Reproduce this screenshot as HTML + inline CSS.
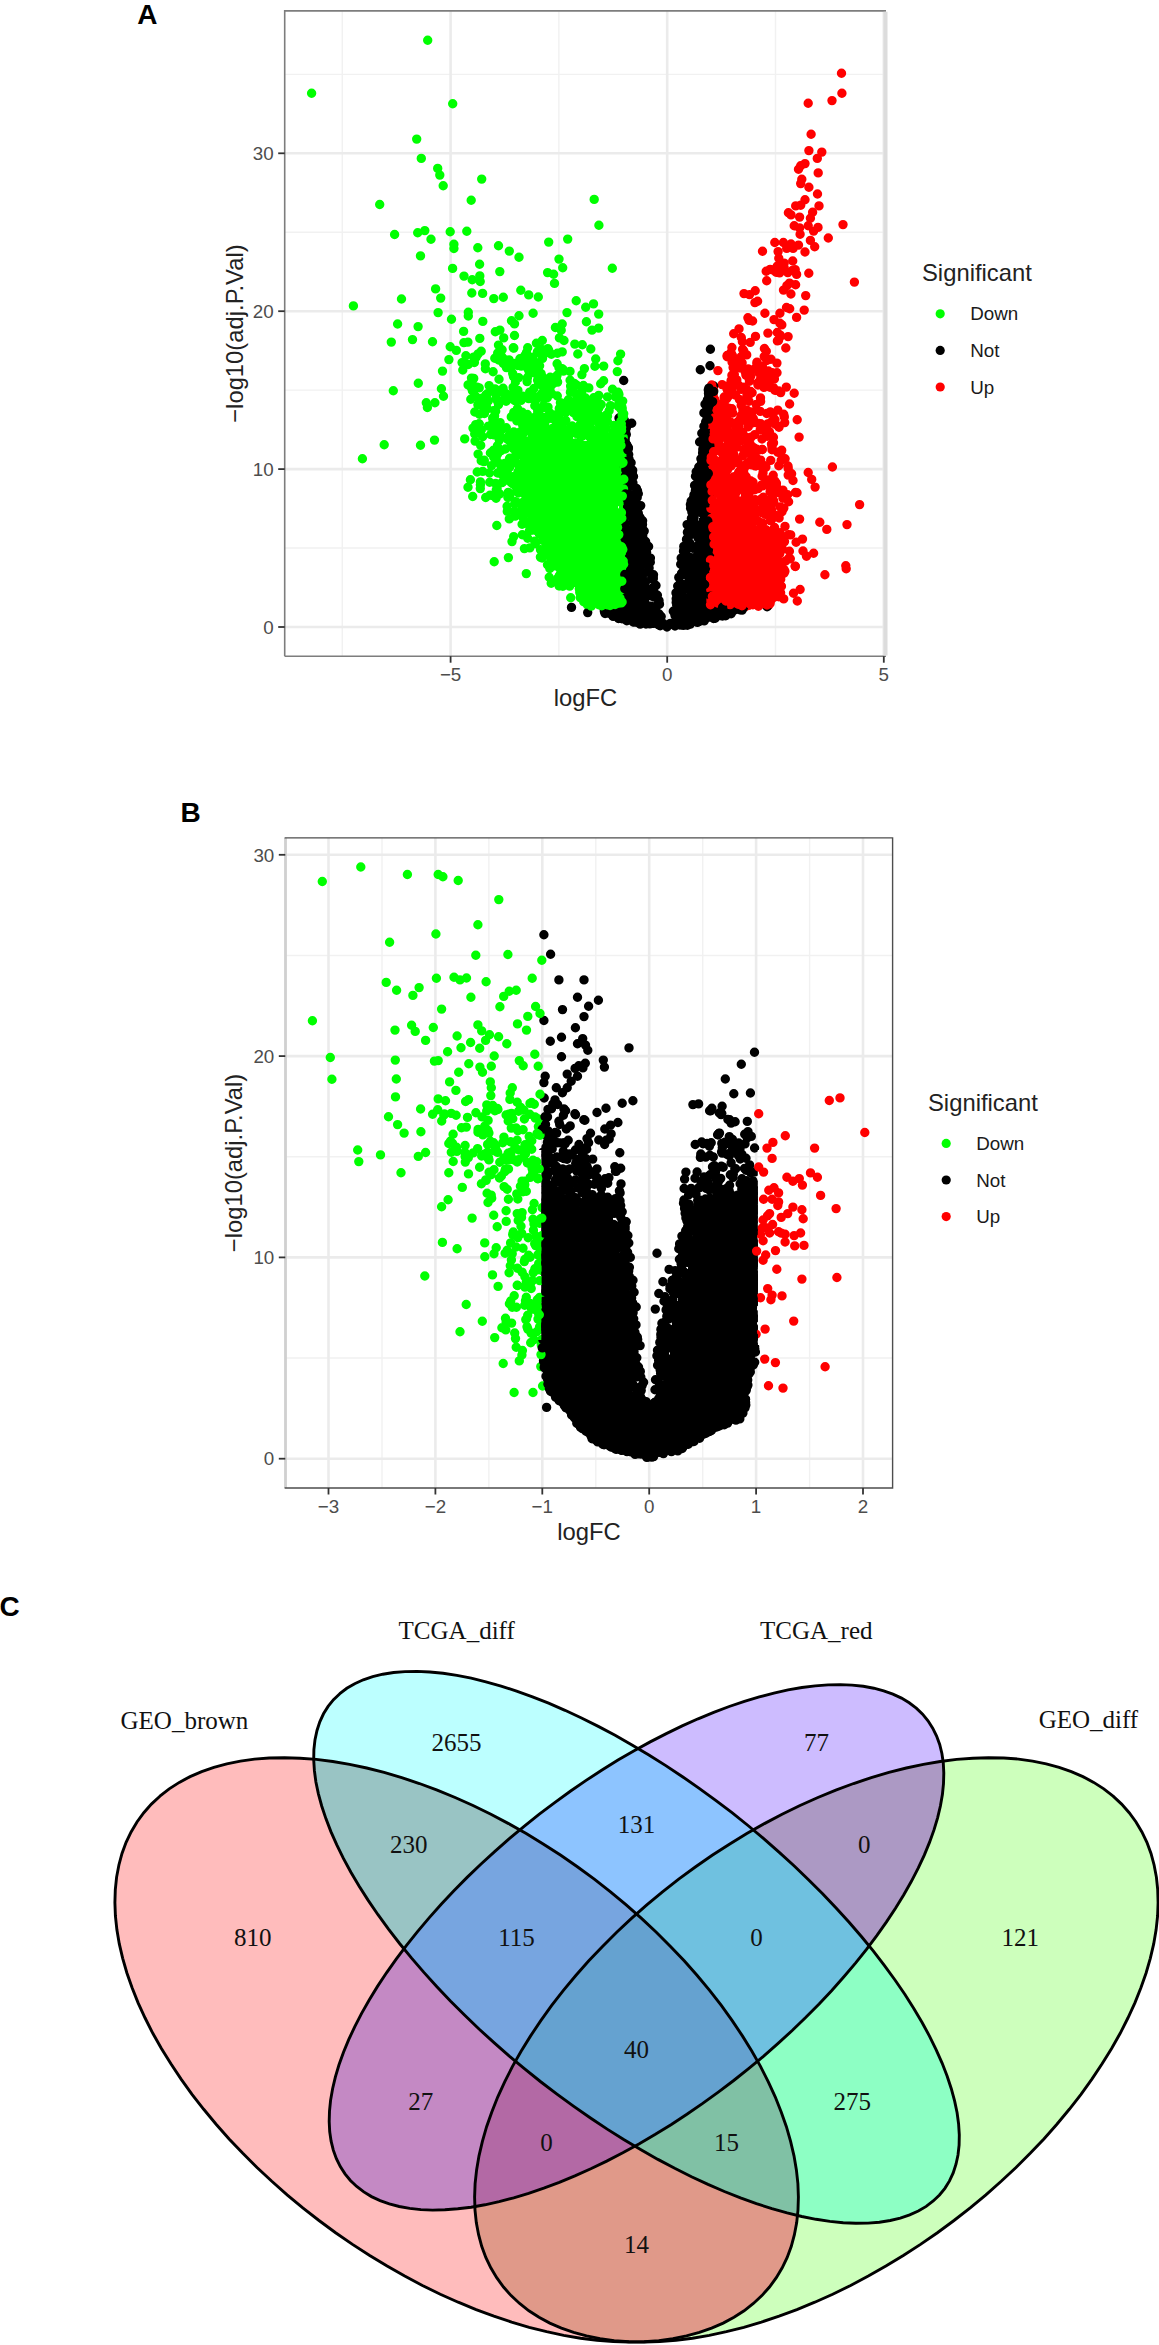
<!DOCTYPE html>
<html><head><meta charset="utf-8"><title>Figure</title>
<style>
html,body{margin:0;padding:0;background:#fff;}
body{width:1159px;height:2345px;overflow:hidden;font-family:"Liberation Sans",sans-serif;}
svg{display:block;}
text{font-family:"Liberation Sans",sans-serif;}
.tk{font-size:18.8px;fill:#4d4d4d;}
.ti{font-size:23.8px;fill:#222;}
.lg{font-size:18.8px;fill:#1a1a1a;}
.pl{font-size:28px;font-weight:bold;fill:#000;}
.vn{font-family:"Liberation Serif",serif;font-size:25px;fill:#111;}
</style></head><body>
<svg width="1159" height="2345" viewBox="0 0 1159 2345">
<rect width="1159" height="2345" fill="#fff"/>
<!-- Panel A -->
<text x="137.3" y="23.6" class="pl">A</text>
<rect x="284.7" y="10.9" width="601.3" height="645.3" fill="#fff"/>
<line x1="342.3" x2="342.3" y1="10.9" y2="656.2" stroke="#f1f1f1" stroke-width="1.4"/>
<line x1="558.9" x2="558.9" y1="10.9" y2="656.2" stroke="#f1f1f1" stroke-width="1.4"/>
<line x1="775.5" x2="775.5" y1="10.9" y2="656.2" stroke="#f1f1f1" stroke-width="1.4"/>
<line y1="548.0" y2="548.0" x1="284.7" x2="886.0" stroke="#f1f1f1" stroke-width="1.4"/>
<line y1="390.1" y2="390.1" x1="284.7" x2="886.0" stroke="#f1f1f1" stroke-width="1.4"/>
<line y1="232.2" y2="232.2" x1="284.7" x2="886.0" stroke="#f1f1f1" stroke-width="1.4"/>
<line y1="74.4" y2="74.4" x1="284.7" x2="886.0" stroke="#f1f1f1" stroke-width="1.4"/>
<line x1="450.6" x2="450.6" y1="10.9" y2="656.2" stroke="#ebebeb" stroke-width="2.6"/>
<line x1="667.2" x2="667.2" y1="10.9" y2="656.2" stroke="#ebebeb" stroke-width="2.6"/>
<line x1="883.8" x2="883.8" y1="10.9" y2="656.2" stroke="#ebebeb" stroke-width="2.6"/>
<line y1="627.0" y2="627.0" x1="284.7" x2="886.0" stroke="#ebebeb" stroke-width="2.6"/>
<line y1="469.1" y2="469.1" x1="284.7" x2="886.0" stroke="#ebebeb" stroke-width="2.6"/>
<line y1="311.2" y2="311.2" x1="284.7" x2="886.0" stroke="#ebebeb" stroke-width="2.6"/>
<line y1="153.3" y2="153.3" x1="284.7" x2="886.0" stroke="#ebebeb" stroke-width="2.6"/>
<g id="scatterA">
<path d="M703 496h2v2h-2zM703 498h2v2h-2zM703 500h2v2h-2zM702 502h3v2h-3zM702 504h3v2h-3zM702 506h3v2h-3zM701 508h4v2h-4zM701 510h4v2h-4zM630 512h2v2h-2zM700 512h5v2h-5zM630 514h2v2h-2zM700 514h5v2h-5zM630 516h2v2h-2zM700 516h5v2h-5zM630 518h3v2h-3zM699 518h6v2h-6zM630 520h3v2h-3zM699 520h6v2h-6zM630 522h4v2h-4zM699 522h6v2h-6zM630 524h4v2h-4zM698 524h7v2h-7zM630 526h4v2h-4zM698 526h7v2h-7zM630 528h5v2h-5zM698 528h7v2h-7zM630 530h5v2h-5zM697 530h8v2h-8zM630 532h5v2h-5zM697 532h8v2h-8zM630 534h6v2h-6zM697 534h8v2h-8zM630 536h6v2h-6zM696 536h9v2h-9zM630 538h7v2h-7zM696 538h9v2h-9zM630 540h7v2h-7zM696 540h9v2h-9zM630 542h7v2h-7zM695 542h10v2h-10zM630 544h8v2h-8zM695 544h10v2h-10zM630 546h8v2h-8zM695 546h10v2h-10zM630 548h9v2h-9zM694 548h11v2h-11zM630 550h9v2h-9zM694 550h11v2h-11zM630 552h9v2h-9zM694 552h11v2h-11zM630 554h10v2h-10zM693 554h12v2h-12zM630 556h10v2h-10zM693 556h12v2h-12zM630 558h10v2h-10zM693 558h12v2h-12zM630 560h11v2h-11zM692 560h13v2h-13zM630 562h11v2h-11zM692 562h13v2h-13zM630 564h12v2h-12zM692 564h13v2h-13zM630 566h12v2h-12zM691 566h14v2h-14zM630 568h12v2h-12zM691 568h14v2h-14zM630 570h13v2h-13zM691 570h14v2h-14zM630 572h13v2h-13zM690 572h15v2h-15zM630 574h14v2h-14zM690 574h15v2h-15zM630 576h14v2h-14zM690 576h15v2h-15zM630 578h14v2h-14zM689 578h16v2h-16zM630 580h15v2h-15zM689 580h16v2h-16zM630 582h15v2h-15zM689 582h16v2h-16zM630 584h15v2h-15zM688 584h17v2h-17zM630 586h16v2h-16zM688 586h17v2h-17zM630 588h16v2h-16zM687 588h18v2h-18zM630 590h17v2h-17zM687 590h18v2h-18zM630 592h17v2h-17zM687 592h18v2h-18zM630 594h17v2h-17zM686 594h19v2h-19zM630 596h18v2h-18zM686 596h19v2h-19zM630 598h18v2h-18zM686 598h19v2h-19zM630 600h19v2h-19zM685 600h20v2h-20zM630 602h19v2h-19zM685 602h20v2h-20zM630 604h19v2h-19zM685 604h20v2h-20zM630 606h20v2h-20zM684 606h21v2h-21zM630 608h20v2h-20zM684 608h21v2h-21zM630 610h21v2h-21zM684 610h21v2h-21zM630 612h21v2h-21zM684 612h21v2h-21zM630 614h21v2h-21zM684 614h21v2h-21zM630 616h22v2h-22zM683 616h22v2h-22zM637 618h15v2h-15zM683 618h15v2h-15zM650 620h2v2h-2zM683 620h3v2h-3z" fill="#000"/><path d="M522 441h88v2h-88zM521 443h94v2h-94zM521 445h97v2h-97zM521 447h97v2h-97zM521 449h97v2h-97zM521 451h97v2h-97zM520 453h98v2h-98zM520 455h98v2h-98zM520 457h98v2h-98zM520 459h98v2h-98zM520 461h98v2h-98zM520 463h98v2h-98zM519 465h99v2h-99zM519 467h99v2h-99zM519 469h99v2h-99zM519 471h99v2h-99zM519 473h99v2h-99zM519 475h99v2h-99zM518 477h100v2h-100zM518 479h100v2h-100zM518 481h100v2h-100zM519 483h99v2h-99zM519 485h99v2h-99zM520 487h98v2h-98zM520 489h98v2h-98zM520 491h98v2h-98zM521 493h97v2h-97zM521 495h97v2h-97zM522 497h96v2h-96zM522 499h96v2h-96zM523 501h95v2h-95zM523 503h95v2h-95zM524 505h94v2h-94zM525 507h93v2h-93zM526 509h92v2h-92zM527 511h91v2h-91zM528 513h90v2h-90zM528 515h90v2h-90zM529 517h89v2h-89zM531 519h87v2h-87zM532 521h86v2h-86zM533 523h85v2h-85zM534 525h84v2h-84zM536 527h82v2h-82zM537 529h81v2h-81zM538 531h80v2h-80zM540 533h78v2h-78zM541 535h77v2h-77zM542 537h76v2h-76zM543 539h75v2h-75zM545 541h73v2h-73zM546 543h72v2h-72zM547 545h71v2h-71zM548 547h70v2h-70zM549 549h69v2h-69zM550 551h68v2h-68zM552 553h66v2h-66zM553 555h65v2h-65zM554 557h64v2h-64zM555 559h63v2h-63zM556 561h62v2h-62zM557 563h61v2h-61zM558 565h60v2h-60zM560 567h58v2h-58zM561 569h57v2h-57zM562 571h56v2h-56zM563 573h55v2h-55zM564 575h54v2h-54zM566 577h52v2h-52zM568 579h50v2h-50zM570 581h48v2h-48zM572 583h46v2h-46zM574 585h44v2h-44zM576 587h42v2h-42zM578 589h40v2h-40zM580 591h38v2h-38zM582 593h36v2h-36zM585 595h33v2h-33zM588 597h30v2h-30zM590 599h28v2h-28z" fill="#00ff00"/><path d="M717 460h2v2h-2zM717 462h4v2h-4zM717 464h8v2h-8zM717 466h12v2h-12zM717 468h13v2h-13zM717 470h13v2h-13zM717 472h13v2h-13zM717 474h14v2h-14zM717 476h14v2h-14zM717 478h15v2h-15zM717 480h15v2h-15zM717 482h16v2h-16zM717 484h16v2h-16zM717 486h17v2h-17zM717 488h17v2h-17zM717 490h18v2h-18zM717 492h18v2h-18zM717 494h19v2h-19zM717 496h19v2h-19zM717 498h20v2h-20zM717 500h21v2h-21zM717 502h21v2h-21zM717 504h22v2h-22zM717 506h22v2h-22zM717 508h22v2h-22zM717 510h23v2h-23zM717 512h23v2h-23zM717 514h24v2h-24zM717 516h24v2h-24zM717 518h25v2h-25zM717 520h26v2h-26zM717 522h27v2h-27zM717 524h27v2h-27zM717 526h28v2h-28zM717 528h29v2h-29zM717 530h31v2h-31zM717 532h33v2h-33zM717 534h35v2h-35zM717 536h40v2h-40zM717 538h44v2h-44zM717 540h51v2h-51zM717 542h59v2h-59zM717 544h59v2h-59zM717 546h59v2h-59zM717 548h59v2h-59zM717 550h59v2h-59zM717 552h59v2h-59zM717 554h59v2h-59zM717 556h59v2h-59zM717 558h59v2h-59zM717 560h59v2h-59zM717 562h59v2h-59zM717 564h59v2h-59zM717 566h59v2h-59zM717 568h59v2h-59zM717 570h59v2h-59zM717 572h59v2h-59zM717 574h59v2h-59zM717 576h59v2h-59zM717 578h59v2h-59zM717 580h59v2h-59zM717 582h59v2h-59zM717 584h59v2h-59zM717 586h59v2h-59zM717 588h59v2h-59zM717 590h57v2h-57zM717 592h55v2h-55zM717 594h54v2h-54zM717 596h52v2h-52zM717 598h50v2h-50zM717 600h49v2h-49z" fill="#ff0000"/>
<path d="M716.7 610.8h0M710.2 426.7h0M709.6 516.2h0M657.4 595.3h0M685.0 605.4h0M705.2 438.3h0M706.3 559.4h0M626.4 468.6h0M615.4 608.2h0M690.3 624.1h0M659.0 600.6h0M625.3 491.2h0M707.2 599.6h0M630.7 515.0h0M687.1 524.6h0M706.4 502.3h0M629.5 467.0h0M682.8 574.0h0M682.7 623.6h0M640.7 505.6h0M702.5 513.1h0M703.7 580.2h0M627.7 567.3h0M627.4 473.5h0M625.5 442.8h0M702.2 505.7h0M627.7 487.3h0M604.0 607.8h0M642.6 520.8h0M707.6 480.5h0M709.1 603.1h0M710.1 533.7h0M642.1 576.9h0M709.2 521.4h0M604.3 609.8h0M705.4 575.5h0M708.0 497.7h0M624.1 515.7h0M626.7 490.9h0M702.9 479.3h0M692.9 548.3h0M698.1 613.2h0M694.9 524.3h0M733.6 607.9h0M705.7 594.9h0M702.7 583.3h0M709.8 468.6h0M659.5 604.3h0M637.3 584.8h0M644.2 531.1h0M707.5 399.7h0M694.0 518.4h0M697.9 621.5h0M707.0 430.6h0M670.4 623.4h0M621.2 616.5h0M708.7 405.5h0M625.6 453.9h0M708.5 562.8h0M706.7 425.4h0M693.4 498.2h0M624.7 618.9h0M625.9 481.3h0M641.3 586.5h0M692.8 530.2h0M642.7 536.0h0M631.8 495.1h0M680.7 564.2h0M695.5 476.3h0M691.6 545.7h0M731.1 608.2h0M625.9 534.7h0M731.7 612.0h0M619.0 418.0h0M626.2 480.1h0M641.1 521.5h0M635.2 610.2h0M709.8 535.6h0M716.1 615.4h0M685.7 623.5h0M690.1 528.1h0M686.5 539.4h0M631.0 546.3h0M626.7 445.3h0M691.9 512.2h0M627.4 561.0h0" stroke="#000000" stroke-width="9.4" stroke-linecap="round" fill="none"/>
<path d="M559.4 578.4h0M595.4 457.9h0M542.1 489.3h0M605.1 485.6h0M597.7 598.6h0M593.8 438.0h0M620.8 586.5h0M576.8 488.9h0M526.5 419.9h0M591.5 407.3h0M493.5 450.2h0M614.8 448.5h0M551.3 378.2h0M570.6 402.2h0M452.7 103.7h0M550.5 523.5h0M581.9 374.6h0M562.9 569.6h0M616.8 482.2h0M570.1 573.9h0M595.1 458.7h0M575.6 535.3h0M618.4 495.5h0M623.0 563.3h0M515.1 434.7h0M602.5 475.1h0M620.1 590.9h0M615.2 528.6h0M525.8 504.5h0M599.7 434.6h0M619.8 600.4h0M586.0 479.1h0M574.4 463.7h0M518.4 493.0h0M508.5 361.5h0M573.5 412.8h0M418.3 383.3h0M546.0 420.1h0M536.7 523.2h0M593.9 589.8h0M524.9 478.2h0M527.5 377.5h0M518.5 474.1h0M551.6 484.7h0M619.7 515.7h0M590.8 349.0h0M588.0 605.5h0M583.2 456.8h0M561.4 535.9h0M517.9 452.6h0M551.2 583.3h0M526.5 352.6h0M509.6 367.9h0M484.9 402.5h0M479.2 387.9h0M600.8 570.3h0M541.1 373.6h0M437.7 168.4h0M588.4 400.6h0M588.1 556.7h0M579.4 544.8h0M588.7 557.4h0M594.3 402.9h0M499.3 440.1h0M557.6 543.9h0M618.9 394.4h0M598.0 467.4h0M537.2 485.5h0M494.0 434.9h0M551.5 429.7h0M601.8 469.2h0M566.4 578.0h0M514.7 503.7h0M495.7 411.2h0M494.4 410.5h0M520.0 442.2h0M606.0 545.9h0M514.9 363.4h0M601.2 404.5h0M614.7 496.0h0M474.7 434.0h0M474.7 427.8h0M540.6 422.3h0M537.7 411.0h0M547.5 461.3h0M603.3 535.9h0M497.4 445.8h0M593.3 411.6h0M548.9 534.5h0M537.2 415.0h0M480.2 281.5h0M607.5 421.7h0M571.8 527.0h0M538.3 369.2h0M541.7 527.7h0M619.0 555.5h0M528.7 294.9h0M564.4 528.9h0M574.8 443.1h0M506.3 360.4h0M621.4 475.6h0M584.5 445.4h0M608.4 444.7h0M517.7 365.5h0M561.2 330.2h0M603.1 524.0h0M610.3 501.1h0M563.6 574.6h0M528.3 507.2h0M525.4 429.1h0M597.0 446.5h0M596.8 508.5h0M611.4 485.7h0M568.0 446.5h0M564.7 441.5h0M520.2 480.0h0M482.7 471.4h0M592.2 498.0h0M511.5 320.8h0M536.9 495.7h0M578.6 581.4h0M471.5 378.1h0M612.5 606.0h0M562.8 497.3h0M592.0 330.1h0M617.5 443.5h0M474.4 362.5h0M509.5 459.1h0M620.2 539.1h0M501.0 450.8h0M578.9 573.8h0M563.1 454.5h0M587.2 575.3h0M498.5 345.1h0M427.4 407.5h0M607.5 416.3h0M565.8 420.5h0M573.2 571.1h0M548.6 394.3h0M560.4 578.1h0M536.0 483.3h0M551.7 536.1h0M482.8 321.4h0M516.8 414.1h0M621.5 443.9h0M575.4 542.7h0M496.0 398.6h0M620.2 494.2h0M553.0 383.8h0M603.1 562.6h0M593.9 411.7h0M542.3 376.5h0M570.0 371.4h0M393.3 390.7h0M548.6 449.8h0M496.8 525.5h0M530.3 476.1h0M498.5 404.8h0M492.9 495.6h0M621.3 466.6h0M555.0 565.9h0M559.4 337.9h0M600.8 435.1h0M616.7 591.4h0" stroke="#00ff00" stroke-width="9.4" stroke-linecap="round" fill="none"/>
<path d="M768.7 501.1h0M770.5 583.5h0M713.6 413.3h0M768.7 550.9h0M723.7 545.8h0M762.7 485.9h0M789.5 283.1h0M773.5 500.5h0M760.1 598.6h0M770.3 520.6h0M753.0 482.3h0M714.7 568.3h0M743.8 473.2h0M762.0 439.0h0M743.3 502.5h0M800.1 234.3h0M767.3 546.7h0M711.4 404.2h0M738.7 472.3h0M768.9 382.4h0M821.8 152.1h0M795.2 566.1h0M750.0 485.8h0M777.9 549.5h0M752.8 517.6h0M781.8 324.9h0M723.2 480.6h0M712.8 547.7h0M712.6 586.9h0M729.2 575.6h0M711.0 576.8h0M722.7 463.9h0M751.5 599.6h0M750.7 376.2h0M735.6 596.4h0M826.8 529.4h0M753.3 509.3h0M755.3 580.7h0M782.4 548.7h0M841.9 93.3h0M713.7 445.5h0M779.8 563.5h0M760.5 397.9h0M737.1 508.1h0M808.2 225.7h0M748.9 550.6h0M714.4 537.7h0M726.9 386.3h0M758.4 450.2h0M796.6 274.4h0M744.6 510.7h0M758.4 606.2h0M749.0 516.8h0M751.7 548.3h0M761.8 380.4h0M710.6 453.9h0M805.0 199.8h0M755.3 455.4h0M723.5 486.9h0M742.9 401.2h0M742.4 341.8h0M714.4 408.4h0M777.8 410.1h0M715.4 512.7h0M736.9 501.4h0M715.0 446.3h0M750.4 541.2h0M712.1 584.2h0M740.1 548.6h0M736.1 360.3h0M736.5 492.1h0M749.5 381.2h0M717.5 417.2h0M726.8 416.8h0M710.7 394.0h0M785.7 560.9h0M715.1 516.9h0M764.9 313.3h0M776.4 483.3h0M766.3 351.3h0M747.4 413.9h0M712.9 487.3h0M772.2 553.1h0M764.5 572.9h0M711.9 471.9h0M777.3 266.1h0M735.7 602.9h0M781.2 267.5h0M795.6 284.8h0M726.7 398.8h0M723.7 411.5h0M724.2 417.7h0M788.6 558.5h0M777.7 590.8h0M722.1 384.6h0M785.0 526.4h0M777.8 540.9h0M712.6 486.4h0M775.0 419.7h0M727.4 425.8h0M808.2 472.5h0M728.1 455.6h0M732.3 483.8h0M774.0 490.5h0M756.6 449.2h0M728.9 462.7h0M711.1 524.8h0M784.2 267.9h0M771.1 566.6h0M731.2 478.7h0" stroke="#ff0000" stroke-width="9.4" stroke-linecap="round" fill="none"/>
<path d="M608.0 612.1h0M707.1 593.6h0M704.2 620.9h0M698.8 467.0h0M626.3 434.6h0M698.2 538.3h0M708.6 587.4h0M704.5 471.0h0M709.4 410.8h0M696.1 491.4h0M705.9 495.6h0M701.1 472.4h0M722.5 616.0h0M627.1 490.9h0M642.5 610.1h0M629.9 536.7h0M708.8 590.5h0M631.7 423.2h0M689.6 619.0h0M653.1 587.6h0M651.7 577.7h0M699.1 499.2h0M625.9 595.9h0M627.9 530.4h0M650.2 595.8h0M587.7 612.6h0M639.0 583.3h0M709.7 414.9h0M624.7 603.3h0M700.4 551.4h0M720.0 614.7h0M626.6 587.3h0M693.9 620.7h0M683.7 589.0h0M725.5 607.8h0M643.4 559.6h0M698.3 617.7h0M624.3 467.4h0M711.0 607.7h0M709.3 442.8h0M689.2 614.0h0M709.7 594.1h0M649.8 623.9h0M673.0 624.5h0M713.6 618.5h0M633.0 502.4h0M701.6 493.4h0M635.4 592.2h0M642.2 577.3h0M658.8 602.8h0M707.9 538.4h0M702.6 452.9h0M613.3 609.3h0M660.2 625.8h0M647.3 605.7h0M708.5 585.2h0M699.9 552.0h0M701.3 560.1h0M709.8 617.0h0M639.5 619.9h0M710.1 442.0h0M677.7 586.1h0M626.9 555.7h0M604.4 611.6h0M707.4 571.4h0M624.6 555.8h0M639.3 555.3h0M653.6 623.4h0M708.7 494.1h0M707.6 552.5h0M687.9 556.9h0M631.5 552.6h0M627.2 462.2h0M648.7 571.2h0M708.3 390.0h0M631.8 606.2h0" stroke="#000000" stroke-width="9.4" stroke-linecap="round" fill="none"/>
<path d="M594.4 591.4h0M588.0 490.3h0M526.0 496.1h0M560.7 457.4h0M549.1 503.1h0M557.2 461.3h0M613.5 580.7h0M586.4 321.8h0M516.8 416.1h0M588.1 416.9h0M622.1 499.0h0M523.1 502.3h0M614.1 597.5h0M579.1 434.0h0M618.8 441.4h0M555.1 543.5h0M594.8 466.0h0M609.0 557.4h0M543.9 454.3h0M548.7 350.3h0M557.0 449.5h0M622.0 575.9h0M614.6 432.7h0M612.0 435.9h0M531.8 475.5h0M467.9 342.1h0M540.7 440.2h0M353.4 305.9h0M573.0 576.2h0M426.3 402.8h0M537.4 351.8h0M590.2 437.5h0M623.5 484.5h0M592.1 473.8h0M549.7 467.2h0M534.4 508.5h0M583.2 576.7h0M465.9 355.7h0M503.7 337.9h0M511.1 477.8h0M607.7 552.3h0M597.2 435.2h0M443.5 396.3h0M509.3 251.1h0M581.4 547.6h0M559.6 487.4h0M397.6 324.0h0M554.5 283.4h0M556.4 560.9h0M477.2 472.0h0M595.1 409.5h0M576.2 400.2h0M531.0 371.7h0M568.3 437.4h0M617.2 550.4h0M606.3 448.5h0M523.6 509.4h0M622.2 482.3h0M513.3 441.5h0M513.8 412.4h0M532.8 526.3h0M539.2 489.6h0M573.3 491.3h0M552.2 470.2h0M600.3 497.0h0M525.1 523.1h0M561.9 452.8h0M573.6 507.9h0M557.3 444.5h0M566.6 467.2h0M569.9 521.8h0M572.7 411.2h0M583.6 429.0h0M527.7 347.8h0M620.4 483.4h0M540.5 353.6h0M535.5 362.5h0M590.4 413.8h0M582.7 508.3h0M484.2 460.2h0M524.5 364.4h0M546.9 383.0h0M601.0 448.2h0M614.3 591.4h0M463.9 342.6h0M622.6 434.2h0M478.9 423.9h0M605.6 516.3h0M511.9 444.2h0M583.2 512.3h0M612.0 440.8h0M597.7 568.5h0M544.2 492.0h0M584.9 406.3h0M609.6 562.9h0M570.9 463.7h0M623.4 453.6h0M559.3 585.6h0M531.4 438.9h0M594.4 560.8h0M623.8 449.4h0M570.1 511.4h0M606.2 514.8h0M594.2 454.4h0M555.4 327.5h0M553.3 540.9h0M604.1 456.4h0M603.8 458.2h0M559.3 575.7h0M477.8 247.7h0M534.4 461.4h0M577.4 442.6h0M518.7 419.4h0M606.9 438.1h0M545.3 391.6h0M557.8 494.4h0M570.2 427.6h0M619.5 431.8h0M616.1 561.5h0M593.2 456.4h0M570.3 466.2h0M473.7 378.4h0M596.5 600.1h0M599.4 448.5h0M572.8 568.5h0M420.5 445.3h0M595.3 570.4h0M586.7 450.5h0M544.1 398.6h0M473.0 428.1h0M570.2 490.0h0M591.2 435.0h0M543.4 521.9h0M603.6 380.7h0M511.2 367.4h0M592.7 535.8h0M541.7 385.4h0M598.3 562.0h0M535.7 439.6h0M453.9 244.2h0M456.3 350.4h0M618.0 602.4h0M592.0 603.5h0M616.1 589.4h0M533.5 445.4h0M597.7 596.7h0M567.9 535.6h0M579.0 481.5h0M559.7 530.7h0M543.0 392.3h0M547.8 486.2h0M566.1 554.5h0M557.5 450.6h0M608.7 582.8h0M553.7 450.8h0M506.9 466.7h0M529.7 392.1h0M519.0 503.1h0M506.3 464.6h0M562.7 484.9h0M547.4 491.4h0M597.7 547.7h0M598.8 574.8h0M575.2 529.4h0M489.7 482.3h0M535.7 491.1h0M530.4 431.0h0M564.0 340.5h0M579.8 425.1h0M519.2 364.7h0M540.7 485.0h0M585.5 467.1h0M584.3 419.1h0" stroke="#00ff00" stroke-width="9.4" stroke-linecap="round" fill="none"/>
<path d="M752.6 453.8h0M732.3 460.3h0M766.7 280.7h0M738.7 385.4h0M747.1 422.2h0M733.1 367.6h0M783.9 569.2h0M721.8 510.7h0M778.9 582.0h0M740.2 545.1h0M765.9 481.0h0M730.8 493.9h0M770.1 269.4h0M717.3 427.8h0M759.0 372.9h0M718.1 479.7h0M783.5 290.1h0M770.1 491.7h0M722.2 488.2h0M722.0 570.4h0M733.3 573.5h0M727.0 514.6h0M723.6 480.0h0M780.2 578.4h0M736.0 503.0h0M725.2 595.9h0M713.5 597.6h0M768.9 500.1h0M758.1 488.6h0M765.3 357.4h0M720.1 557.4h0M750.2 499.7h0M761.4 502.0h0M779.7 580.0h0M783.4 242.5h0M754.3 603.8h0M800.1 589.5h0M757.8 548.4h0M756.6 458.3h0M747.5 437.8h0M717.8 585.8h0M712.0 529.5h0M739.4 367.8h0M711.5 563.7h0M722.2 533.3h0M731.1 409.8h0M780.8 550.6h0M741.7 516.9h0M753.0 538.9h0M720.1 438.5h0M775.9 538.9h0M811.7 479.4h0M744.3 602.3h0M740.7 524.5h0M725.8 537.6h0M815.1 487.1h0M725.1 566.7h0M730.6 571.2h0M761.0 366.5h0M738.8 545.3h0M766.9 556.3h0M727.2 356.7h0M745.6 533.5h0M717.2 551.9h0M764.0 387.4h0M760.6 464.2h0M753.0 557.6h0M711.9 420.5h0M783.7 598.9h0M745.6 526.5h0M730.9 457.7h0M722.4 488.2h0M788.6 534.6h0M770.7 593.0h0M728.6 597.2h0M796.1 542.3h0M763.5 579.8h0M735.8 359.3h0M799.1 437.1h0M714.1 438.9h0M717.8 472.2h0M735.3 523.0h0M774.8 242.5h0M746.9 395.3h0M746.6 531.9h0M716.9 433.8h0M770.3 480.8h0M711.4 502.8h0M737.3 577.5h0M712.0 441.5h0M810.4 240.4h0M722.9 449.0h0M760.6 596.7h0M715.3 434.7h0M728.9 550.8h0M719.7 553.8h0M721.3 404.2h0M731.2 484.8h0M753.9 563.4h0M760.2 411.4h0M718.3 425.0h0M732.7 513.2h0M770.3 373.8h0M772.9 414.7h0M715.3 410.9h0M766.2 501.7h0M727.5 541.2h0M765.5 514.4h0M732.5 456.5h0M736.1 423.1h0M774.7 552.1h0" stroke="#ff0000" stroke-width="9.4" stroke-linecap="round" fill="none"/>
<path d="M625.4 589.5h0M710.2 435.1h0M695.2 508.7h0M686.1 565.7h0M692.1 534.2h0M638.6 536.7h0M704.3 600.5h0M639.5 617.1h0M709.3 510.0h0M655.9 615.6h0M725.7 615.8h0M702.8 563.5h0M702.6 441.9h0M656.0 585.5h0M709.0 430.0h0M623.1 431.9h0M607.4 612.7h0M628.9 458.6h0M710.3 455.1h0M703.6 565.2h0M624.6 449.7h0M632.7 470.2h0M625.5 524.3h0M702.9 498.2h0M624.0 422.2h0M650.6 611.2h0M633.3 621.6h0M713.4 612.5h0M708.5 446.6h0M625.2 439.1h0M627.8 512.6h0M640.6 571.0h0M708.6 518.5h0M687.9 582.7h0M623.8 612.1h0M613.2 616.4h0M629.3 614.7h0M706.8 581.3h0M710.4 510.3h0M693.2 586.7h0M691.9 583.5h0M707.2 545.4h0M629.3 592.5h0M625.1 465.4h0M633.9 612.5h0M705.0 609.7h0M713.3 397.7h0M695.9 500.5h0M631.7 536.5h0M709.9 575.3h0M700.2 598.3h0M654.8 615.3h0M707.5 568.8h0M628.7 454.5h0M705.4 613.5h0M626.6 475.3h0M702.1 594.6h0M632.9 482.7h0M696.8 510.4h0M686.5 569.5h0M638.0 508.4h0M622.0 608.8h0M704.9 465.0h0M625.6 541.8h0M697.4 622.4h0M729.0 609.6h0M702.7 505.1h0M704.3 615.0h0M706.8 529.8h0M638.2 576.4h0M698.8 591.3h0M731.1 613.8h0M698.2 587.0h0M687.4 625.3h0M661.2 616.6h0M627.3 566.9h0M709.9 462.3h0M736.0 608.1h0M683.5 551.2h0" stroke="#000000" stroke-width="9.4" stroke-linecap="round" fill="none"/>
<path d="M590.5 561.6h0M502.1 349.7h0M475.7 424.6h0M595.4 568.9h0M604.3 476.4h0M540.4 373.5h0M615.1 493.9h0M622.5 561.1h0M556.4 379.2h0M620.0 498.0h0M379.7 204.5h0M584.2 432.9h0M588.0 408.6h0M579.8 592.6h0M610.5 405.6h0M551.8 545.1h0M571.0 581.7h0M622.9 492.6h0M521.3 467.4h0M606.4 561.7h0M601.0 600.8h0M513.8 348.1h0M589.9 436.6h0M559.3 461.0h0M560.2 548.0h0M471.4 387.7h0M568.3 492.9h0M544.1 446.2h0M587.3 530.7h0M560.6 499.0h0M623.0 555.9h0M608.6 604.2h0M498.5 245.7h0M543.6 462.1h0M613.4 470.7h0M513.1 387.4h0M570.8 458.4h0M573.4 469.2h0M468.3 316.0h0M620.4 579.0h0M514.4 511.2h0M579.9 450.1h0M622.4 534.6h0M606.0 539.6h0M549.3 441.8h0M618.3 482.3h0M540.6 427.1h0M545.2 395.4h0M511.7 460.4h0M557.4 486.1h0M597.6 418.3h0M542.4 451.0h0M530.5 488.5h0M551.5 521.5h0M516.4 485.6h0M610.1 522.6h0M485.8 395.1h0M570.4 497.4h0M608.6 508.7h0M606.7 440.2h0M512.8 445.7h0M569.5 494.4h0M614.5 433.6h0M586.6 559.8h0M497.6 473.0h0M580.0 443.2h0M497.5 454.2h0M588.6 588.7h0M550.3 557.4h0M484.4 413.5h0M593.5 303.9h0M506.4 367.6h0M568.0 471.5h0M602.1 567.6h0M519.5 448.4h0M513.7 536.6h0M592.6 531.2h0M598.7 451.2h0M504.7 463.5h0M540.4 557.1h0M560.0 546.3h0M503.9 393.3h0M586.4 403.5h0M605.2 591.2h0M462.1 362.6h0M592.3 477.3h0M543.5 509.1h0M499.0 379.2h0M620.9 421.0h0M604.3 488.4h0M587.2 596.3h0M599.3 499.2h0M502.0 482.6h0M501.9 356.8h0M536.4 343.2h0M621.9 595.6h0M593.7 397.8h0M495.6 483.5h0M536.4 470.4h0M549.7 412.9h0M552.1 449.7h0M597.1 398.5h0M505.4 449.0h0M598.8 432.9h0M547.1 532.5h0M595.8 401.7h0M534.1 434.0h0M623.1 604.2h0M480.0 398.5h0M600.2 528.0h0M583.7 601.8h0M621.7 538.4h0M590.1 601.6h0M586.3 530.3h0M536.4 435.5h0M607.9 595.9h0M606.0 428.2h0M557.4 546.2h0M528.7 442.3h0M519.0 257.2h0M611.3 448.9h0M598.8 604.7h0M468.3 312.2h0M588.1 521.0h0M598.3 515.0h0M553.1 506.8h0M537.2 509.7h0M600.8 602.1h0M544.1 441.4h0M594.0 458.0h0M617.5 476.5h0M613.5 459.9h0M561.6 452.9h0M612.0 597.4h0M570.1 380.2h0M481.2 460.8h0M533.2 457.5h0M537.2 443.1h0M550.2 500.6h0M603.6 453.6h0M562.0 530.4h0M472.0 381.9h0M542.8 523.4h0M451.5 319.3h0M535.5 501.4h0M517.5 455.8h0M540.8 496.5h0M576.8 472.4h0M592.3 453.2h0M493.3 419.3h0M509.2 494.0h0M542.5 358.4h0M562.2 351.9h0M565.8 431.5h0M515.2 516.1h0M529.6 480.7h0M566.2 576.3h0M615.7 601.8h0M580.8 560.2h0M623.2 447.1h0M549.7 555.0h0M618.1 392.3h0M566.8 566.1h0M529.9 457.4h0M598.7 408.3h0M590.8 550.1h0M618.4 406.4h0M622.5 597.4h0M535.9 523.3h0M560.0 525.3h0M568.4 399.7h0M564.6 458.2h0M588.8 387.9h0M526.4 476.9h0M558.1 496.0h0M514.5 323.9h0M574.7 451.0h0M531.4 433.0h0M558.0 456.0h0M543.9 417.4h0" stroke="#00ff00" stroke-width="9.4" stroke-linecap="round" fill="none"/>
<path d="M713.5 559.8h0M744.5 528.7h0M804.2 310.1h0M714.5 404.2h0M710.6 527.4h0M780.6 534.8h0M761.5 485.1h0M748.7 605.4h0M719.3 529.2h0M761.4 589.4h0M738.0 592.0h0M756.2 465.7h0M753.3 589.7h0M721.8 513.9h0M713.9 479.4h0M729.8 584.9h0M720.7 596.5h0M776.1 272.2h0M742.7 605.7h0M734.2 495.0h0M782.9 498.2h0M814.7 246.8h0M800.7 183.6h0M732.4 586.3h0M713.7 492.1h0M711.9 498.2h0M739.2 512.9h0M713.1 424.1h0M757.3 599.5h0M775.3 424.1h0M726.4 602.4h0M783.8 508.1h0M776.0 568.5h0M736.4 502.5h0M818.2 172.9h0M773.8 541.6h0M791.6 473.8h0M781.0 452.0h0M715.0 399.9h0M771.2 599.8h0M779.6 272.9h0M745.5 526.9h0M740.4 418.9h0M736.8 503.9h0M763.4 497.2h0M803.0 551.0h0M728.8 518.6h0M759.0 593.4h0M739.6 595.7h0M787.6 494.7h0M773.4 437.3h0M754.4 596.1h0M722.0 544.5h0M752.7 522.4h0M711.0 397.4h0M763.4 499.6h0M733.5 503.3h0M740.7 506.9h0M774.6 527.5h0M769.6 589.7h0M751.4 549.8h0M746.9 593.3h0M720.4 524.8h0M796.6 317.4h0M859.6 504.6h0M712.8 401.7h0M731.9 408.7h0M727.8 447.9h0M753.1 422.7h0M747.1 410.3h0M770.1 555.2h0M741.4 368.0h0M738.2 586.3h0M713.1 491.2h0M780.7 579.2h0M832.0 100.6h0M717.8 567.7h0M745.1 371.5h0M786.9 285.6h0M775.7 515.5h0M726.9 543.8h0M788.1 336.6h0M746.5 510.1h0M745.4 493.1h0M724.3 542.3h0M819.8 522.2h0M771.6 519.6h0M774.9 481.1h0M727.3 590.9h0M732.8 359.8h0M824.9 574.8h0M843.0 224.6h0M736.0 366.1h0M739.4 558.7h0M753.0 451.6h0M765.2 374.0h0M750.6 584.5h0M746.1 520.4h0M771.0 359.3h0M757.7 558.9h0M711.7 576.3h0" stroke="#ff0000" stroke-width="9.4" stroke-linecap="round" fill="none"/>
<path d="M676.2 602.4h0M676.0 592.9h0M742.1 610.1h0M684.0 570.0h0M635.4 609.3h0M626.3 570.5h0M705.0 404.2h0M694.4 589.6h0M678.1 600.3h0M624.7 526.8h0M641.5 578.2h0M708.5 393.3h0M697.7 565.9h0M640.4 583.8h0M627.7 600.7h0M699.7 594.5h0M708.1 549.1h0M640.4 606.2h0M709.3 599.0h0M708.8 506.0h0M694.1 574.2h0M639.2 553.3h0M649.1 568.0h0M708.7 596.1h0M695.4 490.5h0M686.6 558.2h0M641.9 547.9h0M703.8 500.8h0M705.7 421.7h0M628.3 483.8h0M702.8 525.2h0M663.6 623.8h0M706.3 548.0h0M627.7 482.8h0M696.9 567.6h0M636.8 622.2h0M681.6 593.7h0M709.3 464.1h0M626.4 562.2h0M707.4 413.3h0M682.1 574.7h0M708.1 562.4h0M626.8 444.8h0M675.8 624.5h0M709.0 565.8h0M634.1 502.0h0M639.9 548.6h0M682.5 614.3h0M682.6 565.1h0M653.5 589.8h0M681.2 622.9h0M629.3 618.9h0M636.0 503.7h0M676.7 605.2h0M681.4 574.5h0M681.2 599.4h0M638.3 493.8h0M637.2 497.5h0M697.3 621.4h0M613.9 615.5h0M701.9 548.3h0M690.9 530.0h0M634.2 525.4h0M701.4 482.7h0M707.1 417.9h0M708.5 511.6h0M684.2 597.9h0M708.9 440.8h0M718.0 607.5h0M625.1 552.8h0M629.8 496.7h0M710.1 566.5h0M626.5 495.4h0M703.3 494.6h0M624.4 570.8h0M627.9 558.0h0M636.4 488.4h0M699.8 552.8h0M641.1 540.1h0M624.3 520.1h0M638.1 526.1h0M692.7 564.5h0M648.3 591.3h0M619.6 609.7h0" stroke="#000000" stroke-width="9.4" stroke-linecap="round" fill="none"/>
<path d="M600.7 424.3h0M561.5 484.8h0M594.6 597.1h0M557.1 520.2h0M526.2 498.5h0M476.5 427.2h0M621.8 499.9h0M617.1 458.7h0M574.2 489.2h0M573.2 526.5h0M618.5 513.3h0M608.7 475.4h0M574.4 383.5h0M583.4 527.7h0M592.5 548.7h0M606.8 450.7h0M580.3 597.6h0M542.8 422.3h0M517.9 390.4h0M617.9 438.2h0M574.5 534.1h0M513.3 347.8h0M507.3 511.4h0M588.7 492.2h0M563.7 429.2h0M496.2 459.9h0M511.7 482.1h0M540.3 418.8h0M552.4 453.7h0M498.7 360.0h0M604.0 463.8h0M581.4 541.3h0M581.1 499.1h0M557.1 562.4h0M450.2 346.7h0M583.3 555.0h0M608.1 555.8h0M464.0 276.1h0M571.6 429.9h0M552.7 484.3h0M573.1 548.7h0M609.0 554.6h0M497.7 353.1h0M582.8 538.0h0M541.7 349.4h0M590.7 457.6h0M554.7 419.1h0M540.0 409.5h0M542.3 506.0h0M622.6 435.5h0M607.7 452.4h0M595.1 593.4h0M586.0 566.3h0M576.8 555.3h0M496.2 425.1h0M530.6 426.7h0M524.5 446.8h0M537.9 513.1h0M623.2 509.4h0M584.8 414.2h0M580.9 408.5h0M587.7 517.9h0M507.4 439.2h0M547.5 564.7h0M610.1 526.9h0M557.8 428.8h0M578.8 553.3h0M617.9 450.6h0M570.6 502.0h0M593.8 567.6h0M542.7 505.6h0M539.3 431.1h0M497.7 401.5h0M614.9 538.2h0M562.9 586.3h0M555.3 430.6h0M617.8 519.8h0M601.8 539.9h0M506.1 401.3h0M536.9 436.6h0M620.6 441.2h0M560.8 434.5h0M594.1 499.1h0M542.0 531.0h0M394.6 234.5h0M569.4 506.9h0M528.0 444.7h0M617.9 360.7h0M589.3 602.3h0M610.0 581.3h0M562.2 529.9h0M544.9 459.3h0M525.3 359.8h0M602.8 541.8h0M568.4 509.6h0M485.4 368.7h0M518.0 471.8h0M555.2 450.5h0M550.0 388.4h0M579.4 510.1h0M559.4 459.4h0M566.3 562.8h0M526.9 473.6h0M584.0 469.0h0M557.6 451.5h0M580.7 393.6h0M550.9 470.8h0M582.7 564.8h0M600.6 485.8h0M600.7 383.8h0M546.8 528.0h0M525.1 507.2h0M559.0 259.1h0M556.3 452.8h0M484.3 397.5h0M589.2 533.3h0M509.3 518.9h0M519.7 448.1h0M565.7 412.4h0M609.3 556.8h0M589.7 542.6h0M431.0 239.3h0M545.4 389.1h0M522.3 534.7h0M532.6 530.0h0M588.0 409.9h0M596.7 431.8h0M571.5 565.9h0M524.7 428.7h0M538.5 421.2h0M535.0 465.8h0M617.2 484.4h0M621.3 442.6h0M548.4 458.0h0M615.8 500.8h0M535.5 530.3h0M618.5 603.1h0M623.1 567.9h0M599.4 424.3h0M563.1 369.6h0M547.5 352.6h0M583.6 479.4h0M573.0 569.9h0M587.2 459.4h0M563.0 497.0h0M609.5 605.2h0M622.6 444.4h0M513.5 448.7h0M606.3 508.5h0M613.1 482.8h0M549.0 387.0h0M557.7 416.2h0M487.6 408.8h0M593.4 544.5h0M618.3 533.8h0M622.2 471.1h0M612.4 596.0h0M607.5 396.9h0M591.6 528.8h0M494.8 358.2h0M611.3 474.8h0M589.7 448.3h0M591.2 534.7h0M530.1 395.8h0M620.7 522.5h0M580.9 588.9h0M614.5 529.5h0M550.2 512.3h0M541.4 394.1h0M553.6 274.2h0M548.4 484.9h0" stroke="#00ff00" stroke-width="9.4" stroke-linecap="round" fill="none"/>
<path d="M716.4 600.7h0M732.7 490.8h0M758.1 532.9h0M746.1 563.4h0M745.2 497.2h0M720.1 485.4h0M754.4 489.9h0M774.0 319.6h0M780.9 586.2h0M770.9 586.6h0M715.8 587.5h0M727.6 578.6h0M743.7 537.6h0M723.6 490.8h0M741.2 405.2h0M767.6 430.2h0M711.0 473.6h0M729.4 536.3h0M718.1 573.9h0M762.6 523.0h0M762.4 366.4h0M778.1 251.6h0M810.4 218.2h0M765.1 548.7h0M743.6 587.7h0M743.7 558.3h0M762.2 449.5h0M808.8 273.3h0M788.2 475.1h0M710.9 555.4h0M725.1 568.8h0M813.6 553.2h0M713.5 542.1h0M712.6 599.2h0M741.2 528.9h0M737.9 539.8h0M710.7 456.9h0M736.8 379.9h0M762.7 589.4h0M724.2 397.0h0M766.9 591.0h0M767.6 545.5h0M760.7 551.0h0M799.6 519.1h0M780.1 336.8h0M724.4 597.8h0M732.7 413.0h0M724.1 523.8h0M714.3 606.3h0M733.6 482.5h0M727.5 444.7h0M754.9 568.3h0M749.5 534.2h0M760.5 589.0h0M773.5 442.9h0M733.4 442.4h0M751.2 561.9h0M715.9 475.5h0M712.3 594.2h0M713.1 394.7h0M746.2 476.8h0M734.2 438.9h0M742.1 573.1h0M788.2 468.6h0M728.6 493.0h0M711.5 406.8h0M750.4 480.8h0M767.8 545.2h0M786.3 387.1h0M772.4 565.2h0M718.8 558.1h0M737.9 528.2h0M760.1 379.7h0M712.2 583.2h0M732.7 549.1h0M737.0 538.9h0M738.9 425.2h0M748.6 493.2h0M726.6 605.2h0M782.9 490.1h0M739.0 426.3h0M757.8 382.9h0M728.2 453.3h0M739.2 593.1h0M715.9 466.3h0M763.0 500.9h0M756.2 404.5h0M713.4 537.5h0M730.8 441.2h0M819.0 205.9h0M732.1 558.3h0M774.6 597.0h0M718.4 411.2h0M765.3 586.5h0M713.3 458.3h0M762.5 251.2h0M750.4 490.7h0M753.4 546.1h0M841.5 73.2h0M713.2 501.8h0M755.5 336.4h0M717.3 485.8h0M772.2 372.8h0M747.4 462.7h0M779.1 518.0h0" stroke="#ff0000" stroke-width="9.4" stroke-linecap="round" fill="none"/>
<path d="M709.0 598.0h0M690.6 508.2h0M710.1 606.8h0M624.3 420.0h0M708.1 501.0h0M659.1 614.0h0M625.6 431.2h0M713.7 386.0h0M701.8 574.5h0M710.3 416.1h0M624.5 503.4h0M709.5 557.9h0M629.1 483.3h0M740.8 609.4h0M696.7 556.4h0M707.2 401.0h0M696.2 471.8h0M631.1 462.8h0M645.9 552.0h0M641.6 575.0h0M699.8 563.4h0M705.0 570.2h0M649.2 609.4h0M704.9 528.3h0M710.4 424.2h0M632.3 597.3h0M680.0 625.0h0M695.4 528.1h0M694.6 485.4h0M624.2 561.9h0M642.2 528.3h0M687.1 584.8h0M628.2 447.6h0M703.2 510.5h0M630.1 538.1h0M709.6 414.9h0M694.2 596.2h0M625.0 480.4h0M699.8 620.9h0M689.4 600.8h0M694.2 529.0h0M700.9 458.7h0M625.9 456.8h0M643.1 621.0h0M632.4 472.9h0M653.3 578.1h0M706.6 410.3h0M622.0 618.8h0M624.5 604.7h0M631.6 470.2h0M708.0 532.4h0M626.7 424.1h0M686.4 604.9h0M626.3 503.7h0M633.6 535.3h0M679.8 589.0h0M705.8 479.6h0M637.0 537.8h0M653.8 591.5h0M630.4 575.5h0M628.3 617.1h0M676.2 598.8h0M628.8 478.8h0M627.9 510.2h0M638.6 620.2h0M707.6 552.9h0M709.9 447.0h0M633.1 568.6h0M683.7 616.4h0M624.1 435.8h0M727.3 609.8h0M683.8 546.4h0M699.3 581.7h0M700.3 369.7h0M624.6 610.4h0M687.9 569.8h0M693.8 563.5h0M625.7 586.6h0M633.4 521.0h0M689.7 524.1h0M682.6 624.2h0" stroke="#000000" stroke-width="9.4" stroke-linecap="round" fill="none"/>
<path d="M567.7 495.1h0M587.2 568.1h0M556.1 557.3h0M604.3 463.5h0M493.8 298.6h0M574.7 552.5h0M581.1 556.9h0M564.0 557.4h0M573.4 569.5h0M569.7 477.0h0M567.4 439.4h0M505.4 361.0h0M602.7 587.8h0M568.0 408.6h0M581.7 510.3h0M620.9 531.5h0M546.0 552.3h0M598.9 508.2h0M589.0 570.1h0M589.9 453.9h0M543.5 507.4h0M532.9 357.2h0M596.3 404.7h0M607.4 436.7h0M557.3 578.7h0M620.1 501.9h0M512.0 541.6h0M556.9 552.0h0M417.7 232.8h0M529.5 458.4h0M590.2 451.5h0M488.4 426.1h0M576.0 433.4h0M535.2 401.1h0M441.4 388.7h0M623.4 416.6h0M514.1 436.6h0M597.3 501.3h0M506.7 476.9h0M595.8 567.6h0M622.2 409.1h0M604.2 543.0h0M569.7 586.1h0M438.1 312.6h0M553.6 483.1h0M539.8 452.6h0M602.8 502.8h0M534.9 465.8h0M567.8 493.9h0M584.5 404.2h0M602.2 490.8h0M472.4 390.7h0M539.1 506.7h0M587.1 604.1h0M595.4 567.4h0M439.8 175.1h0M590.7 534.1h0M563.5 403.5h0M597.2 434.4h0M537.6 380.3h0M500.1 422.6h0M524.5 508.0h0M494.6 415.9h0M535.5 416.8h0M554.6 522.0h0M503.3 481.4h0M621.1 553.1h0M482.6 436.7h0M566.6 458.7h0M530.1 463.5h0M427.7 40.2h0M547.2 511.6h0M607.1 532.4h0M420.5 255.9h0M575.1 466.5h0M610.6 565.4h0M605.1 605.3h0M523.0 490.9h0M581.5 472.1h0M583.4 466.0h0M543.9 550.0h0M602.0 471.4h0M554.6 545.4h0M516.5 487.8h0M555.1 458.0h0M507.0 472.0h0M549.2 490.8h0M587.6 538.9h0M621.6 459.1h0M600.1 442.4h0M622.8 459.9h0M559.6 444.8h0M549.3 417.5h0M500.0 436.7h0M558.9 417.6h0M582.0 400.5h0M495.3 331.8h0M525.1 491.7h0M542.3 340.5h0M622.7 401.1h0M620.6 531.0h0M434.5 440.1h0M481.7 179.1h0M597.5 420.3h0M586.5 491.0h0M583.4 385.5h0M612.3 472.9h0M559.0 510.2h0M559.1 462.8h0M544.4 524.7h0M554.4 462.8h0M472.7 496.5h0M551.1 418.1h0M619.6 518.5h0M612.5 547.6h0M608.4 466.9h0M550.0 472.6h0M492.4 423.9h0M565.5 583.5h0M362.4 458.7h0M553.9 495.2h0M589.7 476.4h0M598.2 574.1h0M554.3 469.8h0M567.0 312.6h0M567.0 486.4h0M464.7 438.9h0M468.0 487.3h0M533.9 428.5h0M576.0 466.5h0M563.1 542.8h0M567.1 454.8h0M609.1 410.7h0M554.4 507.8h0M611.5 522.6h0M596.2 472.2h0M463.2 362.6h0M522.9 474.9h0M534.8 405.7h0M595.3 481.6h0M587.5 561.6h0M559.4 558.2h0M590.3 520.4h0M524.6 418.7h0M525.2 522.3h0M529.8 525.9h0M475.6 396.5h0M476.1 357.2h0M623.4 505.2h0M477.1 387.3h0M610.2 484.2h0M544.2 486.1h0M603.5 589.9h0M585.7 307.2h0M563.6 544.1h0M552.3 497.5h0M599.3 438.9h0M561.6 408.6h0M536.3 440.3h0M500.4 351.5h0M622.4 438.1h0M559.4 525.9h0M572.4 480.6h0M522.0 412.1h0M583.0 435.6h0M583.8 585.3h0M534.1 484.1h0M529.4 459.4h0" stroke="#00ff00" stroke-width="9.4" stroke-linecap="round" fill="none"/>
<path d="M736.8 590.4h0M712.4 527.8h0M768.4 371.0h0M719.2 599.8h0M767.5 557.6h0M755.8 558.1h0M745.8 486.2h0M728.7 408.2h0M712.2 511.0h0M730.5 422.0h0M770.8 536.3h0M799.6 217.1h0M733.2 606.3h0M727.3 551.9h0M734.3 434.2h0M755.0 449.3h0M767.9 556.3h0M727.0 548.5h0M808.2 103.2h0M805.0 252.0h0M722.3 412.5h0M712.0 540.7h0M772.6 269.9h0M735.3 438.0h0M757.6 301.2h0M710.7 531.1h0M763.0 542.1h0M739.0 540.0h0M738.6 463.3h0M731.5 538.5h0M779.0 541.6h0M710.8 586.7h0M727.2 498.2h0M737.6 528.1h0M752.2 565.0h0M742.1 362.9h0M758.5 575.5h0M744.4 541.5h0M769.5 542.0h0M744.1 387.3h0M771.3 422.1h0M765.4 559.0h0M755.1 465.9h0M748.6 570.2h0M727.4 455.2h0M711.5 498.9h0M718.0 585.2h0M714.3 418.0h0M771.8 512.6h0M714.1 577.3h0M774.8 533.4h0M790.9 294.0h0M737.7 461.3h0M751.6 456.4h0M766.3 378.5h0M784.2 263.1h0M711.4 525.3h0M729.9 571.0h0M721.6 584.6h0M712.7 520.9h0M714.2 514.3h0M728.7 537.4h0M751.1 437.2h0M710.6 551.2h0M733.9 521.5h0M710.6 520.8h0M782.0 511.8h0M854.4 282.1h0M714.6 442.6h0M772.4 501.7h0M766.8 360.5h0M764.7 557.0h0M770.5 488.3h0M764.4 348.5h0M713.0 530.2h0M753.9 369.4h0M772.0 447.0h0M742.1 367.7h0M745.3 410.1h0M779.1 540.5h0M711.8 468.7h0M735.1 432.7h0M727.0 389.1h0M757.0 362.1h0M723.2 500.3h0M739.1 549.7h0M734.5 496.9h0M720.4 493.7h0M749.6 566.9h0M731.1 466.0h0M747.9 317.7h0M743.6 594.7h0M811.1 134.2h0M774.4 378.9h0M760.8 423.7h0M715.0 439.3h0M721.6 405.5h0M797.0 492.7h0M742.7 455.8h0M747.4 416.4h0M731.0 352.6h0M761.0 603.8h0M722.8 532.9h0M716.9 503.5h0M713.0 507.5h0M764.7 465.8h0M756.7 539.4h0M748.3 426.7h0M737.6 589.3h0M762.4 498.2h0M732.2 506.0h0" stroke="#ff0000" stroke-width="9.4" stroke-linecap="round" fill="none"/>
<path d="M638.7 576.7h0M625.3 551.5h0M645.6 541.5h0M701.5 531.4h0M705.7 504.0h0M624.6 471.7h0M605.1 613.5h0M627.7 464.6h0M627.0 486.6h0M699.6 442.0h0M627.4 591.5h0M707.7 559.8h0M691.2 501.1h0M632.2 545.7h0M703.3 523.6h0M633.6 505.6h0M675.4 612.2h0M736.5 608.8h0M624.4 542.3h0M633.8 520.7h0M710.1 540.9h0M637.6 565.0h0M704.2 605.6h0M710.3 496.7h0M700.0 509.0h0M710.1 546.3h0M697.8 482.6h0M694.8 612.1h0M704.6 603.8h0M693.8 618.5h0M708.0 606.0h0M708.6 463.4h0M678.6 624.3h0M694.3 512.1h0M700.0 621.0h0M694.2 506.8h0M640.4 552.6h0M700.1 482.1h0M624.2 617.7h0M721.7 609.6h0M641.3 530.9h0M705.7 554.8h0M687.1 549.5h0M704.3 450.1h0M691.4 518.4h0M655.9 606.2h0M705.1 565.3h0M707.8 405.2h0M709.3 503.1h0M625.5 468.8h0M650.4 558.1h0M649.0 595.3h0M645.4 582.3h0M703.9 412.9h0M605.4 609.3h0M652.9 593.1h0M683.4 590.6h0M630.1 582.6h0M638.4 570.2h0M696.7 511.0h0M710.0 365.8h0M685.3 553.8h0M632.8 538.5h0M693.0 615.3h0M625.4 451.6h0M691.2 523.1h0M637.8 549.5h0M627.5 564.8h0M608.4 609.0h0M735.2 609.8h0" stroke="#000000" stroke-width="9.4" stroke-linecap="round" fill="none"/>
<path d="M595.2 453.0h0M526.3 573.6h0M531.5 521.6h0M613.1 547.2h0M543.4 405.6h0M539.3 447.7h0M542.4 455.8h0M539.6 476.4h0M621.9 456.5h0M531.4 429.3h0M620.6 590.8h0M471.2 200.3h0M593.5 490.6h0M551.7 393.8h0M619.4 574.4h0M558.6 438.4h0M587.9 518.8h0M507.1 394.1h0M559.2 585.9h0M521.2 366.1h0M543.4 534.1h0M530.8 367.4h0M491.5 465.6h0M585.7 424.1h0M559.3 408.6h0M621.5 456.3h0M614.0 573.3h0M617.3 371.6h0M622.8 462.0h0M536.4 435.3h0M515.5 443.2h0M555.8 551.3h0M594.2 199.4h0M621.1 589.4h0M490.6 434.5h0M470.8 399.2h0M561.4 493.4h0M581.3 558.0h0M566.3 408.1h0M581.8 567.1h0M571.9 502.4h0M542.1 558.0h0M615.8 518.6h0M604.5 448.4h0M468.1 384.9h0M623.2 437.3h0M609.1 519.2h0M509.1 359.9h0M515.9 454.8h0M530.9 514.2h0M499.9 330.1h0M590.1 521.3h0M539.5 534.3h0M567.3 483.8h0M598.6 328.1h0M513.8 432.0h0M551.9 517.4h0M599.7 528.5h0M614.1 425.4h0M575.3 503.8h0M605.9 441.6h0M511.1 482.4h0M610.3 559.1h0M527.8 488.7h0M567.4 510.5h0M574.8 344.1h0M622.4 499.6h0M529.8 547.9h0M567.3 584.7h0M463.6 331.4h0M607.7 482.6h0M616.9 491.4h0M551.4 445.8h0M554.3 560.6h0M577.9 444.0h0M567.5 459.9h0M479.4 414.3h0M614.8 520.4h0M526.9 486.2h0M512.6 476.9h0M520.8 290.2h0M539.0 494.6h0M567.2 536.0h0M573.4 532.4h0M552.8 428.2h0M568.3 505.5h0M544.1 460.8h0M479.8 338.4h0M605.0 463.3h0M613.7 521.0h0M530.3 360.8h0M516.3 450.8h0M604.2 579.5h0M595.2 474.0h0M605.0 540.0h0M549.8 489.0h0M607.4 559.4h0M546.3 445.0h0M577.3 477.1h0M529.0 522.2h0M547.1 512.5h0M546.8 542.3h0M576.9 562.4h0M600.6 590.9h0M539.2 470.7h0M536.0 495.2h0M557.1 428.5h0M523.1 466.2h0M539.6 365.8h0M619.9 492.2h0M569.5 551.9h0M622.2 415.1h0M560.0 473.1h0M533.1 313.2h0M558.6 561.7h0M557.3 496.2h0M527.7 538.3h0M554.3 455.7h0M621.2 552.5h0M605.7 415.5h0M609.6 572.1h0M568.8 566.8h0M587.9 476.2h0M478.1 454.1h0M580.9 470.6h0M512.3 398.9h0M598.7 395.4h0M591.6 467.7h0M516.9 420.9h0M601.9 555.9h0M507.0 471.2h0M607.9 509.6h0M556.0 502.0h0M576.2 300.7h0M557.1 363.7h0M583.4 584.8h0M612.3 268.3h0M538.5 479.8h0M548.5 553.2h0M621.4 550.7h0M616.2 569.7h0M418.1 326.6h0M562.7 267.7h0M612.4 544.4h0M528.6 398.6h0M612.9 431.9h0M556.8 444.6h0M615.1 604.5h0M548.7 498.2h0M542.3 463.2h0M584.4 368.6h0M614.0 570.7h0M509.7 467.1h0M489.5 473.0h0M622.0 453.7h0M612.2 544.4h0M552.7 529.7h0M568.2 549.2h0M529.2 372.0h0M580.2 587.0h0M488.3 400.9h0M541.6 477.4h0M545.0 498.0h0M619.3 403.8h0M507.1 506.3h0M496.1 394.5h0M622.2 487.7h0M586.3 558.6h0M589.4 485.8h0" stroke="#00ff00" stroke-width="9.4" stroke-linecap="round" fill="none"/>
<path d="M711.2 481.6h0M749.9 393.9h0M749.2 379.1h0M726.1 602.8h0M789.7 308.7h0M763.0 472.9h0M715.4 472.8h0M846.2 568.8h0M770.3 386.3h0M716.7 604.1h0M757.4 604.8h0M773.8 502.4h0M734.3 383.4h0M754.8 514.0h0M781.7 450.3h0M768.5 605.4h0M742.4 479.9h0M736.7 447.2h0M717.9 370.6h0M762.2 512.9h0M768.5 532.7h0M712.7 495.8h0M785.8 348.0h0M762.8 529.7h0M745.6 561.8h0M769.0 574.2h0M752.1 392.8h0M725.1 454.9h0M723.3 423.1h0M777.9 541.3h0M721.9 465.1h0M777.3 332.5h0M805.7 295.6h0M760.7 460.1h0M770.8 586.7h0M750.7 391.5h0M713.2 426.4h0M787.8 272.6h0M746.6 440.1h0M733.4 589.6h0M768.3 482.3h0M737.3 485.2h0M760.3 499.8h0M714.3 447.7h0M714.3 603.3h0M746.5 491.4h0M739.4 399.5h0M773.4 387.6h0M769.1 576.9h0M741.1 415.5h0M737.5 427.2h0M778.6 426.4h0M775.3 586.4h0M727.7 501.4h0M753.5 517.6h0M738.0 437.3h0M766.9 551.4h0M778.8 596.7h0M714.3 534.3h0M716.1 444.1h0M739.2 525.7h0M721.2 593.5h0M725.5 485.2h0M712.6 516.9h0M743.2 488.1h0M731.6 437.0h0M762.0 510.8h0M744.6 509.3h0M845.8 565.7h0M791.0 244.0h0M711.7 385.0h0M729.5 582.2h0M720.2 451.5h0M735.6 426.5h0M779.9 313.2h0M772.3 497.7h0M751.3 579.1h0M748.4 414.8h0M722.9 514.1h0M798.5 245.1h0M737.3 566.3h0M797.3 601.0h0M748.1 450.6h0M800.7 165.7h0M750.9 508.5h0M748.3 369.0h0M728.1 463.4h0M714.8 536.1h0M752.3 532.6h0M731.7 521.0h0M729.8 551.7h0M736.9 571.4h0M733.3 488.4h0M716.3 569.3h0M763.6 550.1h0M733.7 333.7h0M730.7 562.9h0M764.0 556.6h0M723.9 584.3h0M720.3 582.1h0M710.8 589.9h0M785.1 458.8h0M773.3 558.5h0M720.1 546.6h0M777.0 584.9h0M731.1 380.6h0M743.9 538.1h0M746.6 531.9h0M721.3 431.9h0M744.4 564.9h0M743.6 470.5h0M738.5 421.3h0M847.0 524.6h0M766.9 549.9h0M767.9 333.1h0M752.9 604.8h0M789.4 551.2h0M731.4 495.7h0M812.6 212.3h0M755.4 602.5h0M792.5 270.4h0" stroke="#ff0000" stroke-width="9.4" stroke-linecap="round" fill="none"/>
<path d="M681.1 586.1h0M707.3 515.0h0M646.9 572.0h0M704.2 497.9h0M720.3 615.6h0M624.7 560.5h0M703.1 434.0h0M624.3 539.8h0M709.9 459.3h0M638.3 513.3h0M646.6 552.5h0M627.9 449.9h0M676.7 594.1h0M607.7 611.1h0M709.6 483.8h0M632.1 505.2h0M625.0 516.0h0M678.0 618.3h0M627.4 447.5h0M729.1 613.1h0M641.5 590.7h0M637.5 490.7h0M633.7 530.6h0M724.4 607.2h0M623.7 380.5h0M630.1 473.8h0M684.0 550.4h0M682.8 619.0h0M703.4 438.0h0M624.9 581.6h0M683.3 625.4h0M630.3 574.2h0M653.1 611.5h0M648.6 546.5h0M712.6 401.6h0M705.9 465.7h0M767.1 606.7h0M702.6 570.4h0M721.9 608.9h0M623.5 441.5h0M700.4 532.2h0M703.6 514.9h0M628.5 545.3h0M606.3 610.4h0M628.3 598.2h0M630.6 564.1h0M690.1 613.2h0M709.9 554.5h0M699.4 473.6h0M709.9 526.4h0M675.4 614.8h0M657.3 623.4h0M706.2 568.4h0M710.5 573.8h0M689.1 606.8h0M656.6 613.4h0M706.4 608.7h0M693.1 566.6h0M716.3 613.0h0M624.7 479.9h0M624.9 426.1h0M654.2 597.1h0M703.7 444.9h0M638.0 576.9h0M707.2 545.4h0M634.2 531.4h0M704.9 489.2h0M692.9 527.8h0M625.9 593.5h0M701.6 581.3h0M635.6 583.3h0M627.6 506.7h0M630.4 486.3h0M689.2 529.5h0M628.2 502.9h0M739.8 609.8h0M667.0 627.0h0M709.7 547.5h0" stroke="#000000" stroke-width="9.4" stroke-linecap="round" fill="none"/>
<path d="M564.0 459.9h0M546.2 460.4h0M551.7 543.6h0M601.8 434.8h0M586.2 481.0h0M606.6 602.5h0M564.6 472.5h0M602.6 438.3h0M616.7 574.4h0M536.6 462.3h0M588.5 525.0h0M605.4 568.8h0M568.4 485.1h0M618.9 577.8h0M592.5 508.0h0M493.6 430.8h0M541.1 418.2h0M611.0 497.1h0M571.2 389.3h0M615.3 501.2h0M609.9 604.4h0M510.2 441.4h0M533.8 511.2h0M505.5 393.8h0M538.0 517.0h0M538.7 397.5h0M512.7 373.6h0M499.8 494.0h0M579.1 451.0h0M595.4 446.3h0M551.0 473.7h0M519.0 479.5h0M565.4 482.0h0M564.4 524.1h0M535.5 509.7h0M621.3 490.2h0M558.4 448.8h0M579.3 588.7h0M538.3 297.0h0M472.2 279.8h0M603.9 429.2h0M559.0 546.7h0M559.3 577.8h0M584.5 530.2h0M588.3 404.2h0M532.4 394.6h0M604.8 592.8h0M566.1 547.1h0M529.4 530.7h0M590.3 424.5h0M563.5 485.3h0M526.4 483.1h0M527.7 368.4h0M543.1 533.4h0M527.1 381.6h0M575.7 405.7h0M576.4 538.1h0M607.8 527.1h0M563.4 371.1h0M576.7 506.7h0M485.7 497.5h0M565.2 481.3h0M537.0 484.2h0M556.9 450.5h0M593.5 466.0h0M620.4 402.0h0M595.2 482.7h0M487.4 393.7h0M523.5 478.1h0M492.7 418.1h0M559.1 464.8h0M620.4 595.6h0M577.8 354.0h0M416.7 139.1h0M614.9 442.1h0M563.4 542.4h0M536.7 444.6h0M616.5 560.4h0M562.2 324.0h0M580.5 462.3h0M614.7 479.2h0M421.3 158.4h0M610.6 446.9h0M432.5 341.7h0M541.8 523.5h0M617.2 528.0h0M570.8 520.2h0M553.6 469.9h0M581.5 463.8h0M537.1 444.9h0M602.7 461.0h0M588.6 480.4h0M495.9 457.6h0M483.7 408.3h0M567.7 567.1h0M521.0 400.4h0M622.6 471.3h0M572.1 456.5h0M535.4 543.7h0M563.3 446.7h0M574.3 402.0h0M522.7 425.3h0M527.1 492.4h0M600.2 552.4h0M621.3 602.9h0M545.6 491.4h0M609.6 553.0h0M610.3 492.8h0M542.8 473.2h0M599.1 450.0h0M587.0 448.4h0M582.1 584.1h0M597.0 558.2h0M600.4 472.0h0M589.7 416.4h0M563.7 523.5h0M620.0 570.2h0M499.7 463.7h0M555.1 430.3h0M594.9 430.8h0M561.9 496.0h0M530.4 440.7h0M556.0 487.2h0M607.1 507.6h0M544.1 396.9h0M509.6 362.4h0M588.0 566.4h0M568.0 438.1h0M496.1 498.3h0M514.0 476.8h0M530.0 496.0h0M542.4 436.2h0M598.9 529.3h0M572.3 543.9h0M479.6 264.3h0M594.1 533.3h0M531.3 499.0h0M522.6 438.6h0M612.8 525.7h0M582.1 595.2h0M534.8 481.7h0M605.1 523.1h0M567.5 488.0h0M540.0 524.3h0M509.9 458.1h0M559.3 464.5h0M559.9 575.2h0M562.2 368.7h0M523.9 432.4h0M608.0 597.9h0M557.4 353.2h0M580.2 591.5h0M601.6 498.9h0M608.8 515.5h0M524.7 464.8h0M606.0 502.6h0M567.1 515.5h0M494.2 561.7h0M471.8 293.0h0M452.6 268.4h0M539.5 471.8h0M581.5 420.3h0M499.8 271.6h0M622.6 569.6h0" stroke="#00ff00" stroke-width="9.4" stroke-linecap="round" fill="none"/>
<path d="M740.0 489.0h0M755.1 499.8h0M727.5 551.0h0M735.0 547.7h0M764.9 506.9h0M723.1 570.8h0M777.0 372.8h0M780.2 335.1h0M765.4 560.0h0M781.4 586.2h0M780.1 532.7h0M752.6 321.0h0M775.8 558.5h0M742.4 550.6h0M749.3 592.4h0M717.0 551.2h0M717.8 545.4h0M725.6 493.1h0M771.5 444.0h0M719.2 415.0h0M733.4 524.0h0M721.7 605.6h0M717.6 604.9h0M765.3 375.5h0M758.0 385.0h0M720.3 474.9h0M732.1 362.3h0M732.3 355.3h0M723.5 519.0h0M813.6 231.1h0M722.4 594.2h0M770.6 578.8h0M795.4 492.5h0M714.3 603.5h0M724.9 428.1h0M737.9 601.4h0M772.9 479.1h0M733.9 581.6h0M767.9 582.6h0M731.9 375.2h0M742.9 587.4h0M765.9 467.1h0M743.0 604.7h0M756.0 529.9h0M733.7 454.2h0M749.1 320.4h0M740.2 604.0h0M738.4 481.7h0M773.2 475.3h0M724.0 564.1h0M736.6 475.7h0M745.6 523.8h0M762.9 468.4h0M748.6 543.0h0M745.7 606.4h0M713.8 571.9h0M768.0 598.7h0M754.8 434.6h0M713.0 567.7h0M784.0 573.2h0M754.9 509.2h0M797.2 419.7h0M818.0 227.4h0M780.6 592.7h0M745.9 465.9h0M774.0 516.2h0M735.8 461.8h0M711.7 503.1h0M789.6 404.0h0M711.4 506.3h0M746.7 354.9h0M713.6 390.0h0M750.2 342.4h0M759.3 598.0h0M738.0 478.9h0M711.8 387.6h0M725.3 580.8h0M715.0 569.7h0M723.0 571.6h0M717.9 550.3h0M749.5 294.6h0M765.3 536.0h0M770.7 460.4h0M800.7 205.2h0M732.8 579.6h0M718.9 449.3h0M744.0 293.6h0M784.3 416.9h0M801.8 179.3h0M748.0 574.6h0M741.1 590.8h0M738.9 598.6h0M742.6 349.3h0M718.1 533.4h0M736.1 509.3h0M765.7 573.2h0M741.0 512.0h0M723.7 402.3h0M738.6 538.0h0M749.8 564.8h0M737.7 575.0h0M728.8 566.8h0M760.7 510.5h0M745.5 520.7h0M780.1 263.5h0M724.8 463.9h0M817.3 158.4h0M735.6 499.1h0M772.7 533.8h0M752.3 411.9h0M793.0 480.5h0M745.0 417.0h0M735.4 439.1h0M735.5 438.1h0M711.6 518.4h0M730.1 604.6h0M719.6 584.6h0M736.0 574.4h0" stroke="#ff0000" stroke-width="9.4" stroke-linecap="round" fill="none"/>
<path d="M631.3 541.2h0M702.0 597.0h0M655.7 608.3h0M710.1 596.7h0M640.1 547.1h0M686.8 588.4h0M710.4 349.2h0M706.8 472.9h0M630.0 605.3h0M707.0 524.0h0M707.1 420.5h0M698.0 504.2h0M635.3 552.2h0M628.0 587.8h0M699.5 485.5h0M625.5 535.6h0M630.9 512.4h0M618.5 618.5h0M701.8 433.3h0M708.6 547.0h0M632.6 531.6h0M617.2 616.1h0M689.9 584.9h0M684.4 619.7h0M626.4 427.8h0M627.1 471.6h0M707.3 483.7h0M626.9 480.2h0M688.1 576.5h0M708.7 558.2h0M691.4 607.6h0M646.0 624.0h0M706.7 486.2h0M627.2 511.4h0M626.6 481.8h0M690.1 616.1h0M707.1 453.9h0M719.7 610.6h0M700.6 570.9h0M631.3 545.8h0M694.4 612.4h0M673.8 623.5h0M627.4 534.0h0M713.7 391.5h0M645.5 593.0h0M696.6 612.5h0M637.2 607.5h0M642.5 524.5h0M628.4 448.0h0M709.7 508.9h0M698.0 482.3h0M675.0 626.0h0M698.4 569.6h0M680.3 582.9h0M701.1 524.2h0M624.7 466.6h0M639.3 543.3h0M691.1 606.5h0M630.7 615.1h0M693.7 621.2h0M709.9 598.1h0M626.5 542.9h0M627.3 544.6h0M705.7 596.4h0M708.6 406.5h0M625.6 594.5h0M688.6 542.7h0M688.4 585.6h0M627.4 547.1h0M706.5 494.6h0M633.5 476.5h0M708.2 431.8h0M708.4 549.7h0M626.4 578.4h0M631.0 538.9h0M626.9 498.7h0M708.3 427.6h0M632.4 514.0h0M673.3 611.3h0" stroke="#000000" stroke-width="9.4" stroke-linecap="round" fill="none"/>
<path d="M611.8 604.1h0M504.5 359.7h0M619.4 475.4h0M612.5 505.9h0M566.1 517.2h0M579.0 444.3h0M401.5 299.0h0M582.8 388.0h0M590.6 447.9h0M478.1 353.9h0M601.2 541.1h0M619.9 598.1h0M522.0 398.4h0M621.2 409.4h0M553.7 470.3h0M529.9 491.0h0M481.2 351.2h0M615.4 396.9h0M555.0 415.0h0M462.8 370.0h0M621.3 571.0h0M609.3 500.6h0M568.6 450.5h0M563.5 524.2h0M480.7 445.4h0M565.6 471.3h0M559.0 539.6h0M620.6 354.1h0M544.8 530.9h0M513.3 484.2h0M594.7 522.5h0M509.7 496.9h0M533.1 529.6h0M603.7 473.2h0M434.9 402.8h0M553.4 455.1h0M606.7 464.7h0M618.7 516.2h0M621.3 477.0h0M614.9 547.2h0M598.2 568.0h0M591.3 606.1h0M470.4 479.8h0M537.0 481.5h0M564.6 486.2h0M468.3 364.5h0M579.3 506.0h0M587.8 461.9h0M535.2 515.6h0M489.1 385.6h0M587.3 425.0h0M519.0 315.8h0M507.9 497.5h0M576.8 385.3h0M570.7 597.8h0M570.1 458.3h0M585.4 467.5h0M570.6 572.8h0M522.6 439.4h0M566.8 481.0h0M552.6 440.0h0M620.5 578.0h0M518.0 464.5h0M584.8 476.1h0M620.2 542.3h0M500.5 436.2h0M593.3 444.7h0M590.3 507.8h0M621.8 494.5h0M621.5 526.9h0M533.0 395.7h0M560.4 402.7h0M584.3 452.9h0M596.4 572.1h0M606.1 466.0h0M531.9 449.9h0M542.7 540.4h0M475.1 441.1h0M536.6 501.4h0M589.3 581.6h0M550.2 377.3h0M442.5 371.1h0M503.3 363.5h0M562.0 426.2h0M597.8 444.4h0M574.3 525.8h0M609.3 490.8h0M565.2 539.6h0M536.8 529.8h0M593.0 524.6h0M592.1 450.7h0M543.8 549.5h0M440.7 298.1h0M622.7 470.7h0M611.8 520.9h0M596.9 562.2h0M567.2 402.3h0M579.7 495.2h0M614.4 466.4h0M493.2 421.9h0M554.0 440.8h0M554.9 444.0h0M515.6 501.6h0M551.4 548.0h0M530.9 501.2h0M541.7 453.4h0M525.6 493.2h0M540.5 549.7h0M548.2 537.7h0M577.8 486.9h0M612.0 569.7h0M481.3 429.9h0M544.0 508.0h0M589.4 407.5h0M612.4 578.6h0M587.8 511.5h0M611.1 541.5h0M448.9 359.6h0M577.1 577.7h0M480.3 488.6h0M473.6 357.1h0M531.5 501.1h0M583.9 493.8h0M612.2 575.8h0M552.7 484.4h0M547.2 535.8h0M574.4 494.5h0M623.7 564.7h0M561.9 552.0h0M581.1 594.5h0M598.0 414.1h0M614.1 458.3h0M554.2 429.5h0M560.8 493.7h0M536.0 522.4h0M564.2 447.2h0M546.7 430.8h0M602.2 476.9h0M604.7 448.2h0M623.5 488.9h0M583.4 497.3h0M594.4 549.2h0M311.6 93.2h0M558.2 480.9h0M548.7 469.2h0M577.2 491.7h0M565.9 473.4h0M561.1 408.8h0M540.3 451.0h0M509.3 435.0h0M585.5 398.0h0M547.1 537.1h0M554.8 417.6h0M574.5 443.7h0M518.4 485.5h0M607.7 449.4h0M532.4 482.7h0M598.1 459.4h0M515.8 433.1h0M555.6 381.2h0M550.5 536.9h0M620.0 436.2h0M547.8 348.6h0" stroke="#00ff00" stroke-width="9.4" stroke-linecap="round" fill="none"/>
<path d="M748.5 542.3h0M719.2 593.5h0M711.0 449.9h0M727.1 355.5h0M744.6 574.5h0M754.8 516.2h0M713.7 437.0h0M741.3 389.4h0M733.8 523.7h0M770.5 566.4h0M737.4 422.6h0M765.8 529.6h0M711.4 588.5h0M754.9 302.6h0M776.9 574.6h0M737.1 511.6h0M721.9 459.7h0M713.0 471.0h0M726.7 575.6h0M710.7 432.7h0M743.3 527.2h0M712.1 464.3h0M717.4 476.7h0M722.2 528.6h0M817.5 194.0h0M754.9 556.3h0M745.0 595.3h0M722.1 501.2h0M740.0 526.9h0M745.9 375.1h0M719.6 478.8h0M776.4 486.4h0M710.9 508.5h0M718.9 484.9h0M728.6 550.4h0M767.4 534.5h0M744.4 505.4h0M792.7 261.0h0M741.1 586.1h0M744.4 582.3h0M778.7 579.6h0M769.7 546.9h0M717.7 539.8h0M760.2 429.7h0M755.2 290.7h0M742.5 604.8h0M777.8 492.5h0M724.2 419.4h0M770.1 569.2h0M762.1 476.3h0M757.8 465.3h0M756.1 535.0h0M753.4 581.9h0M711.6 426.6h0M780.2 506.9h0M740.2 470.6h0M724.4 544.4h0M764.6 529.6h0M714.4 516.3h0M806.5 556.2h0M755.4 580.9h0M768.7 510.7h0M733.3 477.0h0M721.5 523.2h0M808.9 150.6h0M743.7 350.8h0M763.8 540.0h0M743.6 579.6h0M779.1 585.3h0M788.4 212.8h0M764.1 567.4h0M769.9 387.2h0M716.8 600.5h0M764.2 356.5h0M710.5 560.0h0M740.9 440.8h0M758.3 521.2h0M753.8 447.8h0M773.8 565.7h0M739.0 569.5h0M717.0 471.0h0M770.9 594.9h0M752.1 590.8h0M745.2 590.6h0M712.6 490.0h0M735.4 602.8h0M715.7 570.6h0M771.1 436.0h0M763.5 531.1h0M808.9 187.3h0M744.0 584.4h0M727.9 466.6h0M769.9 545.4h0M732.4 504.9h0M788.6 501.7h0M716.3 449.3h0M759.5 576.9h0M754.1 559.4h0M774.0 528.8h0M767.5 480.0h0M733.5 501.7h0M746.5 389.4h0M716.2 473.3h0M712.5 475.9h0M730.3 492.4h0M752.0 505.5h0M725.7 450.2h0M767.2 436.3h0M710.9 598.7h0M762.6 540.1h0M749.8 558.7h0M776.9 560.9h0M741.1 356.8h0M732.1 525.6h0M772.7 580.0h0M761.9 378.8h0M742.1 540.4h0M802.5 539.1h0" stroke="#ff0000" stroke-width="9.4" stroke-linecap="round" fill="none"/>
<path d="M706.5 567.0h0M709.4 609.0h0M694.9 570.2h0M707.8 521.0h0M702.8 449.3h0M688.7 559.8h0M680.2 610.3h0M653.5 574.7h0M699.9 533.5h0M708.6 433.5h0M652.9 579.4h0M708.4 497.0h0M682.6 609.8h0M644.8 550.6h0M687.4 532.3h0M710.0 445.2h0M697.7 562.4h0M625.5 475.9h0M638.5 516.6h0M697.2 568.8h0M691.2 559.9h0M627.1 530.0h0M637.9 550.0h0M708.5 419.1h0M638.6 517.8h0M650.7 606.1h0M636.5 602.6h0M707.1 487.7h0M625.4 429.9h0M710.1 403.8h0M625.1 538.7h0M626.5 461.5h0M571.5 607.4h0M647.7 617.8h0M634.0 519.6h0M707.7 485.3h0M652.4 621.7h0M697.7 587.1h0M606.1 610.8h0M623.9 523.5h0M637.2 577.9h0M639.7 530.9h0M631.2 616.6h0M710.5 596.3h0M707.4 578.1h0M679.8 591.5h0M626.9 579.6h0M707.5 450.7h0M700.1 471.9h0M640.8 593.8h0M632.1 517.1h0M626.6 548.9h0M700.3 603.6h0M650.1 610.8h0M708.8 396.0h0M641.8 583.2h0M626.5 541.4h0M629.7 543.2h0M631.1 605.8h0M708.9 388.1h0M629.3 612.1h0M626.6 530.0h0M629.3 544.2h0M695.1 561.3h0M625.5 494.0h0M625.9 614.7h0M610.5 613.6h0M702.7 484.5h0M693.7 581.6h0M706.7 609.4h0M696.8 587.6h0M633.6 514.3h0M681.2 558.1h0M632.6 585.6h0M636.5 605.3h0M648.5 611.7h0M642.2 596.9h0M640.2 624.1h0M703.6 453.2h0M639.0 528.2h0M707.0 525.6h0M612.6 615.6h0M645.5 587.6h0M713.5 608.2h0M698.2 552.5h0M682.6 609.4h0" stroke="#000000" stroke-width="9.4" stroke-linecap="round" fill="none"/>
<path d="M443.2 185.7h0M391.3 342.1h0M621.4 559.4h0M598.7 314.1h0M603.7 366.1h0M551.4 441.0h0M544.5 437.4h0M538.6 383.2h0M544.8 425.0h0M592.4 420.3h0M614.3 574.2h0M530.6 464.8h0M562.0 486.0h0M595.2 561.2h0M585.4 447.5h0M523.3 475.5h0M515.2 400.2h0M497.3 433.4h0M549.0 515.4h0M559.0 367.7h0M567.5 577.1h0M618.9 403.4h0M522.7 510.8h0M570.4 392.3h0M551.4 354.2h0M612.5 389.2h0M559.1 500.8h0M513.5 376.6h0M581.8 556.5h0M588.4 477.9h0M522.9 517.5h0M566.4 507.5h0M620.8 513.6h0M519.9 358.8h0M525.0 428.4h0M572.0 572.7h0M586.4 403.7h0M587.0 421.5h0M491.2 390.7h0M613.7 467.2h0M529.1 494.0h0M596.9 511.6h0M584.3 433.2h0M621.7 572.4h0M566.3 569.7h0M514.5 335.5h0M583.2 501.5h0M485.3 363.9h0M618.9 520.4h0M527.4 414.5h0M506.2 469.0h0M582.3 344.8h0M566.9 499.8h0M498.0 356.8h0M544.5 535.7h0M510.2 493.9h0M554.2 496.5h0M621.0 404.9h0M616.0 425.8h0M588.1 516.3h0M582.1 467.4h0M474.7 395.8h0M621.6 430.5h0M562.5 421.1h0M482.6 293.4h0M533.7 399.7h0M477.9 404.8h0M579.5 572.1h0M582.8 590.2h0M623.7 413.7h0M532.5 421.8h0M524.9 355.5h0M553.6 512.2h0M621.6 427.3h0M384.2 444.8h0M529.1 470.4h0M515.1 514.8h0M611.4 531.2h0M605.6 545.0h0M583.0 585.5h0M583.6 590.5h0M538.3 531.9h0M574.3 392.7h0M551.5 433.8h0M585.3 419.6h0M569.7 563.7h0M501.2 466.7h0M527.9 473.8h0M565.3 530.9h0M517.5 408.5h0M616.6 431.8h0M536.9 464.2h0M578.2 472.7h0M581.3 477.4h0M524.4 548.6h0M546.7 489.4h0M518.1 445.5h0M598.9 225.3h0M480.4 484.7h0M622.3 496.1h0M547.8 544.7h0M515.8 396.7h0M553.4 503.8h0M503.3 297.3h0M571.8 568.8h0M623.9 582.8h0M534.5 458.6h0M508.3 492.4h0M620.6 480.4h0M501.7 391.8h0M614.4 593.6h0M583.5 588.0h0M523.0 396.2h0M606.2 544.3h0M598.5 567.2h0M594.9 366.2h0M607.1 471.9h0M577.0 416.7h0M547.4 545.8h0M553.1 448.4h0M621.3 423.7h0M490.1 495.1h0M552.7 530.0h0M525.4 511.4h0M412.5 339.6h0M578.6 569.3h0M614.8 539.6h0M621.0 445.5h0M602.6 500.5h0M549.8 568.5h0M563.4 483.9h0M506.2 396.8h0M577.2 461.1h0M595.7 502.5h0M519.7 361.8h0M603.6 506.0h0M504.4 397.8h0M577.4 493.0h0M514.4 392.8h0M548.0 407.1h0M561.5 498.5h0M618.7 518.2h0M621.4 589.7h0M602.8 554.8h0M537.2 497.6h0M612.6 448.8h0M590.2 432.7h0M618.3 566.0h0M568.0 554.3h0M567.6 568.9h0M552.6 478.3h0M474.8 412.0h0M550.9 446.1h0M543.1 527.9h0M600.0 405.1h0M568.5 547.2h0M508.4 557.6h0M572.2 468.4h0M548.7 242.1h0M569.1 563.8h0M621.9 407.1h0M514.4 461.2h0M559.9 436.6h0M552.3 518.8h0M580.1 498.7h0M606.7 490.7h0M621.8 547.3h0M589.1 565.1h0M601.0 511.4h0M564.0 474.6h0M534.0 445.5h0M607.3 538.2h0M565.6 410.9h0M620.2 441.3h0M524.4 492.9h0M553.8 482.6h0M557.0 375.5h0M485.9 404.9h0" stroke="#00ff00" stroke-width="9.4" stroke-linecap="round" fill="none"/>
<path d="M750.2 444.1h0M714.1 459.5h0M729.6 393.2h0M735.4 575.7h0M712.0 475.9h0M712.2 484.4h0M760.7 523.4h0M728.0 497.8h0M724.6 564.5h0M731.0 464.7h0M751.2 464.8h0M766.0 431.2h0M757.7 423.1h0M770.1 603.5h0M731.2 448.4h0M744.9 507.2h0M743.9 556.8h0M741.3 337.5h0M761.0 582.1h0M710.6 578.2h0M751.8 603.1h0M737.8 588.6h0M780.7 392.6h0M769.5 599.5h0M745.2 448.4h0M742.7 604.7h0M740.6 470.6h0M749.0 401.3h0M794.2 393.2h0M779.9 323.2h0M781.2 460.4h0M712.4 579.5h0M779.7 553.7h0M748.6 498.9h0M766.2 271.2h0M740.9 521.7h0M732.1 536.3h0M828.3 238.0h0M793.1 248.4h0M720.7 431.4h0M715.2 507.1h0M760.6 401.4h0M747.0 496.1h0M762.6 603.6h0M713.3 467.1h0M790.7 534.9h0M727.1 513.8h0M741.3 506.9h0M713.2 488.8h0M750.1 491.2h0M795.2 269.6h0M718.0 603.1h0M725.5 555.7h0M739.0 328.9h0M735.6 395.1h0M757.1 554.6h0M734.3 374.4h0M805.0 163.6h0M726.3 434.4h0M747.8 561.9h0M769.4 431.7h0M721.9 449.6h0M774.8 390.3h0M783.7 414.2h0M728.9 486.8h0M715.8 513.3h0M778.5 340.4h0M722.9 449.3h0M752.4 521.6h0M749.7 507.6h0M728.7 395.9h0M724.6 465.1h0M710.9 583.6h0M777.7 452.3h0M723.9 489.2h0M712.8 526.7h0M725.3 406.5h0M748.2 585.0h0M739.7 501.1h0M714.7 468.5h0M773.7 579.4h0M764.7 596.8h0M767.7 423.9h0M738.2 604.2h0M743.6 449.4h0M753.3 418.6h0M725.4 490.4h0M732.0 595.3h0M773.9 543.0h0M769.2 579.0h0M746.7 575.5h0M772.0 580.1h0M733.4 456.0h0M712.2 531.5h0M718.6 516.7h0M758.4 554.0h0" stroke="#ff0000" stroke-width="9.4" stroke-linecap="round" fill="none"/>
<path d="M694.0 494.7h0M694.5 600.7h0M706.3 617.9h0M627.6 582.8h0M696.0 583.8h0M689.8 543.0h0M631.8 583.2h0M632.1 568.1h0M705.2 493.0h0M626.8 620.8h0M675.0 615.6h0M654.9 618.4h0M630.5 570.4h0M705.9 609.8h0M703.9 426.3h0M701.7 462.8h0M708.3 473.5h0M633.7 622.1h0M627.2 533.8h0M631.0 620.2h0M633.4 486.2h0M658.3 615.5h0M624.1 532.7h0M722.6 607.2h0M708.9 610.8h0M709.0 438.2h0M624.8 574.5h0M690.4 504.6h0M629.8 536.2h0M689.5 584.9h0M625.8 470.1h0M743.5 607.6h0M707.2 502.9h0M700.6 599.7h0M634.2 587.6h0M687.1 622.3h0M641.9 564.9h0M691.0 557.8h0M650.3 562.2h0M708.9 496.7h0M706.8 476.2h0M632.8 513.4h0M694.4 514.9h0M707.7 491.8h0M708.0 409.2h0M690.0 616.8h0M715.2 618.3h0M700.6 618.9h0M679.7 597.0h0M676.7 598.8h0M709.6 445.9h0M646.0 622.5h0M684.6 618.2h0M705.8 462.1h0M640.7 559.0h0M689.7 621.3h0M658.4 624.6h0M682.4 600.1h0M706.8 442.4h0M678.8 577.4h0M681.6 573.3h0M688.4 535.4h0M624.8 588.8h0M706.9 533.0h0M639.9 517.4h0M683.3 612.6h0M637.7 613.9h0M704.4 536.0h0M708.2 610.4h0M704.6 584.5h0M629.6 607.7h0" stroke="#000000" stroke-width="9.4" stroke-linecap="round" fill="none"/>
<path d="M605.6 565.6h0M585.9 582.6h0M546.7 548.4h0M570.6 386.1h0M502.2 429.5h0M581.8 391.9h0M479.8 275.9h0M607.1 604.8h0M559.2 565.5h0M479.2 424.0h0M496.3 489.8h0M534.8 473.6h0M453.9 248.5h0M579.9 460.1h0M586.4 490.4h0M435.6 288.9h0M611.2 588.2h0M544.9 407.6h0M622.3 463.3h0M558.1 549.2h0M590.5 551.6h0M591.6 537.9h0M601.2 576.8h0M547.7 524.4h0M568.4 456.6h0M582.7 566.7h0M595.3 544.2h0M577.9 490.8h0M594.7 602.5h0M533.9 388.5h0M497.1 488.2h0M562.7 535.8h0M611.9 539.0h0M493.7 457.2h0M575.7 410.9h0M480.4 481.9h0M620.7 460.0h0M587.2 589.2h0M517.4 436.1h0M581.3 574.3h0M522.0 507.3h0M623.8 479.3h0M596.3 544.9h0M617.5 527.4h0M600.0 487.5h0M605.4 546.3h0M568.1 438.3h0M543.1 510.5h0M601.0 573.9h0M577.9 429.8h0M623.0 462.6h0M622.1 602.0h0M576.0 486.6h0M560.3 517.2h0M614.4 540.1h0M610.1 605.5h0M557.3 396.0h0M569.7 433.9h0M607.2 592.7h0M536.0 497.7h0M620.7 558.4h0M549.2 577.3h0M555.4 506.0h0M484.1 461.6h0M560.0 568.8h0M618.8 534.6h0M621.4 552.6h0M596.5 407.9h0M596.7 496.5h0M536.6 482.9h0M602.5 528.7h0M537.1 425.4h0M595.5 516.2h0M583.0 453.2h0M580.8 548.9h0M602.0 537.3h0M552.5 495.0h0M503.1 388.2h0M551.4 418.3h0M525.4 461.0h0M608.4 595.4h0M506.3 427.8h0M562.1 408.2h0M545.3 496.8h0M622.8 549.6h0M518.4 481.6h0M566.3 548.1h0M572.2 426.0h0M618.3 514.3h0M590.7 521.8h0M515.0 400.8h0M490.4 453.0h0M556.3 444.5h0M579.7 539.5h0M518.7 377.6h0M583.8 477.9h0M520.3 431.9h0M520.9 515.0h0M591.3 594.0h0M553.7 489.7h0M607.5 576.9h0M607.2 497.3h0M520.0 419.8h0M591.8 510.9h0M582.4 571.8h0M527.3 418.1h0M606.3 590.8h0M466.8 231.3h0M424.8 230.6h0M565.4 556.1h0M605.2 464.0h0M567.7 239.1h0M493.1 371.8h0M579.7 558.2h0M546.3 546.8h0M595.7 359.0h0M572.2 450.9h0M450.2 231.7h0M609.0 573.0h0M522.1 524.3h0M515.5 382.0h0M537.6 471.7h0M608.8 553.9h0M559.7 481.3h0M525.7 513.6h0M560.8 450.1h0M501.7 474.1h0M601.6 550.6h0M590.4 551.6h0M621.8 581.2h0M608.0 550.1h0M579.5 412.4h0M495.0 388.9h0M615.9 449.8h0M589.3 415.6h0M621.1 546.6h0M557.2 563.4h0M548.8 530.8h0M599.0 435.8h0M565.6 518.3h0M547.6 272.6h0M623.2 561.1h0M547.3 397.8h0M601.8 605.7h0M569.8 582.7h0M596.8 515.3h0M561.9 536.8h0M561.4 451.4h0M534.7 541.3h0M553.5 442.6h0M621.8 518.3h0M603.8 417.4h0M564.2 519.8h0M569.8 494.4h0M604.7 521.4h0M563.0 490.4h0M588.0 544.9h0M621.4 512.5h0M511.3 416.9h0M619.4 458.1h0M594.0 600.3h0M557.6 382.1h0M556.4 425.1h0M603.1 469.7h0M534.9 373.1h0M558.0 434.6h0M528.3 489.2h0M539.7 447.8h0M614.3 488.8h0" stroke="#00ff00" stroke-width="9.4" stroke-linecap="round" fill="none"/>
<path d="M714.2 434.3h0M784.5 541.6h0M746.0 601.9h0M721.0 579.6h0M713.8 565.6h0M780.7 562.3h0M766.8 413.5h0M770.3 412.0h0M771.5 509.9h0M727.7 481.7h0M795.3 566.5h0M750.5 517.8h0M742.0 605.8h0M749.3 497.8h0M742.9 410.1h0M731.9 347.5h0M727.9 430.6h0M738.3 548.5h0M749.2 529.2h0M791.0 214.9h0M731.1 452.8h0M742.5 548.5h0M779.0 427.2h0M715.3 572.2h0M712.1 491.5h0M736.5 588.4h0M712.4 596.2h0M719.9 418.7h0M717.3 410.4h0M711.3 457.1h0M772.0 449.7h0M790.3 558.7h0M713.2 528.4h0M724.7 548.6h0M727.9 390.8h0M746.5 595.1h0M756.9 363.9h0M733.0 463.1h0M764.9 386.1h0M765.4 431.6h0M714.3 508.4h0M742.1 579.1h0M710.5 577.4h0M762.2 449.5h0M725.9 601.0h0M733.4 516.4h0M763.1 581.5h0M766.9 545.3h0M712.3 500.4h0M754.2 592.5h0M745.2 588.6h0M719.2 444.8h0M777.4 340.9h0M719.7 437.9h0M778.8 465.7h0M716.4 599.6h0M765.9 386.1h0M778.8 258.3h0M719.6 567.2h0M739.9 592.9h0M714.0 506.2h0M713.6 451.7h0M765.8 591.3h0M750.3 604.1h0M763.4 500.5h0M710.5 604.7h0M752.1 460.1h0M717.4 559.0h0M747.5 417.8h0M719.8 485.7h0M778.8 391.0h0M799.6 227.9h0M771.3 568.2h0M726.8 457.4h0M714.6 569.7h0M767.6 584.3h0M762.8 567.0h0M732.0 390.0h0M784.9 571.2h0M782.1 537.1h0M726.0 519.3h0M713.7 536.9h0M722.2 502.7h0M765.3 540.9h0M714.4 430.9h0M777.0 562.0h0M772.7 568.0h0M744.6 510.2h0M724.6 536.5h0M832.4 467.0h0M724.5 580.7h0M786.7 248.4h0M771.1 507.7h0M728.3 528.4h0M767.0 605.0h0M727.4 521.6h0M798.5 169.2h0M727.5 469.8h0M761.3 593.8h0M710.9 484.9h0M788.0 466.0h0M771.5 483.1h0M738.1 544.0h0M794.2 225.7h0M747.6 565.6h0M711.0 460.4h0M742.8 432.2h0M776.9 363.1h0M786.5 307.5h0M711.0 601.7h0M739.5 560.6h0M722.1 469.7h0M714.1 544.2h0M724.4 546.4h0M725.9 437.9h0M754.3 506.5h0M713.1 438.9h0M795.7 205.9h0M784.7 422.6h0M793.5 593.3h0" stroke="#ff0000" stroke-width="9.4" stroke-linecap="round" fill="none"/>
</g>
<path d="M284.7 656.2V10.9H886.0" fill="none" stroke="#7d7d7d" stroke-width="1.6"/>
<path d="M284.7 656.2H886.0" fill="none" stroke="#7d7d7d" stroke-width="1.6"/>
<line x1="885.5" x2="885.5" y1="11.700000000000001" y2="655.4000000000001" stroke="#dcdcdc" stroke-width="4"/>
<line x1="450.6" x2="450.6" y1="656.2" y2="662.7" stroke="#333" stroke-width="1.8"/>
<line x1="667.2" x2="667.2" y1="656.2" y2="662.7" stroke="#333" stroke-width="1.8"/>
<line x1="883.8" x2="883.8" y1="656.2" y2="662.7" stroke="#333" stroke-width="1.8"/>
<line y1="627.0" y2="627.0" x1="278.2" x2="284.7" stroke="#333" stroke-width="1.8"/>
<line y1="469.1" y2="469.1" x1="278.2" x2="284.7" stroke="#333" stroke-width="1.8"/>
<line y1="311.2" y2="311.2" x1="278.2" x2="284.7" stroke="#333" stroke-width="1.8"/>
<line y1="153.3" y2="153.3" x1="278.2" x2="284.7" stroke="#333" stroke-width="1.8"/>
<text x="450.6" y="680.8" text-anchor="middle" class="tk">−5</text>
<text x="667.2" y="680.8" text-anchor="middle" class="tk">0</text>
<text x="883.8" y="680.8" text-anchor="middle" class="tk">5</text>
<text x="273.7" y="633.7" text-anchor="end" class="tk">0</text>
<text x="273.7" y="475.8" text-anchor="end" class="tk">10</text>
<text x="273.7" y="317.9" text-anchor="end" class="tk">20</text>
<text x="273.7" y="160.0" text-anchor="end" class="tk">30</text>
<text x="585.4" y="706.2" text-anchor="middle" class="ti">logFC</text>
<text transform="translate(243.2 333.6) rotate(-90)" text-anchor="middle" class="ti">−log10(adj.P.Val)</text>
<text x="922.0" y="281.3" class="ti">Significant</text>
<circle cx="940.2" cy="313.8" r="4.6" fill="#00ff00"/>
<text x="970.3" y="320.4" class="lg">Down</text>
<circle cx="940.2" cy="350.4" r="4.6" fill="#000"/>
<text x="970.3" y="357.0" class="lg">Not</text>
<circle cx="940.2" cy="387.0" r="4.6" fill="#ff0000"/>
<text x="970.3" y="393.6" class="lg">Up</text>
<!-- Panel B -->
<text x="180.5" y="822" class="pl">B</text>
<rect x="285.3" y="837.9" width="607.3" height="650.1" fill="#fff"/>
<line x1="382.0" x2="382.0" y1="837.9" y2="1488.0" stroke="#f1f1f1" stroke-width="1.4"/>
<line x1="488.9" x2="488.9" y1="837.9" y2="1488.0" stroke="#f1f1f1" stroke-width="1.4"/>
<line x1="595.8" x2="595.8" y1="837.9" y2="1488.0" stroke="#f1f1f1" stroke-width="1.4"/>
<line x1="702.7" x2="702.7" y1="837.9" y2="1488.0" stroke="#f1f1f1" stroke-width="1.4"/>
<line x1="809.6" x2="809.6" y1="837.9" y2="1488.0" stroke="#f1f1f1" stroke-width="1.4"/>
<line y1="1358.0" y2="1358.0" x1="285.3" x2="892.6" stroke="#f1f1f1" stroke-width="1.4"/>
<line y1="1156.8" y2="1156.8" x1="285.3" x2="892.6" stroke="#f1f1f1" stroke-width="1.4"/>
<line y1="955.5" y2="955.5" x1="285.3" x2="892.6" stroke="#f1f1f1" stroke-width="1.4"/>
<line x1="328.5" x2="328.5" y1="837.9" y2="1488.0" stroke="#ebebeb" stroke-width="2.6"/>
<line x1="435.4" x2="435.4" y1="837.9" y2="1488.0" stroke="#ebebeb" stroke-width="2.6"/>
<line x1="542.3" x2="542.3" y1="837.9" y2="1488.0" stroke="#ebebeb" stroke-width="2.6"/>
<line x1="649.2" x2="649.2" y1="837.9" y2="1488.0" stroke="#ebebeb" stroke-width="2.6"/>
<line x1="756.1" x2="756.1" y1="837.9" y2="1488.0" stroke="#ebebeb" stroke-width="2.6"/>
<line x1="863.0" x2="863.0" y1="837.9" y2="1488.0" stroke="#ebebeb" stroke-width="2.6"/>
<line y1="1458.7" y2="1458.7" x1="285.3" x2="892.6" stroke="#ebebeb" stroke-width="2.6"/>
<line y1="1257.4" y2="1257.4" x1="285.3" x2="892.6" stroke="#ebebeb" stroke-width="2.6"/>
<line y1="1056.1" y2="1056.1" x1="285.3" x2="892.6" stroke="#ebebeb" stroke-width="2.6"/>
<line y1="854.8" y2="854.8" x1="285.3" x2="892.6" stroke="#ebebeb" stroke-width="2.6"/>
<g id="scatterB">
<defs><clipPath id="kcB"><path d="M280 830H900V1150H757.8V1345H900V1495H280V1340H541.6V1150H280Z"/></clipPath></defs><path d="M549 1203h25v2h-25zM549 1205h30v2h-30zM710 1205h31v2h-31zM549 1207h62v2h-62zM696 1207h55v2h-55zM549 1209h62v2h-62zM696 1209h55v2h-55zM549 1211h63v2h-63zM696 1211h55v2h-55zM549 1213h63v2h-63zM696 1213h55v2h-55zM549 1215h64v2h-64zM695 1215h56v2h-56zM549 1217h64v2h-64zM695 1217h56v2h-56zM549 1219h64v2h-64zM695 1219h56v2h-56zM549 1221h65v2h-65zM695 1221h56v2h-56zM549 1223h65v2h-65zM695 1223h56v2h-56zM549 1225h66v2h-66zM695 1225h56v2h-56zM549 1227h66v2h-66zM695 1227h56v2h-56zM549 1229h66v2h-66zM695 1229h56v2h-56zM549 1231h67v2h-67zM694 1231h57v2h-57zM549 1233h67v2h-67zM694 1233h57v2h-57zM549 1235h67v2h-67zM694 1235h57v2h-57zM549 1237h67v2h-67zM694 1237h57v2h-57zM549 1239h68v2h-68zM694 1239h57v2h-57zM549 1241h68v2h-68zM693 1241h58v2h-58zM549 1243h68v2h-68zM693 1243h58v2h-58zM549 1245h68v2h-68zM693 1245h58v2h-58zM549 1247h69v2h-69zM692 1247h59v2h-59zM549 1249h69v2h-69zM692 1249h59v2h-59zM549 1251h69v2h-69zM692 1251h59v2h-59zM549 1253h69v2h-69zM692 1253h59v2h-59zM549 1255h70v2h-70zM691 1255h60v2h-60zM549 1257h70v2h-70zM691 1257h60v2h-60zM549 1259h70v2h-70zM691 1259h60v2h-60zM549 1261h70v2h-70zM690 1261h61v2h-61zM549 1263h71v2h-71zM689 1263h62v2h-62zM549 1265h71v2h-71zM689 1265h62v2h-62zM549 1267h71v2h-71zM688 1267h63v2h-63zM549 1269h71v2h-71zM687 1269h64v2h-64zM549 1271h71v2h-71zM687 1271h64v2h-64zM549 1273h72v2h-72zM686 1273h65v2h-65zM549 1275h72v2h-72zM685 1275h66v2h-66zM549 1277h72v2h-72zM685 1277h66v2h-66zM549 1279h72v2h-72zM684 1279h67v2h-67zM549 1281h72v2h-72zM683 1281h68v2h-68zM549 1283h73v2h-73zM683 1283h68v2h-68zM549 1285h73v2h-73zM682 1285h69v2h-69zM549 1287h73v2h-73zM681 1287h70v2h-70zM549 1289h73v2h-73zM681 1289h70v2h-70zM549 1291h73v2h-73zM680 1291h71v2h-71zM549 1293h74v2h-74zM679 1293h72v2h-72zM549 1295h74v2h-74zM679 1295h72v2h-72zM549 1297h74v2h-74zM678 1297h73v2h-73zM549 1299h74v2h-74zM678 1299h73v2h-73zM549 1301h74v2h-74zM677 1301h74v2h-74zM549 1303h75v2h-75zM676 1303h75v2h-75zM549 1305h75v2h-75zM676 1305h75v2h-75zM549 1307h75v2h-75zM675 1307h76v2h-76zM549 1309h75v2h-75zM675 1309h76v2h-76zM549 1311h75v2h-75zM675 1311h76v2h-76zM549 1313h76v2h-76zM674 1313h77v2h-77zM549 1315h76v2h-76zM674 1315h77v2h-77zM549 1317h76v2h-76zM674 1317h77v2h-77zM549 1319h76v2h-76zM673 1319h78v2h-78zM549 1321h76v2h-76zM673 1321h78v2h-78zM549 1323h77v2h-77zM673 1323h78v2h-78zM549 1325h77v2h-77zM672 1325h79v2h-79zM549 1327h77v2h-77zM672 1327h79v2h-79zM549 1329h77v2h-77zM672 1329h79v2h-79zM549 1331h77v2h-77zM672 1331h79v2h-79zM549 1333h78v2h-78zM671 1333h80v2h-80zM549 1335h78v2h-78zM671 1335h80v2h-80zM549 1337h78v2h-78zM671 1337h80v2h-80zM549 1339h78v2h-78zM671 1339h80v2h-80zM549 1341h78v2h-78zM671 1341h80v2h-80zM549 1343h79v2h-79zM671 1343h80v2h-80zM549 1345h79v2h-79zM671 1345h80v2h-80zM549 1347h79v2h-79zM670 1347h81v2h-81zM549 1349h79v2h-79zM670 1349h81v2h-81zM549 1351h79v2h-79zM670 1351h81v2h-81zM549 1353h80v2h-80zM670 1353h81v2h-81zM549 1355h80v2h-80zM670 1355h81v2h-81zM549 1357h80v2h-80zM670 1357h81v2h-81zM549 1359h80v2h-80zM670 1359h81v2h-81zM549 1361h80v2h-80zM669 1361h81v2h-81zM549 1363h81v2h-81zM669 1363h80v2h-80zM549 1365h81v2h-81zM669 1365h80v2h-80zM550 1367h80v2h-80zM669 1367h79v2h-79zM550 1369h80v2h-80zM669 1369h78v2h-78zM551 1371h79v2h-79zM669 1371h78v2h-78zM551 1373h79v2h-79zM669 1373h77v2h-77zM551 1375h80v2h-80zM669 1375h76v2h-76zM552 1377h79v2h-79zM669 1377h76v2h-76zM552 1379h79v2h-79zM669 1379h75v2h-75zM553 1381h78v2h-78zM669 1381h75v2h-75zM553 1383h78v2h-78zM669 1383h74v2h-74zM553 1385h78v2h-78zM669 1385h73v2h-73zM554 1387h78v2h-78zM669 1387h73v2h-73zM556 1389h76v2h-76zM668 1389h74v2h-74zM558 1391h74v2h-74zM668 1391h74v2h-74zM560 1393h72v2h-72zM668 1393h74v2h-74zM562 1395h72v2h-72zM666 1395h76v2h-76zM564 1397h70v2h-70zM666 1397h75v2h-75zM566 1399h72v2h-72zM662 1399h79v2h-79zM568 1401h173v2h-173zM570 1403h171v2h-171zM572 1405h169v2h-169zM573 1407h168v2h-168zM574 1409h165v2h-165zM576 1411h162v2h-162zM577 1413h160v2h-160zM578 1415h158v2h-158zM580 1417h152v2h-152zM581 1419h146v2h-146zM583 1421h140v2h-140zM585 1423h134v2h-134zM587 1425h128v2h-128zM589 1427h122v2h-122zM591 1429h116v2h-116zM593 1431h110v2h-110zM595 1433h104v2h-104zM597 1435h98v2h-98zM601 1437h91v2h-91zM605 1439h83v2h-83zM609 1441h76v2h-76zM612 1443h69v2h-69zM616 1445h61v2h-61zM625 1447h45v2h-45zM635 1449h27v2h-27zM644 1451h9v2h-9z" fill="#000"/>
<path clip-path="url(#kcB)" d="M600.5 1185.7h0M610.6 1404.4h0M680.3 1324.0h0M719.8 1275.3h0M686.1 1326.6h0M620.8 1282.5h0M561.8 1381.2h0M676.5 1323.9h0M619.0 1354.8h0M715.8 1268.7h0M742.4 1320.1h0M554.6 1371.2h0M750.6 1367.1h0M701.2 1278.9h0M579.0 1349.1h0M558.1 1398.2h0M708.7 1383.0h0M747.3 1196.8h0M693.4 1350.6h0M582.1 1159.1h0M617.8 1419.6h0M575.4 1197.7h0M620.9 1293.6h0M677.1 1273.4h0M588.8 1175.0h0M606.8 1253.8h0M729.8 1202.4h0M754.8 1263.3h0M706.2 1354.4h0M545.0 1356.0h0M573.1 1402.9h0M555.5 1394.0h0M543.2 1277.1h0M720.5 1245.1h0M598.4 1000.3h0M750.0 1353.1h0M597.0 1364.1h0M720.0 1383.9h0M739.1 1234.1h0M568.5 1405.4h0M669.3 1313.4h0M604.9 1412.4h0M659.8 1388.8h0M563.8 1305.7h0M686.2 1237.0h0M695.3 1270.4h0M583.5 1384.3h0M563.8 1352.5h0M737.4 1273.4h0M599.5 1281.8h0M683.3 1333.4h0M571.9 1154.6h0M677.2 1320.9h0M662.9 1437.8h0M727.1 1201.5h0M737.0 1342.6h0M674.3 1293.0h0M597.5 1259.5h0M564.1 1158.6h0M600.1 1300.9h0M699.2 1404.9h0M617.6 1297.4h0M543.6 1350.5h0M571.8 1354.2h0M682.7 1431.1h0M619.0 1325.6h0M605.0 1383.0h0M623.9 1342.7h0M738.4 1291.6h0M669.1 1392.7h0M705.6 1353.8h0M678.3 1404.8h0M691.5 1386.6h0M688.4 1222.0h0M630.3 1335.6h0M604.6 1421.6h0M744.5 1168.5h0M611.8 1271.3h0M635.9 1401.3h0M569.7 1153.9h0M747.2 1348.3h0M754.7 1247.1h0M739.4 1414.5h0M721.8 1113.5h0M639.1 1436.3h0M700.3 1426.8h0M542.8 1250.0h0M668.9 1318.9h0M725.2 1371.0h0M543.8 1326.1h0M596.4 1274.7h0M740.4 1236.9h0M546.6 1204.8h0M599.5 1296.8h0M599.0 1313.0h0M735.7 1168.7h0M727.4 1370.3h0M747.1 1280.5h0M726.6 1241.8h0M733.3 1212.3h0M627.0 1392.5h0M562.9 1221.2h0M732.0 1304.3h0M571.4 1406.7h0M549.7 1249.8h0M727.5 1311.5h0M729.3 1136.6h0M751.2 1340.1h0M669.8 1329.4h0M575.3 1282.8h0M600.8 1428.5h0M596.8 1321.1h0M675.7 1425.4h0M668.3 1376.8h0M542.4 1196.1h0M750.4 1093.0h0M710.4 1186.3h0M633.4 1411.7h0M699.6 1438.2h0M723.5 1320.1h0M714.1 1343.8h0M671.4 1451.6h0M574.1 1285.9h0M740.1 1183.8h0M707.0 1143.5h0M638.6 1453.0h0M728.8 1285.0h0M614.7 1241.8h0M699.9 1435.8h0M701.2 1336.3h0M598.7 1402.0h0M675.5 1449.1h0M616.2 1257.5h0M675.6 1415.9h0M630.2 1323.6h0M686.4 1444.1h0M598.6 1359.4h0M618.4 1294.0h0M703.1 1143.8h0M674.2 1355.8h0M633.9 1368.3h0M581.6 1185.1h0M612.8 1424.8h0M750.9 1364.2h0M543.1 1286.3h0M565.0 1276.6h0M616.6 1389.6h0M624.1 1440.0h0M615.3 1355.1h0M672.6 1340.3h0M588.5 1233.6h0M560.3 1359.4h0M576.4 1352.0h0M689.4 1254.2h0M698.6 1103.9h0M622.5 1442.9h0M611.0 1337.5h0M640.5 1396.8h0M544.9 1249.0h0M728.5 1293.9h0M589.9 1330.7h0M727.4 1397.6h0M576.9 1390.3h0M551.2 1352.4h0M681.2 1263.5h0M591.7 1241.0h0M582.5 1360.1h0M729.1 1401.4h0M569.4 1180.8h0M552.2 1148.9h0M735.6 1320.1h0M600.6 1208.8h0M745.6 1326.8h0M745.1 1332.1h0M669.7 1336.3h0M589.0 1288.7h0M645.5 1435.5h0M563.5 1312.3h0M591.1 1435.9h0M664.4 1354.2h0M728.9 1326.7h0M752.1 1230.3h0M687.6 1221.1h0M620.9 1279.3h0M661.0 1366.1h0M715.4 1172.7h0M660.6 1373.6h0M604.7 1331.5h0M689.3 1251.6h0M747.8 1239.7h0M547.8 1381.1h0M733.2 1391.0h0M629.0 1338.7h0M755.2 1210.0h0M742.7 1366.8h0M747.5 1215.3h0M558.5 1318.1h0M674.5 1366.5h0M647.4 1443.5h0M650.7 1436.6h0M636.8 1357.7h0M550.8 1185.4h0M724.0 1189.8h0M730.7 1286.1h0M598.6 1387.9h0M662.9 1395.3h0M718.5 1239.9h0M652.8 1415.9h0M753.2 1301.4h0M696.5 1238.1h0M557.0 1331.3h0M655.0 1389.8h0M628.2 1283.1h0M698.4 1339.2h0M544.0 1155.0h0M544.1 1175.9h0M596.9 1350.2h0M738.0 1392.4h0M744.4 1250.0h0M692.9 1104.6h0M713.3 1316.3h0M597.6 1382.6h0M544.3 1222.8h0M636.0 1324.9h0M692.9 1210.2h0M628.8 1243.0h0M574.1 1360.2h0M551.8 1205.3h0M543.9 1020.5h0M589.1 1263.9h0M686.5 1245.8h0M564.1 1235.6h0M608.0 1344.1h0M567.1 1353.9h0M613.0 1422.5h0M613.0 1315.2h0M731.9 1233.4h0M740.6 1302.9h0M606.2 1291.1h0M701.2 1319.5h0M681.4 1267.6h0M582.2 1295.7h0M689.0 1395.1h0M550.7 1201.8h0M669.6 1432.5h0M582.6 1153.9h0M639.8 1444.0h0M706.3 1188.4h0M649.9 1406.6h0M753.5 1278.4h0M663.2 1448.0h0M741.7 1366.7h0M735.5 1415.7h0M552.1 1194.7h0M666.8 1365.3h0M691.4 1252.8h0M561.9 1299.3h0M555.8 1388.3h0M722.2 1153.1h0M598.5 1220.2h0M720.0 1331.8h0M718.8 1133.5h0M619.4 1190.8h0M591.8 1431.8h0M600.1 1275.4h0M744.4 1388.2h0M634.9 1332.2h0M601.5 1413.2h0M584.4 1168.5h0M675.2 1285.8h0M674.5 1356.9h0M630.0 1342.2h0M755.5 1190.8h0M699.5 1187.6h0M718.4 1425.4h0M658.4 1435.4h0M714.4 1204.6h0M568.2 1271.9h0M601.1 1340.5h0M630.4 1446.7h0M607.1 1274.3h0M572.4 1284.9h0M627.0 1383.8h0M683.6 1315.4h0M727.4 1200.3h0M712.8 1325.3h0M619.6 1229.7h0M626.5 1296.9h0M559.6 1175.1h0M604.7 1315.1h0M582.4 1174.7h0M544.4 1212.2h0M557.7 1360.0h0M623.1 1399.0h0M732.0 1228.6h0M721.0 1232.3h0M724.3 1424.8h0M605.8 1205.2h0M590.5 1133.3h0M624.5 1298.4h0M642.7 1400.4h0M687.0 1386.9h0M750.9 1211.0h0M674.3 1382.6h0M715.0 1244.9h0M606.3 1301.2h0M586.1 1158.7h0M550.1 1373.0h0M637.4 1448.8h0M610.4 1344.0h0M655.0 1433.7h0M674.4 1439.8h0M595.1 1312.1h0M744.3 1247.3h0M668.8 1414.0h0M697.6 1281.6h0M729.1 1375.2h0M542.3 1229.3h0M703.2 1206.1h0M544.6 1169.4h0M753.2 1239.4h0M743.0 1255.9h0M556.0 1248.0h0M705.2 1247.7h0M663.5 1344.9h0M543.6 1288.7h0M709.4 1319.0h0M629.2 1426.4h0M747.2 1137.9h0M545.7 1278.5h0M544.8 1297.3h0M599.5 1416.3h0M634.4 1400.7h0M560.9 1359.0h0M717.2 1375.4h0M549.0 1172.3h0M543.5 1225.8h0M551.8 1320.0h0M648.5 1426.5h0" stroke="#000000" stroke-width="9.4" stroke-linecap="round" fill="none"/>
<path d="M534.0 1339.8h0M482.0 1116.9h0M501.4 1176.0h0M442.9 876.8h0M529.2 1136.5h0M516.2 1347.2h0M530.0 1103.4h0M498.8 899.6h0M512.7 1234.6h0M541.8 1253.8h0M504.7 1171.7h0M516.1 1247.0h0M537.9 1254.9h0M541.3 1345.1h0M524.3 1261.6h0M418.3 1156.4h0M434.4 1061.1h0M458.7 1072.3h0M527.8 1329.1h0M488.1 1120.4h0M486.1 981.7h0M494.0 1253.8h0M540.2 1248.5h0M484.8 1126.1h0M518.2 1220.5h0M357.7 1150.0h0M514.2 1295.8h0M503.2 1363.5h0M516.8 1193.9h0M386.2 982.4h0M466.5 978.0h0M489.1 1172.3h0M531.8 1140.8h0M523.2 1065.8h0M494.0 1169.8h0" stroke="#00ff00" stroke-width="9.4" stroke-linecap="round" fill="none"/>
<path d="M793.7 1321.1h0M767.7 1288.6h0M763.6 1172.1h0M783.0 1388.1h0M782.0 1295.9h0M765.7 1255.0h0M765.1 1329.1h0M775.4 1362.6h0M772.9 1142.4h0M792.9 1181.2h0M781.3 1233.1h0M864.8 1132.5h0" stroke="#ff0000" stroke-width="9.4" stroke-linecap="round" fill="none"/>
<path clip-path="url(#kcB)" d="M593.3 1426.2h0M609.2 1393.1h0M558.9 979.9h0M585.2 1269.3h0M736.7 1215.9h0M563.8 1260.9h0M543.6 1303.8h0M754.3 1202.7h0M669.6 1341.5h0M631.2 1378.5h0M569.4 1292.7h0M593.7 1360.1h0M689.2 1326.3h0M609.8 1214.8h0M695.6 1369.7h0M569.6 1337.7h0M740.3 1305.2h0M754.6 1285.2h0M746.9 1366.0h0M560.0 1346.1h0M545.9 1325.0h0M565.9 1407.7h0M700.8 1154.0h0M743.6 1233.9h0M580.5 1232.5h0M571.2 1081.3h0M716.5 1169.1h0M740.2 1159.0h0M729.0 1239.0h0M611.6 1271.9h0M669.3 1405.1h0M699.6 1246.1h0M744.0 1333.2h0M664.7 1322.2h0M676.4 1332.6h0M685.7 1442.9h0M544.0 1296.9h0M571.4 1267.2h0M620.9 1365.4h0M567.2 1246.8h0M624.9 1450.1h0M698.8 1224.8h0M543.9 1263.6h0M564.5 1405.8h0M585.5 1045.1h0M620.7 1168.3h0M544.9 1343.4h0M575.1 1375.5h0M745.6 1402.2h0M646.4 1412.7h0M557.1 1351.7h0M673.5 1339.8h0M750.0 1352.8h0M736.5 1203.0h0M624.2 1411.7h0M697.5 1225.8h0M557.5 1389.6h0M737.0 1243.9h0M657.5 1350.2h0M583.8 1263.8h0M714.3 1165.6h0M574.1 1216.8h0M707.2 1293.9h0M586.8 1165.8h0M628.5 1415.7h0M582.4 1238.1h0M695.8 1296.8h0M687.1 1340.1h0M671.2 1436.5h0M553.2 1326.9h0M631.9 1420.6h0M720.7 1178.4h0M699.5 1332.9h0M574.7 1244.4h0M620.4 1302.9h0M576.5 1325.5h0M582.3 1392.5h0M585.5 1200.6h0M707.2 1416.5h0M658.2 1418.4h0M668.0 1341.2h0M570.1 1365.2h0M601.7 1384.4h0M593.5 1203.2h0M551.1 1249.1h0M748.2 1264.8h0M612.4 1238.7h0M745.4 1217.8h0M742.3 1197.6h0M618.4 1421.5h0M599.6 1333.9h0M611.8 1272.7h0M596.9 1177.3h0M710.2 1309.8h0M755.0 1299.6h0M612.1 1423.2h0M658.1 1350.9h0M577.6 1252.9h0M563.6 1331.1h0M721.4 1289.7h0M571.0 1320.1h0M595.4 1246.3h0M626.0 1270.8h0M627.0 1451.6h0M696.5 1275.9h0M623.1 1231.3h0M597.3 1412.9h0M679.8 1285.0h0M727.6 1423.1h0M751.1 1205.0h0M544.9 1321.9h0M749.6 1164.9h0M633.4 1329.7h0M619.9 1226.1h0M564.6 1392.4h0M676.3 1429.9h0M633.0 1280.2h0M680.7 1325.2h0M716.6 1424.6h0M582.8 1187.6h0M612.2 1292.6h0M617.5 1314.8h0M678.4 1328.6h0M600.3 1421.2h0M621.8 1420.3h0M628.4 1446.3h0M579.8 1169.1h0M597.1 1421.4h0M633.7 1318.8h0M545.3 1300.3h0M727.3 1371.9h0M733.0 1338.5h0M578.2 1290.3h0M601.4 1188.5h0M588.9 1405.6h0M677.9 1424.0h0M694.8 1388.3h0M594.3 1184.3h0M604.1 1249.6h0M607.5 1239.9h0M561.6 1401.4h0M700.4 1294.8h0M618.0 1283.0h0M595.0 1386.4h0M677.4 1322.3h0M701.0 1402.5h0M596.8 1233.6h0M711.9 1233.5h0M553.9 1183.7h0M565.6 1226.6h0M629.8 1307.3h0M545.8 1218.6h0M684.5 1238.4h0M741.1 1195.5h0M612.1 1228.5h0M691.1 1409.3h0M572.7 1397.9h0M581.4 1404.4h0M683.1 1433.7h0M551.2 1355.7h0M545.5 1363.7h0M726.5 1143.8h0M755.7 1264.9h0M606.0 1405.9h0M709.0 1321.7h0M604.6 1209.3h0M706.5 1206.0h0M574.6 1418.0h0M591.6 1257.9h0M675.0 1282.3h0M544.2 1284.1h0M695.1 1414.1h0M618.2 1257.4h0M570.0 1217.2h0M550.9 1217.0h0M574.7 1237.9h0M643.3 1430.9h0M611.9 1420.8h0M622.2 1435.2h0M686.3 1410.0h0M589.8 1257.0h0M578.8 1065.8h0M600.7 1401.8h0M549.2 1149.2h0M731.1 1251.4h0M754.9 1329.8h0M550.2 1378.6h0M728.4 1413.5h0M580.2 1388.3h0M550.8 1387.3h0M706.2 1306.7h0M724.9 1407.7h0M719.8 1248.9h0M611.1 1326.2h0M689.2 1252.6h0M747.4 1186.6h0M566.2 1253.4h0M569.4 1214.8h0M698.8 1299.6h0M728.4 1420.7h0M611.6 1362.4h0M669.9 1410.8h0M752.6 1183.7h0M563.3 1151.1h0M692.0 1433.7h0M723.6 1265.7h0M746.1 1170.2h0M733.7 1320.6h0M581.9 1423.0h0M710.2 1264.6h0M577.9 1403.1h0M675.3 1283.3h0M707.6 1361.7h0M673.6 1315.8h0M551.9 1217.3h0M725.1 1280.5h0M740.3 1386.8h0M734.8 1169.1h0M669.2 1377.8h0M747.7 1359.6h0M754.7 1219.6h0M545.2 1076.2h0M696.0 1194.1h0M565.9 1268.5h0M650.5 1422.6h0M705.9 1371.2h0M628.7 1398.9h0M617.0 1331.6h0M575.3 1180.0h0M677.7 1293.5h0M573.5 1416.1h0M620.7 1205.6h0M624.2 1444.6h0M683.5 1417.0h0M550.4 1162.6h0M592.4 1379.1h0M688.5 1297.1h0M571.9 1289.7h0M690.9 1338.2h0M689.1 1410.7h0M582.2 1192.8h0M746.1 1332.4h0M726.1 1188.8h0M711.9 1108.3h0M550.8 1377.7h0M572.4 1292.7h0M670.0 1370.3h0M689.6 1291.3h0M565.4 1391.9h0M613.7 1303.1h0M617.5 1388.7h0M611.8 1422.1h0M611.6 1414.1h0M613.7 1342.3h0M620.0 1240.6h0M682.6 1425.3h0M615.0 1252.8h0M698.5 1232.5h0M600.5 1320.8h0M569.2 1212.6h0M620.8 1217.3h0M665.0 1296.8h0M693.9 1303.1h0M642.1 1385.4h0M731.9 1363.4h0M751.8 1276.6h0M710.7 1287.9h0M711.2 1342.6h0M619.1 1262.2h0M561.5 1310.0h0M688.6 1195.0h0M586.8 1226.5h0M598.4 1296.6h0M703.8 1385.0h0M688.0 1308.1h0M735.3 1419.0h0M621.8 1325.6h0M721.2 1399.5h0M611.3 1372.4h0M720.7 1208.4h0M595.4 1176.1h0M564.4 1246.9h0M684.2 1296.2h0M696.5 1228.5h0M674.9 1307.6h0M696.2 1243.5h0M588.7 1257.3h0M611.1 1431.8h0M590.0 1390.4h0M731.4 1287.4h0M743.7 1192.7h0M653.2 1431.6h0M702.8 1289.2h0M658.8 1293.5h0M597.3 1345.3h0M621.9 1260.3h0M550.5 1205.6h0M558.7 1312.5h0M562.6 1391.0h0M715.4 1278.3h0M667.2 1404.5h0M701.0 1210.1h0M598.3 1305.3h0M568.5 1233.7h0M553.2 1392.6h0M612.3 1375.2h0M551.3 1217.0h0M544.7 1212.4h0M588.3 1324.0h0M588.4 1406.2h0M687.6 1220.7h0M684.7 1300.8h0M615.5 1301.3h0M743.0 1310.8h0M588.6 1268.9h0M720.8 1195.1h0M714.9 1285.3h0M623.5 1255.1h0M615.3 1279.8h0M738.1 1298.1h0M713.1 1369.0h0M570.7 1383.6h0M660.2 1370.1h0M660.9 1408.5h0M675.5 1380.8h0M568.5 1186.1h0M579.2 1222.9h0M565.1 1357.5h0M630.6 1425.8h0M557.2 1142.8h0M664.3 1425.1h0" stroke="#000000" stroke-width="9.4" stroke-linecap="round" fill="none"/>
<path d="M467.5 1117.4h0M538.4 1178.5h0M466.2 1304.5h0M531.7 1149.2h0M530.2 1177.4h0M505.1 1253.2h0M524.7 1181.1h0M509.9 1099.4h0M475.8 955.3h0M468.3 1157.7h0M540.8 1366.6h0M486.1 1180.4h0M531.1 1333.1h0M531.2 1288.5h0M456.1 1115.3h0M527.0 1326.8h0M513.3 1232.0h0M453.1 1134.3h0M541.6 1339.7h0M502.7 1142.8h0M487.5 1152.2h0M539.6 1326.8h0M538.7 1263.6h0M504.1 1186.6h0M497.9 1109.5h0M509.4 1303.7h0M505.4 1169.2h0M521.7 1233.4h0M539.3 1128.6h0M522.1 1181.1h0M396.3 1079.0h0M496.2 1247.7h0M380.5 1154.9h0M491.2 1195.1h0M524.8 1184.7h0M509.2 991.2h0M505.5 1318.2h0M468.5 1099.6h0M441.6 1009.1h0M508.2 1121.0h0M525.2 1151.1h0M517.8 1199.0h0M484.8 1256.7h0M493.6 1142.8h0M503.9 1158.0h0M507.2 1250.3h0M358.8 1161.6h0M488.4 1157.6h0M488.0 1202.5h0" stroke="#00ff00" stroke-width="9.4" stroke-linecap="round" fill="none"/>
<path d="M765.7 1227.8h0M772.1 1295.1h0M810.5 1172.9h0M792.9 1207.1h0M767.0 1148.1h0M785.1 1242.0h0" stroke="#ff0000" stroke-width="9.4" stroke-linecap="round" fill="none"/>
<path clip-path="url(#kcB)" d="M721.8 1220.5h0M627.6 1355.0h0M575.8 1396.3h0M737.3 1331.8h0M674.7 1284.7h0M752.4 1307.4h0M738.1 1155.1h0M741.9 1178.8h0M735.5 1396.2h0M727.2 1239.6h0M600.4 1238.1h0M608.7 1282.6h0M546.3 1320.6h0M605.6 1329.0h0M708.6 1298.8h0M655.4 1433.6h0M588.6 1359.8h0M627.6 1389.1h0M591.2 1416.7h0M545.7 1228.8h0M578.9 1241.5h0M621.7 1274.0h0M600.2 1277.8h0M592.5 1360.6h0M645.5 1404.4h0M604.8 1266.6h0M595.6 1286.4h0M725.3 1369.7h0M737.5 1229.5h0M667.4 1391.5h0M731.9 1212.7h0M663.7 1385.2h0M718.3 1134.7h0M556.8 1236.9h0M716.8 1221.3h0M739.2 1270.4h0M743.3 1357.9h0M611.9 1310.5h0M577.6 1423.4h0M631.8 1286.0h0M580.3 1159.8h0M684.1 1381.7h0M709.6 1345.6h0M598.9 1325.8h0M693.6 1280.9h0M544.6 1162.1h0M693.1 1362.8h0M548.1 1130.9h0M623.7 1329.7h0M694.5 1352.6h0M626.4 1287.7h0M557.1 1377.8h0M706.8 1323.3h0M673.5 1432.8h0M744.5 1275.6h0M609.1 1393.9h0M571.6 1231.5h0M688.3 1346.7h0M659.5 1452.3h0M745.5 1399.0h0M728.0 1330.4h0M733.6 1339.2h0M712.3 1415.5h0M623.5 1309.1h0M727.6 1385.9h0M577.3 1160.7h0M577.0 1305.4h0M610.4 1313.4h0M590.4 1270.6h0M710.2 1319.9h0M607.4 1300.9h0M692.8 1245.7h0M740.9 1290.9h0M636.2 1417.3h0M717.3 1333.5h0M738.7 1407.1h0M698.6 1213.8h0M655.8 1437.5h0M719.7 1287.9h0M626.6 1342.9h0M689.0 1283.2h0M717.8 1356.4h0M570.0 1272.7h0M604.6 1404.2h0M587.0 1251.8h0M753.4 1343.4h0M573.2 1369.4h0M542.8 1152.4h0M750.6 1172.8h0M626.0 1449.8h0M690.5 1367.6h0M579.3 1335.4h0M754.4 1275.1h0M576.1 1198.8h0M555.0 1099.9h0M575.7 1409.1h0M543.0 1240.1h0M750.9 1349.8h0M742.4 1198.5h0M571.8 1220.0h0M600.3 1338.0h0M653.2 1422.3h0M596.6 1218.7h0M582.6 1171.0h0M558.8 1323.9h0M570.3 1411.2h0M601.2 1195.1h0M753.4 1260.7h0M715.4 1395.7h0M588.4 1257.1h0M547.5 1116.9h0M561.6 1228.5h0M687.1 1262.4h0M697.6 1376.4h0M590.8 1432.2h0M682.2 1412.7h0M625.1 1229.3h0M699.5 1358.8h0M555.2 1277.7h0M650.4 1420.5h0M740.4 1281.5h0M606.8 1444.2h0M743.1 1340.0h0M567.4 1177.8h0M597.8 1427.8h0M568.3 1328.1h0M595.4 1236.3h0M570.2 1315.6h0M713.2 1375.5h0M544.6 1325.9h0M610.7 1272.8h0M704.0 1255.6h0M738.9 1241.5h0M701.7 1142.0h0M738.0 1246.9h0M746.8 1364.5h0M747.3 1375.7h0M709.0 1304.6h0M714.2 1226.6h0M623.4 1324.1h0M606.2 1331.6h0M717.7 1324.8h0M734.2 1211.6h0M618.9 1267.6h0M740.4 1267.8h0M615.5 1171.3h0M714.3 1337.7h0M718.0 1250.1h0M635.0 1334.8h0M670.3 1403.6h0M724.8 1373.0h0M667.5 1382.0h0M721.9 1424.7h0M752.5 1251.4h0M641.2 1390.6h0M588.8 1286.0h0M621.4 1394.2h0M603.7 1268.3h0M746.3 1389.3h0M632.5 1327.0h0M549.3 1310.8h0M561.2 1296.4h0M740.9 1209.0h0M733.5 1236.6h0M752.9 1180.8h0M700.2 1200.3h0M707.1 1384.5h0M719.7 1348.2h0M616.5 1384.6h0M559.7 1124.5h0M586.8 1330.3h0M579.3 1389.4h0M721.3 1166.3h0M652.5 1452.0h0M733.4 1398.6h0M730.0 1272.3h0M545.7 1292.2h0M743.5 1396.4h0M682.6 1254.8h0M586.8 1331.6h0M576.7 1329.0h0M746.1 1292.2h0M636.6 1387.7h0M746.5 1274.1h0M570.4 1356.4h0M612.3 1355.2h0M619.8 1380.2h0M578.5 1422.2h0M699.8 1406.6h0M694.9 1317.9h0M745.8 1328.2h0M554.2 1276.0h0M754.4 1229.2h0M577.5 1391.3h0M725.2 1397.0h0M618.7 1443.2h0M725.9 1209.4h0M716.3 1387.8h0M684.1 1356.4h0M612.3 1334.0h0M567.5 1388.9h0M545.2 1176.6h0M582.5 1381.0h0M747.3 1242.9h0M578.6 1330.0h0M638.4 1372.4h0M611.1 1379.7h0M717.0 1192.8h0M701.2 1416.9h0M608.9 1177.7h0M730.4 1326.8h0M746.6 1223.1h0M697.7 1418.0h0M605.1 1373.2h0M619.3 1278.6h0M609.6 1366.2h0M706.6 1362.7h0M755.9 1275.1h0M553.1 1239.7h0M738.4 1244.6h0M701.3 1316.0h0M582.0 1288.1h0M626.6 1443.2h0M624.1 1346.5h0M721.2 1206.0h0M723.4 1419.1h0M562.3 1315.4h0M748.8 1248.9h0M697.2 1382.7h0M546.1 1182.9h0M687.9 1255.4h0M725.7 1213.6h0M635.1 1454.4h0M583.7 1148.5h0M705.1 1334.7h0M679.8 1340.7h0M611.6 1377.5h0M640.8 1454.0h0M672.6 1302.8h0M568.2 1140.3h0M694.4 1425.0h0M740.3 1236.2h0M714.0 1393.6h0M593.4 1311.0h0M632.6 1320.1h0M565.3 1269.6h0M595.8 1436.8h0M669.6 1431.5h0M684.4 1381.6h0M724.4 1360.4h0M545.3 1200.4h0M754.3 1318.5h0M557.3 1291.5h0M578.3 1296.5h0M745.7 1372.4h0M730.2 1284.7h0M665.5 1370.5h0M551.3 1265.8h0M699.9 1374.5h0M585.2 1236.7h0M606.2 1140.2h0M733.9 1384.6h0M673.0 1395.3h0M682.9 1446.6h0M592.0 1407.1h0M741.1 1331.6h0M595.1 1213.9h0M600.2 1331.3h0M580.1 1256.0h0M579.2 1299.9h0M621.6 1320.3h0M627.3 1322.7h0M684.8 1423.9h0M708.1 1303.6h0M681.0 1432.6h0M675.6 1382.2h0M567.5 1360.8h0M561.2 1378.4h0M681.9 1236.1h0M558.9 1288.1h0M603.7 1388.9h0M586.0 1431.2h0M607.8 1344.9h0M589.2 1367.8h0M604.2 1408.8h0M736.5 1275.6h0M741.9 1300.9h0M565.6 1225.6h0M692.1 1231.0h0M713.3 1417.5h0M747.5 1356.6h0M582.5 1374.8h0M622.1 1432.6h0M543.0 1329.1h0M631.3 1340.6h0M677.5 1326.0h0M564.0 1181.0h0M697.1 1172.0h0M596.4 1204.3h0M719.8 1390.0h0M718.7 1336.7h0M633.2 1353.1h0M626.1 1378.0h0M548.4 1375.0h0M566.2 1231.9h0M567.3 1401.2h0M552.5 1217.4h0M689.2 1204.2h0M554.0 1164.4h0M654.4 1402.9h0M574.1 1204.0h0M728.0 1325.1h0M613.7 1209.0h0M690.0 1364.0h0M707.5 1386.4h0M570.5 1252.9h0M676.6 1363.6h0M708.6 1258.4h0M574.0 1412.8h0M725.8 1307.0h0M751.6 1330.4h0M722.1 1253.4h0M572.9 1222.9h0M707.0 1362.8h0M746.0 1158.3h0M669.6 1395.7h0M697.8 1353.4h0M583.7 1165.4h0M574.9 1225.5h0M575.1 1068.4h0M691.5 1214.2h0M726.7 1282.8h0M744.5 1401.7h0M594.3 1417.0h0" stroke="#000000" stroke-width="9.4" stroke-linecap="round" fill="none"/>
<path d="M499.8 1162.2h0M495.8 1146.1h0M528.2 1237.8h0M461.0 1047.7h0M442.4 1242.4h0M530.1 1257.3h0M419.1 987.6h0M435.9 934.0h0M507.2 1189.3h0M510.7 1301.0h0M497.0 1151.3h0M455.9 1090.4h0M498.6 1036.8h0M538.0 1319.1h0M542.1 1207.8h0M486.7 1111.0h0M517.2 1162.0h0M515.5 1338.6h0M497.4 1108.5h0M511.1 1152.1h0M518.5 1159.6h0M522.1 1272.1h0M485.6 1040.4h0M331.9 1079.3h0M520.4 1186.3h0M540.7 1242.5h0M447.6 1051.8h0M530.2 1140.7h0M527.7 1163.0h0M470.6 1042.5h0M506.8 1043.8h0M497.6 1152.4h0M433.3 1027.5h0M539.6 1223.3h0M527.8 1016.4h0M438.2 874.5h0M412.9 995.4h0M312.4 1020.8h0M540.3 1250.9h0M479.6 1167.2h0M492.5 1274.9h0" stroke="#00ff00" stroke-width="9.4" stroke-linecap="round" fill="none"/>
<path d="M778.6 1192.9h0M774.0 1187.7h0M799.3 1178.6h0M756.1 1334.3h0M777.8 1205.5h0M814.6 1148.1h0M763.6 1199.3h0M770.9 1299.7h0M794.1 1235.6h0M802.4 1185.1h0M794.7 1245.9h0" stroke="#ff0000" stroke-width="9.4" stroke-linecap="round" fill="none"/>
<path clip-path="url(#kcB)" d="M653.0 1412.7h0M690.6 1336.6h0M619.2 1234.8h0M690.4 1250.5h0M695.6 1326.7h0M552.2 1265.5h0M626.3 1446.9h0M572.4 1215.6h0M573.2 1265.9h0M550.1 1277.7h0M696.5 1252.3h0M543.8 1361.7h0M561.9 1308.6h0M687.4 1347.6h0M590.3 1397.2h0M668.3 1435.0h0M601.5 1339.9h0M724.9 1250.2h0M574.2 1325.3h0M667.7 1402.1h0M564.3 1298.4h0M691.0 1293.4h0M701.0 1181.6h0M652.0 1408.0h0M567.5 1170.5h0M731.1 1162.9h0M632.7 1350.4h0M607.0 1380.3h0M586.7 1260.9h0M710.8 1255.6h0M619.0 1340.8h0M736.4 1253.7h0M575.3 1281.1h0M708.1 1287.1h0M609.4 1207.7h0M565.7 1293.6h0M755.4 1352.0h0M612.9 1267.3h0M717.9 1386.9h0M632.7 1356.3h0M733.1 1329.8h0M748.3 1364.0h0M594.9 1244.2h0M754.5 1052.3h0M748.4 1339.8h0M755.9 1296.8h0M607.7 1318.5h0M752.0 1329.0h0M602.2 1327.9h0M708.1 1219.5h0M672.6 1308.5h0M545.7 1311.1h0M671.6 1339.2h0M697.1 1386.5h0M624.5 1434.6h0M610.2 1206.7h0M615.8 1378.2h0M739.8 1384.1h0M683.5 1377.8h0M721.1 1349.6h0M730.9 1194.4h0M592.6 1200.6h0M641.5 1434.9h0M610.1 1357.3h0M682.8 1429.9h0M681.1 1347.4h0M572.4 1347.3h0M738.1 1320.6h0M730.5 1221.7h0M718.4 1263.2h0M585.6 1357.4h0M639.9 1439.8h0M754.9 1255.0h0M746.2 1230.2h0M584.8 1317.7h0M545.6 1247.0h0M599.5 1321.2h0M738.7 1143.0h0M605.2 1262.9h0M684.8 1410.8h0M618.9 1272.9h0M752.2 1224.3h0M753.3 1339.5h0M553.0 1333.9h0M603.0 1242.3h0M717.9 1193.5h0M698.6 1330.9h0M701.7 1265.0h0M565.4 1312.9h0M569.8 1169.0h0M746.0 1203.2h0M545.3 1331.9h0M598.8 1422.3h0M604.0 1223.6h0M574.9 1386.9h0M745.8 1373.9h0M600.1 1218.1h0M754.7 1184.2h0M716.3 1213.3h0M689.7 1223.6h0M585.8 1324.4h0M724.6 1401.7h0M710.8 1270.0h0M710.1 1174.8h0M607.0 1369.3h0M718.6 1271.0h0M572.2 1310.7h0M705.7 1157.1h0M584.4 1416.6h0M576.4 1234.4h0M712.4 1245.4h0M620.8 1401.8h0M754.3 1185.0h0M591.4 1390.4h0M595.9 1337.7h0M589.1 1401.4h0M724.9 1258.6h0M625.2 1263.3h0M587.3 1237.6h0M581.4 1411.6h0M550.1 1198.1h0M706.9 1361.7h0M625.8 1438.9h0M724.9 1142.2h0M617.6 1401.5h0M703.1 1428.9h0M606.7 1235.1h0M608.7 1445.2h0M586.8 1340.5h0M719.7 1333.6h0M727.9 1119.5h0M669.9 1301.9h0M583.3 1208.2h0M583.0 1328.6h0M720.2 1327.4h0M699.3 1316.6h0M740.9 1361.6h0M687.0 1243.4h0M705.6 1427.0h0M754.6 1346.6h0M700.0 1250.6h0M559.8 1341.7h0M567.4 1349.3h0M585.6 1149.1h0M673.9 1444.1h0M657.5 1414.8h0M729.1 1190.5h0M569.2 1375.1h0M618.2 1274.2h0M542.6 1239.5h0M546.3 1247.0h0M622.2 1437.9h0M592.5 1225.8h0M747.7 1312.9h0M560.7 1203.3h0M556.4 1231.1h0M598.9 1430.4h0M685.9 1374.7h0M700.8 1383.7h0M748.6 1236.2h0M622.2 1265.7h0M591.4 1217.2h0M611.4 1366.1h0M741.8 1189.3h0M694.5 1293.1h0M597.2 1258.1h0M622.1 1400.8h0M753.2 1349.4h0M677.5 1409.3h0M725.3 1195.0h0M744.8 1368.3h0M551.1 1251.9h0M555.0 1343.4h0M550.3 1390.6h0M583.5 1294.3h0M603.8 1243.0h0M588.1 1405.1h0M626.0 1402.9h0M689.8 1441.5h0M575.7 1283.0h0M667.9 1329.8h0M600.6 1227.1h0M698.6 1211.4h0M677.9 1392.6h0M576.9 1394.3h0M672.8 1446.7h0M650.8 1431.1h0M573.6 1384.9h0M721.6 1319.4h0M549.5 1285.9h0M649.8 1422.1h0M683.5 1203.2h0M655.3 1309.1h0M750.3 1371.9h0M688.9 1273.5h0M713.2 1202.3h0M704.5 1258.1h0M726.5 1298.8h0M640.1 1345.6h0M660.1 1403.5h0M588.6 1142.7h0M584.4 1366.1h0M688.8 1238.9h0M581.8 1253.3h0M670.4 1312.6h0M706.6 1227.0h0M615.6 1314.3h0M709.1 1367.5h0M719.0 1299.8h0M552.0 1388.3h0M688.0 1254.3h0M625.7 1379.5h0M616.2 1300.7h0M754.8 1348.9h0M547.9 1334.9h0M577.5 997.2h0M599.3 1361.5h0M624.9 1258.4h0M660.3 1440.7h0M610.5 1377.8h0M744.2 1273.4h0M694.8 1244.6h0M595.5 1198.1h0M621.8 1388.5h0M724.5 1262.2h0M604.8 1129.0h0M704.7 1208.0h0M694.0 1219.9h0M704.1 1176.9h0M560.5 1378.7h0M703.2 1226.4h0M749.1 1373.7h0M548.7 1194.8h0M667.1 1448.2h0M750.7 1296.2h0M601.6 1249.9h0M547.1 1136.5h0M613.4 1424.0h0M578.0 1334.9h0M546.0 1340.0h0M743.2 1341.1h0M544.2 1098.0h0M624.9 1402.8h0M734.9 1226.5h0M556.2 1312.8h0M666.4 1342.5h0M556.7 1263.2h0M601.6 1202.5h0M671.7 1342.2h0M744.0 1335.2h0M733.1 1151.5h0M737.2 1350.4h0M546.2 1246.7h0M588.2 1299.9h0M665.0 1398.5h0M546.6 1407.4h0M629.9 1354.7h0M545.9 1279.1h0M733.1 1212.2h0M622.0 1389.1h0M666.8 1437.7h0M751.7 1277.3h0M729.3 1323.0h0M549.0 1294.7h0M604.6 1144.5h0M637.2 1427.9h0M755.5 1231.6h0M648.4 1455.1h0M612.2 1380.6h0M588.3 1354.0h0M591.2 1281.0h0M555.7 1205.7h0M598.2 1439.9h0M588.2 1194.1h0M576.1 1211.1h0M735.3 1369.0h0M600.6 1199.7h0M545.7 1333.5h0M749.8 1368.9h0M544.8 1294.0h0M723.5 1378.6h0M720.1 1391.7h0M543.2 1293.7h0M675.9 1362.8h0M693.2 1210.5h0M631.3 1438.4h0M553.6 1235.9h0M602.9 1393.7h0M683.4 1271.3h0M674.3 1292.3h0M724.3 1313.1h0M634.1 1441.9h0M544.6 1266.9h0M709.8 1350.3h0M577.9 1421.1h0M545.0 1314.9h0M574.7 1409.6h0M591.7 1339.3h0M631.2 1419.4h0M600.7 1441.0h0M717.6 1134.7h0M697.2 1353.4h0M677.4 1449.9h0M707.6 1290.8h0M712.7 1361.6h0M693.3 1428.0h0M712.9 1271.3h0M707.5 1262.6h0M553.0 1359.1h0M588.0 1301.9h0M588.2 1350.9h0M602.8 1358.5h0M548.6 1145.4h0M600.9 1385.9h0M602.4 1393.5h0M733.4 1306.5h0M544.9 1235.7h0M711.2 1225.2h0M628.6 1332.9h0M612.5 1232.8h0M551.2 1212.5h0M563.4 1372.6h0M732.4 1139.4h0M689.5 1274.1h0M543.5 1243.5h0M589.1 1402.2h0M599.2 1300.8h0M653.6 1456.6h0M583.6 1297.6h0M713.6 1239.1h0M556.5 1320.2h0M580.2 1358.2h0M567.7 1154.5h0M590.3 1428.8h0M575.9 1314.8h0M548.3 1353.7h0M675.7 1341.3h0M684.1 1357.7h0M569.3 1232.8h0M628.0 1373.2h0M681.5 1249.2h0M707.8 1242.3h0M755.3 1280.2h0M605.0 1337.4h0M694.5 1346.7h0M556.3 1272.6h0M561.2 1157.5h0M700.8 1227.2h0" stroke="#000000" stroke-width="9.4" stroke-linecap="round" fill="none"/>
<path d="M542.3 1270.8h0M491.4 1143.6h0M456.5 1147.3h0M533.4 1230.2h0M531.6 1102.5h0M524.7 1305.2h0M514.1 1392.5h0M396.6 990.2h0M534.3 1104.2h0M510.3 1265.8h0M506.1 1115.0h0M518.8 1150.0h0M482.9 1134.9h0M536.7 1161.8h0M526.3 1282.0h0M516.2 990.2h0M533.0 1392.5h0M510.8 1155.9h0M484.6 1132.3h0M498.1 1286.4h0M466.3 1127.1h0M437.7 1109.8h0M415.2 1031.4h0M508.4 1199.3h0M533.3 1272.6h0M541.3 1260.4h0M517.9 1130.7h0M470.9 997.2h0M432.6 1114.2h0M517.7 1285.5h0M540.2 1219.1h0M519.3 1360.9h0M494.9 1110.7h0" stroke="#00ff00" stroke-width="9.4" stroke-linecap="round" fill="none"/>
<path d="M781.2 1217.4h0M768.5 1385.7h0M758.7 1113.7h0M776.8 1269.2h0M820.6 1195.4h0" stroke="#ff0000" stroke-width="9.4" stroke-linecap="round" fill="none"/>
<path clip-path="url(#kcB)" d="M706.2 1428.5h0M674.1 1415.5h0M746.0 1390.8h0M545.2 1282.8h0M675.8 1334.2h0M619.9 1286.5h0M680.8 1432.1h0M611.6 1297.1h0M553.3 1139.6h0M751.1 1214.7h0M754.9 1318.4h0M547.6 1134.0h0M587.8 1050.3h0M582.3 1263.8h0M544.7 1260.3h0M709.6 1431.5h0M717.2 1178.7h0M718.7 1242.7h0M558.8 1209.0h0M672.4 1376.2h0M557.2 1174.2h0M642.3 1400.1h0M584.0 979.9h0M571.3 1300.9h0M723.4 1304.8h0M706.7 1371.8h0M705.8 1228.3h0M704.4 1419.7h0M597.9 1273.1h0M743.3 1288.7h0M608.3 1263.4h0M677.8 1450.9h0M594.7 1207.5h0M581.5 1160.6h0M611.9 1445.7h0M738.4 1224.1h0M622.4 1407.3h0M707.1 1376.8h0M637.3 1337.0h0M738.6 1265.3h0M558.7 1396.1h0M548.0 1238.8h0M562.0 1388.4h0M625.1 1226.5h0M703.5 1363.0h0M610.9 1447.0h0M711.8 1328.1h0M667.8 1387.7h0M558.9 1294.6h0M712.7 1247.1h0M546.7 1298.4h0M587.1 1250.2h0M691.3 1409.2h0M753.3 1290.2h0M637.5 1432.9h0M570.4 1409.4h0M583.8 1331.2h0M631.5 1434.3h0M687.8 1227.5h0M743.9 1244.2h0M576.2 1219.4h0M752.6 1206.1h0M569.7 1298.2h0M678.6 1427.8h0M732.3 1196.4h0M727.6 1281.1h0M571.3 1239.2h0M725.1 1222.2h0M547.8 1232.5h0M655.0 1402.2h0M560.3 1377.5h0M556.3 1353.9h0M606.7 1401.4h0M617.1 1291.3h0M573.0 1253.1h0M566.5 1199.5h0M560.2 1142.9h0M637.5 1437.7h0M734.8 1232.6h0M547.2 1371.1h0M707.3 1306.6h0M606.6 1338.8h0M550.2 1251.5h0M683.6 1259.3h0M613.4 1243.1h0M587.2 1234.9h0M669.4 1403.9h0M599.0 1328.2h0M751.6 1204.6h0M591.1 1315.5h0M552.3 1217.4h0M611.8 1381.8h0M587.9 1290.6h0M575.4 1150.0h0M623.6 1373.9h0M586.1 1189.3h0M664.2 1451.3h0M656.9 1355.8h0M583.4 1427.8h0M704.6 1262.7h0M754.2 1189.8h0M741.1 1313.5h0M718.8 1181.0h0M727.9 1355.9h0M546.8 1213.8h0M693.6 1423.5h0M631.6 1402.7h0M738.2 1257.4h0M717.1 1245.9h0M601.1 1373.5h0M731.0 1256.2h0M690.9 1340.3h0M670.7 1331.7h0M711.3 1281.3h0M677.2 1354.5h0M687.3 1311.1h0M565.3 1261.6h0M741.3 1064.2h0M582.3 1181.4h0M542.9 1208.6h0M737.1 1281.3h0M560.5 1195.9h0M662.9 1281.8h0M658.6 1398.8h0M738.9 1288.8h0M595.9 1239.8h0M587.6 1168.4h0M558.1 1171.4h0M591.6 1374.4h0M615.5 1198.6h0M605.3 1241.8h0M749.9 1209.6h0M676.9 1394.5h0M627.9 1235.5h0M564.9 1255.3h0M678.3 1357.9h0M545.0 1368.1h0M721.0 1243.6h0M747.8 1206.8h0M746.2 1198.2h0M621.0 1183.9h0M552.6 1141.7h0M747.0 1348.8h0M686.7 1256.5h0M719.7 1307.0h0M596.7 1386.7h0M619.7 1244.7h0M657.0 1452.5h0M724.4 1385.6h0M667.9 1436.6h0M575.2 1279.4h0M605.4 1423.3h0M677.3 1278.4h0M693.1 1252.5h0M617.0 1445.7h0M729.7 1119.7h0M716.9 1368.6h0M587.1 1207.4h0M678.1 1357.1h0M684.3 1445.1h0M736.0 1333.1h0M637.8 1372.2h0M689.5 1282.3h0M543.4 1314.3h0M724.6 1423.7h0M679.4 1418.3h0M588.5 1358.0h0M739.1 1243.1h0M657.8 1444.9h0M687.7 1416.2h0M546.6 1354.9h0M544.9 1310.1h0M703.5 1209.4h0M685.8 1231.0h0M632.5 1365.3h0M555.6 1397.3h0M545.3 1165.8h0M584.3 1327.4h0M700.9 1301.0h0M719.2 1425.9h0M572.5 1405.5h0M688.3 1234.3h0M595.5 1371.8h0M723.2 1200.1h0M584.9 1120.3h0M704.6 1179.7h0M664.3 1429.0h0M739.4 1209.5h0M695.2 1144.5h0M727.5 1209.8h0M750.4 1202.3h0M725.5 1210.4h0M570.3 1306.2h0M603.9 1198.6h0M714.2 1319.2h0M703.1 1214.1h0M561.8 1214.8h0M582.1 1376.8h0M547.2 1285.6h0M567.1 1243.7h0M736.0 1278.5h0M571.8 1299.5h0M722.4 1267.0h0M548.0 1283.4h0M729.0 1420.4h0M753.5 1265.6h0M601.3 1355.5h0M722.3 1147.8h0M575.3 1393.7h0M747.6 1273.9h0M711.0 1422.5h0M567.7 1340.0h0M575.0 1388.1h0M612.7 1443.2h0M747.3 1366.6h0M602.8 1389.2h0M738.9 1297.2h0M581.5 1230.5h0M754.7 1362.2h0M740.6 1392.7h0M614.3 1203.1h0M745.8 1281.6h0M713.4 1338.3h0M661.9 1323.2h0M544.2 1222.5h0M665.5 1386.3h0M660.0 1355.4h0M633.0 1344.5h0M594.6 1274.6h0M710.9 1110.8h0M671.8 1414.0h0M735.1 1335.9h0M652.6 1430.7h0M740.6 1411.9h0M735.1 1121.8h0M714.9 1319.4h0M750.6 1226.7h0M575.0 1271.5h0M614.5 1360.3h0M704.4 1259.1h0M684.6 1323.8h0M551.4 1346.6h0M582.2 1216.8h0M554.0 1260.6h0M707.4 1426.5h0M715.0 1275.7h0M736.5 1369.9h0M612.6 1309.5h0M722.1 1240.9h0M553.7 1195.5h0M702.7 1247.6h0M617.8 1397.9h0M696.1 1262.6h0M607.7 1287.2h0M741.4 1238.6h0M557.6 1284.5h0M700.2 1236.8h0M544.2 1367.4h0M754.1 1337.0h0M579.4 1347.2h0M604.8 1397.5h0M727.1 1239.4h0M558.9 1121.3h0M614.5 1344.1h0M721.5 1248.3h0M752.6 1217.7h0M705.8 1252.4h0M733.9 1264.3h0M597.6 1437.7h0M618.2 1361.5h0M717.6 1182.4h0M552.4 1142.7h0M682.4 1416.0h0M708.0 1354.2h0M544.1 1298.2h0M734.6 1236.5h0M558.7 1318.7h0M594.0 1375.4h0M659.0 1430.5h0M677.6 1314.3h0M595.3 1290.5h0M632.9 1100.7h0M690.5 1352.9h0M615.4 1233.0h0M582.9 1249.8h0M653.8 1410.2h0M578.2 1233.1h0M618.9 1387.5h0M545.2 1325.5h0M606.5 1409.8h0M587.4 1287.8h0M570.5 1312.6h0M729.2 1326.5h0M692.5 1424.8h0M713.2 1265.6h0M743.1 1219.2h0M681.2 1385.3h0M683.6 1437.7h0M583.5 1297.5h0M753.6 1193.6h0M711.9 1220.9h0M613.6 1256.0h0M685.9 1172.1h0M609.2 1139.0h0M582.7 1417.4h0M576.8 1171.3h0M577.0 1420.4h0M542.7 1215.3h0M578.3 1224.5h0M636.3 1374.6h0M682.0 1282.8h0M684.0 1200.0h0M701.3 1342.7h0M542.3 1258.4h0M576.1 1313.7h0M559.1 1322.8h0M701.2 1369.6h0M612.9 1239.6h0M728.5 1305.1h0M651.7 1457.1h0M551.6 1372.0h0M570.7 1259.5h0M545.8 1343.9h0M753.8 1327.5h0M565.3 1143.6h0M611.1 1133.9h0M729.8 1349.3h0M563.0 1319.6h0M753.6 1302.2h0M545.6 1179.5h0M621.8 1241.3h0M589.0 1311.9h0M734.7 1311.3h0M747.0 1387.1h0M685.0 1313.6h0M721.0 1255.6h0M690.2 1403.1h0M725.7 1204.9h0M565.8 1380.4h0M543.8 1189.6h0" stroke="#000000" stroke-width="9.4" stroke-linecap="round" fill="none"/>
<path d="M510.6 1242.9h0M531.6 1309.1h0M526.6 1318.7h0M395.5 1096.9h0M527.7 1315.3h0M538.4 1126.5h0M468.5 1173.9h0M494.2 1056.0h0M401.0 1172.7h0M478.0 1132.2h0M540.9 1219.9h0M530.2 1284.0h0M526.3 1191.3h0M521.5 1217.4h0M535.5 1309.8h0M514.7 1333.0h0M420.6 1109.0h0M525.4 1153.9h0M529.7 1114.3h0M516.4 1307.2h0M493.7 1215.3h0M512.3 1087.8h0M540.7 1315.0h0M509.9 1159.4h0M522.4 1350.5h0M487.9 1130.4h0M499.9 1006.8h0M525.0 1259.3h0M538.4 1310.2h0M494.7 1337.6h0M482.5 1072.3h0M456.9 1151.4h0M457.1 1036.0h0M525.8 1319.6h0M491.3 1087.8h0M425.6 1152.5h0M534.0 1224.1h0M525.1 1144.7h0M509.1 1272.7h0M528.6 1255.2h0M472.1 1218.1h0M540.0 1013.5h0M539.4 1131.9h0" stroke="#00ff00" stroke-width="9.4" stroke-linecap="round" fill="none"/>
<path d="M767.5 1215.9h0M785.1 1234.3h0M787.7 1213.6h0M801.9 1279.1h0" stroke="#ff0000" stroke-width="9.4" stroke-linecap="round" fill="none"/>
<path clip-path="url(#kcB)" d="M612.0 1418.9h0M688.8 1314.3h0M681.5 1378.6h0M666.9 1327.4h0M728.7 1388.6h0M586.7 1410.4h0M705.9 1386.9h0M564.4 1313.5h0M737.1 1299.7h0M678.8 1248.7h0M724.7 1373.1h0M742.9 1313.9h0M595.9 1243.9h0M682.8 1441.0h0M630.3 1257.4h0M619.1 1338.9h0M735.5 1231.3h0M545.8 1172.2h0M623.0 1319.4h0M737.5 1303.4h0M696.7 1407.1h0M546.1 1257.3h0M549.1 1305.3h0M618.5 1364.4h0M569.3 1340.7h0M681.8 1331.8h0M672.0 1380.3h0M566.1 1324.6h0M672.2 1410.6h0M695.4 1357.6h0M692.5 1385.6h0M688.3 1262.3h0M683.0 1378.8h0M723.8 1417.9h0M708.2 1420.0h0M705.0 1220.8h0M754.6 1274.7h0M668.0 1385.7h0M679.4 1259.2h0M695.0 1307.1h0M545.1 1254.0h0M736.1 1144.8h0M547.3 1176.3h0M639.2 1414.1h0M613.2 1328.2h0M665.0 1448.8h0M695.1 1438.2h0M582.6 1324.0h0M566.7 1373.4h0M749.1 1342.6h0M604.6 1337.3h0M550.7 1215.2h0M591.7 1231.5h0M554.6 1373.8h0M753.7 1298.4h0M546.7 1216.8h0M752.0 1351.2h0M629.0 1047.9h0M694.8 1283.3h0M662.5 1326.6h0M610.2 1436.6h0M570.5 1347.0h0M563.1 1374.8h0M744.3 1376.4h0M698.6 1227.7h0M667.4 1348.1h0M720.6 1253.8h0M738.0 1401.4h0M571.2 1353.4h0M712.5 1329.1h0M614.6 1312.8h0M724.7 1303.6h0M712.9 1353.1h0M693.4 1391.0h0M613.0 1301.3h0M658.2 1408.4h0M601.0 1254.2h0M712.2 1334.5h0M738.2 1263.0h0M557.2 1311.6h0M693.6 1226.8h0M754.2 1252.4h0M703.4 1434.3h0M582.7 1038.6h0M544.7 1306.6h0M626.5 1272.7h0M709.9 1155.3h0M600.3 1263.1h0M556.7 1209.2h0M549.9 1198.7h0M583.5 1247.8h0M575.6 1376.2h0M719.2 1274.3h0M620.2 1237.9h0M572.6 1364.8h0M585.7 1259.0h0M620.3 1441.5h0M610.8 1363.6h0M738.2 1401.9h0M544.9 1313.6h0M707.3 1230.5h0M688.3 1444.2h0M561.1 1230.8h0M618.5 1300.2h0M751.1 1337.4h0M561.8 1182.4h0M592.4 1194.7h0M543.8 1207.8h0M730.3 1406.2h0M586.6 1278.5h0M684.2 1237.5h0M613.5 1224.4h0M711.5 1250.2h0M734.8 1369.1h0M685.8 1239.9h0M690.9 1295.1h0M622.9 1350.5h0M730.0 1256.9h0M671.7 1345.9h0M582.2 1363.3h0M710.3 1403.9h0M573.2 1379.0h0M738.6 1328.9h0M719.5 1365.1h0M589.5 1411.1h0M591.4 1385.0h0M728.0 1275.0h0M586.3 1257.3h0M734.4 1208.2h0M619.8 1441.5h0M742.0 1292.9h0M575.3 1377.6h0M543.3 1242.3h0M600.9 1323.2h0M635.1 1375.0h0M568.3 1316.1h0M581.2 1332.5h0M755.3 1171.8h0M666.4 1438.6h0M622.2 1221.2h0M584.0 1323.5h0M545.5 1242.5h0M753.0 1252.4h0M546.0 1324.3h0M558.6 1230.2h0M682.2 1448.5h0M546.9 1226.9h0M632.2 1396.8h0M657.0 1253.2h0M694.0 1441.5h0M755.1 1208.7h0M645.5 1408.0h0M729.1 1352.3h0M677.8 1340.4h0M609.7 1445.6h0M552.7 1259.4h0M684.6 1208.6h0M740.4 1298.0h0M587.8 1393.4h0M543.8 1220.6h0M610.6 1202.3h0M701.2 1228.8h0M754.2 1337.4h0M753.3 1350.3h0M615.5 1353.8h0M750.2 1274.7h0M659.5 1383.9h0M725.3 1079.0h0M543.3 1307.2h0M546.0 1147.2h0M610.8 1245.0h0M689.8 1442.6h0M592.9 1279.0h0M592.9 1380.8h0M565.8 1259.6h0M543.0 1353.2h0M607.7 1183.3h0M556.7 1133.1h0M697.4 1218.3h0M605.4 1293.4h0M603.0 1221.7h0M558.5 1271.1h0M712.2 1200.2h0M691.5 1439.5h0M631.6 1298.0h0M739.0 1356.1h0M730.1 1214.2h0M592.6 1252.6h0M552.3 1294.5h0M613.4 1307.1h0M693.9 1356.5h0M693.1 1307.8h0M679.5 1332.5h0M565.2 1174.4h0M722.5 1323.2h0M619.2 1236.1h0M640.3 1371.4h0M685.6 1316.4h0M585.3 1063.2h0M732.7 1288.4h0M554.1 1353.6h0M545.5 1341.7h0M653.3 1434.7h0M566.0 1304.9h0M733.7 1402.0h0M725.2 1243.5h0M754.4 1282.9h0M595.4 1283.4h0M632.0 1372.5h0M549.5 1157.4h0M546.0 1245.2h0M668.3 1335.8h0M721.2 1321.6h0M583.8 1119.7h0M545.2 1269.1h0M663.4 1453.6h0M600.7 1340.0h0M734.5 1271.9h0M628.3 1438.3h0M583.9 1247.0h0M690.6 1276.9h0M709.8 1316.3h0M572.2 1300.0h0M543.0 1182.4h0M600.4 1416.8h0M547.0 1207.1h0M732.3 1337.7h0M586.7 1254.4h0M542.7 1334.2h0M561.3 1181.7h0M720.2 1424.0h0M662.2 1370.1h0M571.1 1399.5h0M667.9 1404.1h0M616.3 1364.9h0M575.5 1114.8h0M663.7 1366.9h0M721.2 1424.0h0M566.5 1249.7h0M664.6 1324.8h0M717.0 1282.3h0M619.2 1320.8h0M702.8 1351.1h0M557.1 1223.9h0M543.9 1337.4h0M684.1 1433.1h0M605.4 1309.3h0M742.4 1272.6h0M543.5 1360.8h0M619.7 1444.3h0M636.2 1307.0h0M619.0 1448.7h0M545.3 1251.2h0M615.4 1449.0h0M753.6 1249.1h0M626.6 1445.8h0M560.6 1291.3h0M592.1 1438.8h0M593.3 1225.4h0M544.0 1260.6h0M556.6 1320.5h0M726.3 1400.7h0M550.7 1294.5h0M544.2 1327.0h0M737.6 1195.2h0M588.2 1212.7h0M565.4 1235.4h0M572.5 1259.1h0M585.5 1420.1h0M703.7 1209.3h0M720.0 1322.1h0M621.1 1332.4h0M614.8 1166.8h0M739.6 1310.7h0M657.0 1450.3h0M700.4 1157.4h0M750.5 1355.9h0M748.1 1194.1h0M729.5 1249.7h0M731.1 1123.1h0M574.1 1228.3h0M617.0 1360.9h0M684.5 1319.0h0M682.7 1396.3h0M674.5 1292.9h0M587.4 1328.7h0M676.2 1316.3h0M661.0 1337.4h0M746.0 1222.2h0M754.6 1148.0h0M668.9 1449.7h0M589.3 1380.2h0M707.6 1327.1h0M723.7 1331.6h0M696.0 1244.2h0M588.0 1291.5h0M602.1 1264.7h0M696.8 1329.6h0M626.5 1443.4h0M548.3 1282.0h0M679.4 1342.5h0M552.1 1193.2h0M743.4 1201.1h0M722.6 1337.0h0M737.0 1348.9h0M684.7 1273.2h0M600.8 1418.2h0M715.4 1386.7h0M563.4 1115.2h0M753.6 1210.4h0M706.0 1393.6h0M751.3 1288.9h0M583.5 1326.2h0M728.6 1338.0h0M545.2 1150.0h0M580.4 1427.1h0M740.7 1331.7h0M576.8 1423.2h0M701.3 1377.2h0M564.5 1374.8h0M714.3 1425.8h0M562.2 1332.4h0M738.0 1319.0h0M660.9 1386.0h0M616.0 1441.6h0M573.9 1361.7h0M599.9 1202.7h0M570.3 1348.1h0M708.2 1282.3h0M597.0 1168.9h0M589.9 1296.6h0M752.2 1310.3h0M714.4 1324.5h0M547.4 1142.4h0M734.7 1239.2h0M605.9 1207.9h0M660.4 1432.4h0M602.5 1345.2h0M673.7 1414.4h0M699.4 1377.1h0M544.3 1208.0h0M707.1 1280.3h0M627.3 1256.0h0" stroke="#000000" stroke-width="9.4" stroke-linecap="round" fill="none"/>
<path d="M530.7 1342.8h0M539.2 1168.9h0M451.3 1152.2h0M492.7 1105.5h0M395.3 1060.1h0M499.5 1178.0h0M452.5 1143.4h0M444.4 1113.9h0M490.8 1095.6h0M411.6 1025.2h0M536.8 1331.8h0M465.1 1156.6h0M438.2 1060.6h0M438.2 1098.9h0M534.8 1054.2h0M533.0 1219.2h0M541.8 960.2h0M542.6 1386.0h0M537.4 1269.9h0M477.9 924.7h0M491.1 1174.7h0M537.7 1178.8h0M505.8 1329.9h0M514.9 1147.5h0M534.9 1268.8h0M537.5 1239.5h0M489.0 1159.9h0M527.3 1162.6h0M478.1 1129.4h0M524.9 1287.1h0M506.2 1221.4h0M537.8 1305.6h0M468.8 1063.7h0M521.9 1355.0h0M457.1 1248.8h0M540.0 1135.2h0M465.3 1162.1h0M404.1 1133.1h0" stroke="#00ff00" stroke-width="9.4" stroke-linecap="round" fill="none"/>
<path d="M817.4 1177.3h0M763.1 1240.7h0M772.1 1158.4h0M836.9 1277.5h0M772.1 1199.3h0" stroke="#ff0000" stroke-width="9.4" stroke-linecap="round" fill="none"/>
<path clip-path="url(#kcB)" d="M717.1 1290.5h0M563.1 1333.9h0M693.5 1333.9h0M561.5 1222.8h0M619.6 1329.8h0M630.4 1299.1h0M714.0 1314.4h0M698.1 1270.2h0M559.2 1400.7h0M697.8 1205.1h0M665.2 1427.7h0M596.2 1440.3h0M560.0 1384.6h0M716.3 1281.4h0M545.5 1124.4h0M663.7 1375.7h0M701.6 1432.1h0M554.0 1383.7h0M614.6 1407.9h0M633.4 1328.3h0M586.3 1271.7h0M598.8 1315.8h0M660.6 1394.9h0M631.5 1377.0h0M726.7 1275.7h0M731.2 1404.6h0M568.1 1287.3h0M605.7 1432.6h0M557.6 1104.5h0M732.0 1340.2h0M576.6 1230.1h0M693.0 1429.0h0M544.8 1330.1h0M715.9 1271.0h0M627.1 1376.0h0M693.0 1215.7h0M603.2 1213.1h0M708.7 1404.8h0M567.1 1227.7h0M668.9 1329.9h0M617.9 1122.5h0M669.7 1395.7h0M578.7 1361.3h0M730.5 1403.9h0M547.9 1275.7h0M706.4 1226.4h0M668.5 1402.7h0M678.3 1441.6h0M688.5 1428.2h0M678.6 1421.4h0M722.1 1221.1h0M623.7 1352.7h0M546.0 1376.3h0M681.4 1414.3h0M562.2 1373.6h0M724.5 1352.5h0M545.1 1359.4h0M657.6 1365.2h0M749.3 1232.6h0M637.0 1390.9h0M664.5 1397.3h0M589.6 1373.9h0M661.8 1376.1h0M627.5 1393.4h0M699.3 1300.5h0M724.0 1220.5h0M573.1 1279.7h0M577.5 1076.2h0M666.1 1403.2h0M604.7 1442.3h0M562.1 1344.3h0M727.6 1357.9h0M741.7 1245.8h0M567.7 1333.8h0M604.9 1237.2h0M741.6 1286.5h0M549.0 1195.2h0M714.6 1283.6h0M736.8 1268.1h0M707.6 1220.5h0M584.2 1227.9h0M542.9 1327.3h0M588.8 1184.4h0M639.3 1389.2h0M742.5 1344.3h0M595.1 1378.0h0M738.8 1318.8h0M543.6 1235.6h0M715.8 1178.7h0M689.9 1251.8h0M755.8 1301.6h0M573.4 1378.4h0M719.2 1212.9h0M574.0 1356.7h0M695.0 1361.4h0M618.0 1273.1h0M563.0 1344.2h0M593.8 1330.4h0M619.8 1152.7h0M548.9 1210.5h0M559.7 1370.6h0M618.8 1247.6h0M680.8 1291.7h0M582.9 1327.4h0M607.6 1197.2h0M562.4 1169.2h0M752.5 1333.1h0M550.0 1248.3h0M544.5 1358.1h0M544.1 1241.4h0M725.5 1340.0h0M656.8 1402.1h0M703.6 1256.6h0M729.8 1225.4h0M542.4 1276.3h0M603.4 1225.7h0M756.1 1292.9h0M699.1 1394.1h0M583.6 1216.2h0M684.6 1179.1h0M621.6 1378.1h0M627.5 1358.2h0M570.8 1287.4h0M634.9 1347.1h0M617.3 1351.4h0M574.8 1247.3h0M724.6 1311.7h0M622.1 1305.4h0M556.3 1087.8h0M748.7 1339.6h0M625.3 1276.0h0M714.9 1363.2h0M606.0 1108.3h0M650.4 1431.5h0M554.2 1202.0h0M690.1 1330.6h0M602.2 1423.7h0M689.1 1241.5h0M727.8 1228.4h0M572.2 1345.1h0M585.9 1211.2h0M740.6 1155.0h0M587.0 1138.6h0M729.0 1215.6h0M582.6 1229.1h0M633.1 1312.8h0M750.6 1317.2h0M732.5 1273.9h0M556.1 1271.3h0M745.5 1275.1h0M582.4 1379.1h0M589.5 1241.4h0M593.2 1337.8h0M748.7 1283.9h0M614.7 1438.3h0M707.0 1350.6h0M602.5 1258.8h0M662.5 1346.0h0M684.6 1307.7h0M714.2 1243.3h0M727.7 1365.7h0M631.5 1442.1h0M601.9 1324.0h0M620.5 1244.5h0M595.6 1298.7h0M743.9 1259.0h0M728.1 1329.0h0M748.9 1321.2h0M747.6 1275.0h0M717.0 1389.9h0M750.0 1275.3h0M751.4 1361.9h0M727.9 1289.4h0M715.2 1187.8h0M670.0 1359.8h0M693.0 1427.9h0M756.0 1261.1h0M630.5 1435.5h0M690.6 1338.2h0M718.0 1307.3h0M543.9 934.8h0M717.9 1197.5h0M734.8 1233.6h0M588.1 1283.9h0M545.9 1305.3h0M690.7 1348.1h0M575.6 1405.9h0M617.2 1358.6h0M696.1 1376.3h0M722.1 1244.3h0M572.8 1268.3h0M611.3 1266.5h0M737.5 1410.1h0M610.5 1289.2h0M691.1 1188.4h0M614.8 1435.5h0M598.5 1331.8h0M616.2 1372.7h0M598.8 1140.0h0M643.6 1382.2h0M719.9 1236.5h0M614.1 1306.3h0M666.8 1367.3h0M590.2 1340.8h0M569.5 1354.6h0M702.6 1181.2h0M544.9 1253.7h0M550.6 954.2h0M675.7 1407.7h0M587.8 1266.7h0M598.2 1334.0h0M689.8 1370.9h0M697.6 1321.2h0M718.8 1187.5h0M670.3 1333.8h0M544.7 1264.7h0M581.4 1356.3h0M543.9 1082.6h0M741.9 1326.3h0M702.9 1368.6h0M748.0 1131.6h0M547.0 1254.1h0M615.0 1274.2h0M729.6 1185.3h0M745.5 1252.5h0M566.5 1337.2h0M693.0 1290.3h0M558.4 1286.2h0M711.4 1430.4h0M655.5 1379.7h0M598.1 1270.7h0M623.7 1397.1h0M673.0 1427.9h0M617.9 1236.2h0M561.5 1056.7h0M615.1 1447.1h0M547.9 1155.0h0M753.3 1364.9h0M733.3 1200.8h0M605.2 1280.1h0M690.3 1392.8h0M697.6 1355.3h0M692.7 1313.5h0M662.5 1449.5h0M575.5 1294.4h0M556.9 1156.9h0M655.1 1444.9h0M647.0 1418.0h0M578.0 1377.4h0M548.2 1383.7h0M742.7 1316.0h0M721.9 1408.1h0M678.8 1411.3h0M544.4 1224.7h0M704.5 1324.1h0M741.9 1154.4h0M565.2 1339.6h0M606.9 1288.5h0M723.5 1384.2h0M702.6 1325.2h0M592.9 1424.2h0M673.2 1292.4h0M609.0 1295.5h0M677.5 1349.3h0M557.0 1104.3h0M664.8 1337.8h0M685.1 1213.2h0M752.4 1319.9h0M716.4 1198.6h0M557.4 1222.7h0M675.5 1399.8h0M733.3 1174.2h0M745.0 1386.0h0M754.0 1215.6h0M602.4 1182.0h0M670.8 1392.8h0M697.5 1277.9h0M721.5 1249.3h0M732.6 1197.4h0M548.2 1349.6h0M564.4 1338.4h0M616.2 1447.8h0M747.4 1210.4h0M572.6 1410.9h0M693.5 1219.2h0M744.9 1407.9h0M664.6 1405.6h0M558.7 1210.2h0M571.7 1294.9h0M611.5 1379.6h0M668.6 1425.0h0M677.1 1373.8h0M555.4 1168.3h0M611.0 1339.3h0M716.3 1368.3h0M691.2 1421.3h0M679.6 1344.7h0M687.4 1310.8h0M557.2 1191.0h0M542.8 1218.3h0M733.1 1177.4h0M623.9 1258.0h0M715.2 1401.5h0M579.3 1369.5h0M567.2 1074.1h0M641.1 1451.9h0M742.9 1413.1h0M671.3 1343.1h0M708.7 1263.4h0M670.5 1392.6h0M624.8 1372.1h0M596.6 1406.1h0M692.3 1393.7h0M599.3 1314.3h0M581.2 1414.9h0M753.4 1350.5h0M685.3 1275.2h0M616.2 1171.4h0M708.5 1253.4h0M568.4 1300.7h0M555.6 1291.0h0M547.4 1163.8h0M735.7 1221.8h0M607.1 1325.5h0M542.7 1206.6h0M636.7 1392.5h0M707.4 1284.5h0M549.1 1214.6h0M544.9 1244.3h0M743.2 1298.9h0M721.5 1201.5h0M566.3 1407.8h0M713.1 1378.4h0M592.3 1400.0h0M682.3 1404.6h0M559.6 1251.2h0M612.2 1373.9h0M732.3 1216.4h0M729.8 1334.5h0M560.7 1252.0h0M699.7 1389.8h0M727.0 1339.9h0" stroke="#000000" stroke-width="9.4" stroke-linecap="round" fill="none"/>
<path d="M487.1 1193.3h0M508.8 1114.2h0M464.8 1152.3h0M512.2 1307.3h0M539.7 1297.4h0M436.4 978.3h0M473.2 1152.9h0M448.8 1172.8h0M395.0 1030.1h0M330.3 1057.5h0M487.0 1156.9h0M453.2 1161.5h0M461.5 1127.8h0M538.2 1066.3h0M451.2 1113.4h0M460.0 979.9h0M477.9 1024.9h0M517.4 1268.2h0M532.2 978.3h0M525.5 1300.7h0M517.5 1023.9h0M512.8 1118.7h0M538.3 1119.0h0M513.3 1159.8h0M441.6 1206.7h0M508.5 1169.0h0M465.6 1101.5h0M482.3 1321.3h0M388.5 1116.8h0M535.6 1006.5h0M441.7 1121.0h0M534.7 1243.7h0M458.2 880.5h0M523.1 1129.7h0M521.0 1226.3h0M322.3 881.5h0M494.5 1150.9h0" stroke="#00ff00" stroke-width="9.4" stroke-linecap="round" fill="none"/>
<path d="M760.5 1297.7h0M763.1 1260.2h0M772.6 1224.5h0M778.6 1231.7h0M769.6 1233.0h0M836.1 1208.6h0M801.9 1209.7h0" stroke="#ff0000" stroke-width="9.4" stroke-linecap="round" fill="none"/>
<path clip-path="url(#kcB)" d="M567.2 1087.8h0M603.6 1216.9h0M719.5 1133.1h0M720.8 1231.3h0M699.1 1187.4h0M594.9 1337.6h0M582.5 1428.6h0M611.9 1356.0h0M572.6 1346.0h0M667.5 1306.2h0M683.1 1441.2h0M630.3 1414.3h0M563.6 1403.8h0M543.2 1271.4h0M731.1 1292.6h0M753.3 1213.5h0M600.3 1279.3h0M623.7 1259.8h0M610.4 1363.4h0M622.2 1103.3h0M682.3 1391.9h0M611.2 1259.4h0M715.5 1245.9h0M702.4 1406.1h0M570.3 1203.5h0M721.1 1345.4h0M542.9 1227.2h0M678.9 1324.5h0M671.2 1398.7h0M597.7 1441.9h0M697.3 1378.7h0M624.0 1414.6h0M578.7 1272.9h0M608.8 1290.7h0M585.0 1296.7h0M625.8 1315.5h0M603.0 1420.4h0M694.7 1364.6h0M704.7 1290.1h0M562.5 1009.6h0M739.8 1418.9h0M561.4 1325.5h0M637.7 1339.6h0M629.5 1301.2h0M621.0 1323.4h0M685.4 1359.7h0M591.4 1417.0h0M712.8 1245.8h0M732.8 1333.7h0M684.9 1381.3h0M735.5 1345.6h0M628.9 1326.5h0M622.6 1441.6h0M599.5 1257.9h0M712.1 1303.5h0M599.3 1416.3h0M595.4 1338.2h0M739.1 1257.6h0M557.6 1245.9h0M704.5 1356.4h0M618.7 1243.0h0M695.5 1350.2h0M704.6 1338.0h0M672.8 1390.8h0M601.8 1400.6h0M564.1 1142.8h0M742.5 1391.2h0M745.4 1264.8h0M572.8 1357.5h0M690.5 1414.0h0M659.8 1342.4h0M717.2 1285.3h0M550.3 1041.2h0M582.0 1371.5h0M576.2 1379.5h0M704.2 1358.6h0M709.7 1199.6h0M722.9 1385.1h0M581.0 1379.6h0M696.3 1313.3h0M716.1 1207.6h0M571.9 1309.3h0M698.2 1436.1h0M542.8 1339.6h0M599.0 1355.7h0M589.7 1317.1h0M576.8 1337.4h0M743.4 1193.8h0M573.0 1355.5h0M600.3 1303.1h0M670.6 1449.2h0M718.0 1322.1h0M695.6 1367.2h0M663.6 1447.7h0M688.5 1354.7h0M684.1 1293.6h0M595.0 1296.2h0M743.0 1408.4h0M736.2 1402.5h0M555.8 1229.1h0M682.7 1350.2h0M605.1 1178.8h0M653.9 1422.0h0M747.9 1385.0h0M741.3 1411.9h0M629.6 1388.1h0M543.2 1329.5h0M617.8 1261.1h0M592.7 1159.1h0M567.6 1298.8h0M637.5 1376.8h0M634.3 1357.5h0M557.6 1362.3h0M675.9 1397.8h0M604.1 1444.8h0M719.0 1253.1h0M711.7 1296.0h0M543.1 1289.8h0M550.4 1194.4h0M621.6 1450.3h0M665.0 1411.7h0M752.9 1362.2h0M570.6 1386.4h0M691.4 1211.4h0M751.3 1136.4h0M684.9 1303.1h0M631.1 1451.9h0M733.0 1260.1h0M571.6 1415.0h0M740.7 1363.0h0M612.1 1324.5h0M681.3 1284.3h0M568.2 1267.9h0M736.0 1336.6h0M708.5 1226.5h0M699.9 1331.7h0M613.3 1402.4h0M608.3 1412.3h0M544.8 1346.4h0M569.3 1394.3h0M572.4 1348.1h0M749.6 1328.3h0M584.0 1016.6h0M714.1 1339.7h0M730.2 1349.0h0M556.9 1347.1h0M732.4 1388.4h0M544.2 1275.0h0M745.8 1405.1h0M589.9 1392.1h0M543.6 1186.4h0M600.9 1292.7h0M685.8 1440.9h0M582.2 1282.5h0M592.4 1392.3h0M557.4 1371.9h0M630.8 1300.4h0M627.9 1349.2h0M666.4 1358.0h0M609.2 1412.2h0M722.1 1106.3h0M549.4 1388.6h0M543.9 1285.5h0M684.9 1259.2h0M719.4 1279.8h0M589.2 1401.1h0M600.8 1223.4h0M733.8 1238.0h0M578.4 1201.6h0M698.3 1324.1h0M714.8 1356.1h0M590.8 1312.4h0M589.6 1305.0h0M622.9 1282.2h0M658.6 1360.2h0M693.7 1328.8h0M604.4 1266.3h0M684.5 1420.9h0M707.7 1420.4h0M584.2 1320.9h0M620.0 1200.9h0M674.2 1448.8h0M718.8 1338.0h0M610.5 1435.6h0M627.9 1360.6h0M545.7 1346.8h0M708.5 1261.5h0M632.6 1302.9h0M578.2 1298.0h0M543.5 1265.8h0M636.2 1397.5h0M570.2 1125.9h0M587.1 1406.3h0M739.6 1241.0h0M610.0 1377.0h0M699.6 1386.3h0M564.3 1221.4h0M737.8 1152.8h0M566.9 1245.3h0M685.0 1421.9h0M588.6 1006.3h0M706.6 1300.6h0M697.1 1412.6h0M715.4 1337.0h0M571.3 1212.6h0M706.4 1404.3h0M612.8 1400.5h0M685.9 1217.9h0M576.2 1310.7h0M590.7 1423.2h0M542.2 1129.2h0M619.5 1200.0h0M580.3 1330.0h0M662.3 1411.4h0M745.0 1143.9h0M737.3 1416.7h0M678.8 1285.1h0M602.2 1397.6h0M603.2 1332.9h0M581.1 1351.6h0M686.8 1356.3h0M551.4 1347.2h0M596.1 1253.7h0M721.8 1143.4h0M558.4 1363.5h0M687.8 1388.8h0M707.2 1223.2h0M556.7 1345.9h0M598.2 1314.5h0M681.1 1337.1h0M576.1 1208.9h0M753.1 1297.7h0M709.6 1110.7h0M588.7 1432.7h0M719.2 1296.4h0M568.4 1337.0h0M727.0 1412.5h0M687.8 1353.9h0M632.6 1373.4h0M711.9 1277.5h0M592.1 1293.8h0M559.5 1395.1h0M686.8 1220.6h0M694.0 1439.9h0M746.7 1180.7h0M731.7 1333.8h0M600.5 1220.9h0M708.6 1273.8h0M659.5 1441.4h0M656.8 1445.8h0M544.7 1211.7h0M625.1 1450.4h0M701.6 1377.5h0M740.3 1303.0h0M717.3 1426.8h0M753.0 1304.1h0M721.3 1267.0h0M702.2 1227.1h0M648.1 1404.3h0M700.6 1279.6h0M747.8 1334.7h0M543.5 1213.3h0M751.6 1330.8h0M618.4 1213.4h0M620.1 1192.9h0M736.4 1338.3h0M614.0 1206.4h0M545.1 1256.2h0M562.4 1092.7h0M706.1 1323.6h0M612.3 1227.7h0M709.3 1189.9h0M569.7 1243.7h0M616.4 1327.8h0M646.8 1457.4h0M741.3 1250.2h0M697.7 1200.5h0M740.5 1224.6h0M693.9 1364.0h0M721.6 1400.4h0M581.4 1425.8h0M545.7 1335.8h0M635.7 1363.5h0M702.2 1389.4h0M709.5 1226.0h0M616.5 1358.0h0M680.2 1339.4h0M717.1 1230.8h0M629.4 1267.3h0M672.1 1280.5h0M614.3 1352.9h0M724.8 1265.2h0M713.2 1243.8h0M567.6 1326.9h0M722.4 1328.3h0M655.2 1431.8h0M617.9 1241.4h0M689.8 1314.8h0M593.5 1248.8h0M551.5 1108.8h0M567.5 1400.2h0M555.8 1385.5h0M684.1 1188.5h0M577.3 1264.9h0M634.1 1292.2h0M605.3 1230.2h0M698.5 1430.3h0M593.0 1339.4h0M754.6 1285.5h0M752.8 1220.7h0M616.1 1362.4h0M591.2 1383.4h0M620.2 1432.5h0M685.4 1233.8h0M544.5 1230.7h0M688.1 1205.5h0M570.8 1319.4h0M676.6 1305.7h0M744.8 1382.0h0M543.5 1203.4h0M555.7 1213.9h0M556.6 1166.8h0M615.7 1340.7h0M643.6 1412.9h0M582.9 1067.9h0M604.2 1386.5h0M544.2 1318.9h0M562.9 1169.1h0M701.5 1315.8h0M622.3 1410.7h0M752.5 1306.5h0M586.4 1397.3h0M558.9 1178.7h0M681.4 1264.6h0M585.7 1276.5h0M565.2 1321.6h0M596.8 1265.3h0M596.3 1435.4h0M610.6 1125.1h0M755.8 1244.9h0M629.3 1344.5h0M627.6 1252.3h0M609.0 1291.8h0" stroke="#000000" stroke-width="9.4" stroke-linecap="round" fill="none"/>
<path d="M518.6 1111.3h0M497.2 1226.7h0M538.0 1268.5h0M506.1 1322.4h0M479.9 1067.1h0M479.7 1048.2h0M481.4 1183.8h0M514.0 1235.1h0M491.7 1198.3h0M501.9 1327.8h0M510.2 1093.0h0M511.3 1128.1h0M540.0 1094.3h0M425.6 1040.4h0M525.3 1145.4h0M450.4 1141.2h0M516.2 1128.0h0M532.2 1305.6h0M520.6 1107.4h0M538.7 1313.7h0M460.0 1331.7h0M535.7 1245.6h0M491.3 1066.3h0M526.3 1297.2h0M523.9 1110.1h0M538.3 1134.6h0M484.2 1154.3h0M535.3 1118.1h0M448.8 1143.5h0M523.5 1157.1h0M485.8 1179.9h0M420.9 1131.8h0M539.8 1280.6h0M510.5 1141.7h0M449.6 1081.9h0M506.4 1160.2h0M506.1 1210.7h0M448.1 1199.7h0" stroke="#00ff00" stroke-width="9.4" stroke-linecap="round" fill="none"/>
<path d="M760.5 1234.3h0M768.8 1190.3h0M825.1 1366.7h0M769.6 1213.6h0M758.7 1167.0h0" stroke="#ff0000" stroke-width="9.4" stroke-linecap="round" fill="none"/>
<path clip-path="url(#kcB)" d="M551.9 1218.9h0M681.9 1335.5h0M752.6 1295.4h0M594.6 1198.9h0M544.6 1324.0h0M588.5 1341.2h0M736.6 1418.4h0M735.3 1215.9h0M695.4 1213.8h0M589.3 1262.8h0M622.2 1211.8h0M736.7 1341.6h0M565.1 1278.9h0M613.7 1233.3h0M546.2 1321.8h0M756.0 1287.8h0M613.2 1234.4h0M583.3 1394.7h0M618.6 1412.2h0M692.6 1411.7h0M752.1 1364.4h0M637.9 1449.5h0M732.9 1268.4h0M612.2 1244.8h0M568.0 1220.2h0M645.3 1407.4h0M723.4 1245.6h0M745.2 1355.7h0M607.4 1365.5h0M664.0 1301.2h0M697.4 1261.5h0M623.0 1247.4h0M687.8 1226.4h0M590.7 1372.6h0M723.2 1167.3h0M611.3 1238.1h0M713.1 1365.3h0M703.6 1320.1h0M577.5 1043.8h0M719.7 1344.6h0M599.7 1343.9h0M604.9 1270.5h0M543.1 1271.6h0M652.4 1424.1h0M723.9 1267.1h0M611.5 1276.5h0M677.6 1428.6h0M584.6 1225.9h0M561.2 1345.3h0M545.5 1233.4h0M698.6 1416.0h0M741.9 1194.3h0M590.5 1199.2h0M616.7 1449.2h0M550.9 1391.4h0M544.7 1317.9h0M561.5 1037.3h0M743.8 1378.8h0M605.7 1352.4h0M575.4 1027.7h0M612.8 1234.6h0M671.4 1438.4h0M751.7 1261.2h0M744.9 1223.0h0M546.2 1349.4h0M574.9 1113.8h0M646.6 1446.6h0M549.3 1383.0h0M575.0 1406.3h0M542.6 1266.9h0M602.4 1347.3h0M594.9 1402.3h0M548.9 1374.7h0M557.3 1372.0h0M711.2 1142.7h0M633.0 1343.0h0M560.6 1389.0h0M694.1 1398.0h0M753.5 1362.5h0M710.5 1311.4h0M688.5 1365.8h0M717.9 1366.8h0M752.6 1265.9h0M597.0 1112.5h0M660.4 1400.3h0M566.5 1190.5h0M704.5 1289.1h0M626.9 1420.4h0M723.2 1286.0h0M667.0 1347.0h0M570.2 1217.9h0M707.6 1181.3h0M617.4 1324.2h0M736.6 1341.3h0M562.7 1390.1h0M690.3 1328.5h0M573.7 1207.8h0M595.8 1362.5h0M624.3 1303.3h0M729.4 1155.8h0M723.1 1335.6h0M708.9 1342.9h0M728.9 1342.3h0M554.9 1219.2h0M694.6 1401.9h0M625.1 1417.9h0M693.3 1225.5h0M648.2 1456.9h0M564.7 1181.7h0M569.4 1203.5h0M683.8 1300.8h0M752.3 1257.8h0M561.1 1388.8h0M744.4 1392.5h0M617.7 1210.1h0M615.2 1249.7h0M721.1 1114.6h0M629.1 1309.6h0M695.6 1271.5h0M590.9 1225.2h0M683.5 1314.1h0M604.4 1067.1h0M732.8 1387.1h0M600.6 1343.2h0M576.1 1406.9h0M727.2 1154.5h0M578.5 1250.5h0M663.2 1429.2h0M571.7 1304.8h0M544.4 1200.0h0M684.6 1256.4h0M744.7 1350.9h0M638.5 1367.0h0M698.2 1403.3h0M568.6 1224.6h0M706.0 1433.2h0M696.7 1270.8h0M735.3 1143.7h0M749.5 1347.3h0M611.0 1260.3h0M567.9 1343.6h0M554.9 1355.1h0M674.9 1448.9h0M598.7 1332.6h0M746.6 1309.9h0M584.3 1240.9h0M566.4 1354.6h0M702.4 1214.4h0M739.2 1214.0h0M616.5 1351.0h0M670.0 1286.4h0M544.1 1354.7h0M680.1 1423.4h0M664.9 1405.9h0M675.6 1277.8h0M613.3 1445.2h0M707.7 1378.2h0M687.0 1435.7h0M730.3 1174.7h0M744.3 1294.5h0M711.1 1414.6h0M601.4 1293.3h0M698.3 1403.1h0M683.7 1339.2h0M595.0 1220.4h0M622.1 1259.8h0M675.1 1270.8h0M586.8 1218.2h0M732.6 1148.4h0M601.2 1313.9h0M620.9 1377.2h0M571.0 1196.5h0M625.6 1222.0h0M711.8 1240.5h0M636.3 1397.6h0M750.9 1316.5h0M634.0 1351.8h0M719.3 1113.0h0M578.9 1334.8h0M580.0 1289.3h0M672.5 1334.4h0M646.1 1401.6h0M706.7 1344.1h0M693.7 1267.0h0M579.3 1349.7h0M596.5 1283.3h0M752.7 1280.1h0M602.7 1444.2h0M600.3 1407.1h0M680.7 1364.9h0M751.2 1319.7h0M571.4 1183.9h0M635.7 1373.1h0M723.2 1391.4h0M669.9 1288.8h0M590.7 1411.3h0M609.0 1313.1h0M734.2 1384.7h0M720.8 1191.6h0M660.4 1395.2h0M635.1 1397.8h0M560.2 1398.8h0M721.6 1151.7h0M619.5 1429.3h0M731.6 1417.9h0M729.2 1322.4h0M569.4 1370.7h0M571.9 1372.6h0M700.9 1363.1h0M712.2 1302.3h0M672.7 1364.4h0M698.5 1378.7h0M573.0 1233.6h0M690.0 1384.5h0M731.0 1402.5h0M575.7 1163.5h0M636.0 1422.5h0M730.0 1298.4h0M618.3 1285.2h0M609.9 1408.8h0M658.5 1404.7h0M708.0 1269.3h0M702.2 1413.0h0M542.9 1158.7h0M586.2 1182.3h0M555.2 1132.5h0M652.6 1430.2h0M707.0 1264.2h0M733.0 1390.7h0M583.1 1231.5h0M644.1 1454.5h0M732.3 1358.7h0M729.0 1392.9h0M590.5 1384.9h0M629.3 1276.4h0M673.1 1376.1h0M684.7 1326.3h0M581.4 1278.0h0M545.3 1311.3h0M708.1 1320.0h0M664.3 1341.5h0M664.6 1339.6h0M726.3 1309.7h0M591.7 1286.0h0M746.2 1245.8h0M730.3 1341.1h0M594.4 1259.4h0M669.2 1445.3h0M632.7 1383.8h0M730.9 1410.9h0M609.5 1394.3h0M572.3 1358.2h0M674.8 1447.4h0M566.2 1170.6h0M671.7 1316.1h0M586.7 1149.2h0M625.2 1279.0h0M680.4 1294.0h0M602.0 1306.9h0M591.9 1237.7h0M569.3 1241.7h0M726.3 1354.6h0M702.1 1388.9h0M629.0 1308.1h0M545.8 1356.2h0M694.6 1256.6h0M688.9 1426.5h0M606.3 1337.8h0M680.9 1390.4h0M607.5 1402.6h0M669.1 1269.4h0M631.8 1442.1h0M599.9 1320.2h0M557.5 1168.8h0M701.3 1430.3h0M716.6 1301.8h0M605.8 1222.5h0M606.6 1442.5h0M685.0 1207.4h0M628.7 1270.9h0M570.1 1190.1h0M547.1 1339.7h0M588.8 1250.6h0M631.7 1364.9h0M559.1 1283.5h0M728.5 1275.4h0M589.7 1251.5h0M626.4 1293.8h0M693.2 1396.1h0M612.3 1311.5h0M568.4 1255.1h0M554.6 1278.2h0M685.8 1299.8h0M686.6 1409.9h0M599.7 1350.4h0M678.7 1374.9h0M548.1 1384.2h0M555.5 1179.8h0M586.3 1406.0h0M735.9 1411.7h0M755.5 1200.3h0M624.7 1425.6h0M735.7 1407.3h0M685.3 1350.1h0M671.7 1343.1h0M736.7 1339.9h0M721.5 1276.4h0M565.3 1405.9h0M755.1 1278.1h0M718.3 1331.1h0M679.2 1446.6h0M720.1 1274.1h0M579.0 1144.5h0M713.3 1157.0h0M706.2 1177.7h0M585.7 1241.0h0M613.9 1447.7h0M752.5 1235.6h0M735.9 1420.1h0M684.7 1350.2h0M597.6 1228.4h0M711.5 1247.8h0M712.3 1392.0h0M754.9 1231.1h0M724.3 1234.2h0M677.8 1403.9h0M734.3 1270.4h0M545.8 1262.6h0M742.1 1242.8h0M545.5 1266.0h0M682.5 1447.3h0M685.8 1365.6h0M552.0 1304.7h0M576.5 1304.8h0M742.8 1185.7h0M579.2 1313.9h0M564.8 1174.1h0M626.9 1386.1h0M602.0 1396.6h0M567.2 1204.6h0M712.4 1224.8h0M583.8 1345.0h0M565.6 1110.8h0M681.9 1316.6h0M717.9 1242.5h0M591.0 1392.4h0M576.3 1271.3h0M745.2 1401.9h0" stroke="#000000" stroke-width="9.4" stroke-linecap="round" fill="none"/>
<path d="M517.2 1213.6h0M519.3 1060.6h0M511.6 1113.4h0M532.4 1209.7h0M445.5 1100.7h0M541.0 1354.6h0M487.6 1144.4h0M532.7 1172.9h0M524.9 1276.8h0M465.1 1145.5h0M537.0 1133.5h0M535.0 1116.9h0M523.0 1191.7h0M486.8 1104.9h0M507.9 954.5h0M397.6 1124.6h0M389.6 942.3h0M475.9 1112.7h0M526.5 1030.1h0M523.0 1248.3h0M481.7 1030.9h0M541.8 1235.8h0M424.8 1276.0h0M503.7 996.4h0M529.9 1303.4h0M511.4 1259.9h0M517.2 1102.3h0M539.3 1314.8h0M462.3 1187.4h0M537.3 1299.8h0" stroke="#00ff00" stroke-width="9.4" stroke-linecap="round" fill="none"/>
<path d="M800.6 1233.0h0M764.7 1359.1h0M778.6 1201.9h0M840.0 1097.9h0M775.5 1250.6h0M763.1 1220.0h0M785.3 1135.7h0M804.0 1245.4h0" stroke="#ff0000" stroke-width="9.4" stroke-linecap="round" fill="none"/>
<path clip-path="url(#kcB)" d="M711.6 1320.4h0M576.9 1373.2h0M720.6 1302.2h0M666.1 1362.2h0M612.4 1205.7h0M550.2 1288.2h0M701.8 1284.9h0M740.7 1226.3h0M548.8 1212.0h0M605.1 1284.3h0M701.2 1310.3h0M749.4 1269.2h0M621.5 1450.3h0M640.8 1377.1h0M616.9 1297.6h0M735.7 1212.7h0M714.2 1364.7h0M599.1 1256.1h0M734.3 1226.4h0M730.6 1350.0h0M647.5 1421.9h0M705.2 1262.3h0M622.7 1239.0h0M708.0 1215.3h0M603.3 1060.1h0M724.7 1284.7h0M584.6 1267.2h0M712.5 1344.8h0M713.9 1291.9h0M717.4 1186.3h0M735.7 1148.9h0M573.1 1255.6h0M561.4 1183.1h0M721.2 1361.4h0M666.8 1316.2h0M557.1 1210.4h0M610.6 1436.3h0M629.7 1364.6h0M575.8 1401.8h0M696.7 1354.0h0M755.2 1196.1h0M738.9 1202.3h0M545.2 1212.4h0M566.6 1385.7h0M545.0 1116.8h0M742.1 1324.6h0M613.2 1234.7h0M546.8 1365.1h0M642.9 1449.2h0M576.0 1414.5h0M608.2 1389.6h0M581.9 1388.3h0M597.7 1269.8h0M545.1 1279.9h0M579.5 1325.8h0M544.8 1193.4h0M561.6 1214.5h0M668.6 1300.8h0M693.4 1273.5h0M572.6 1378.8h0M724.1 1253.4h0M544.4 1233.1h0M591.4 1346.5h0M557.8 1196.0h0M555.5 1247.2h0M595.3 1329.9h0M602.0 1370.1h0M712.3 1359.2h0M676.0 1432.6h0M747.3 1121.4h0M755.3 1248.3h0M753.4 1270.3h0M709.4 1146.3h0M575.8 1215.9h0M725.3 1343.4h0M734.5 1343.7h0M558.7 1314.3h0M706.7 1224.7h0M638.5 1453.7h0M592.3 1410.7h0M749.1 1224.1h0M632.2 1422.8h0M673.6 1280.4h0M734.7 1208.6h0M694.5 1328.0h0M734.2 1252.4h0M718.9 1356.0h0M547.8 1263.6h0M553.8 1331.8h0M740.8 1241.4h0M701.0 1225.2h0M749.0 1352.2h0M600.5 1270.3h0M681.5 1388.9h0M545.5 1281.6h0M737.1 1234.4h0M556.0 1215.0h0M695.9 1256.1h0M733.1 1300.1h0M584.2 1402.0h0M643.7 1427.4h0M589.5 1205.1h0M609.5 1432.2h0M706.4 1340.0h0M739.3 1347.5h0M669.7 1339.3h0M726.6 1336.4h0M632.7 1334.6h0M672.8 1299.8h0M712.5 1166.9h0M711.2 1279.0h0M611.7 1396.2h0M748.0 1196.1h0M754.9 1243.5h0M708.1 1309.0h0M730.4 1263.6h0M608.3 1263.7h0M704.0 1250.4h0M740.0 1148.7h0M559.9 1393.4h0M616.0 1389.0h0M689.2 1230.6h0M718.9 1262.6h0M726.4 1248.9h0M566.3 1129.0h0M544.5 1214.8h0M673.0 1288.0h0M547.9 1378.7h0M602.8 1339.0h0M604.4 1419.6h0M734.4 1239.7h0M546.2 1188.8h0M731.6 1394.3h0M689.3 1327.7h0M605.6 1338.3h0M730.3 1206.1h0M752.4 1322.9h0M714.8 1427.4h0M736.4 1285.4h0M557.9 1290.8h0M750.7 1233.3h0M689.1 1391.4h0M732.1 1353.6h0M632.7 1365.2h0M587.9 1363.6h0M561.8 1290.3h0M751.8 1289.9h0M677.0 1358.5h0M573.5 1415.9h0M676.7 1328.2h0M591.9 1277.4h0M744.7 1134.3h0M709.7 1198.2h0M639.8 1391.2h0M744.0 1346.8h0M625.9 1246.4h0M586.6 1229.9h0M595.9 1254.3h0M683.8 1358.0h0M673.6 1421.1h0M551.6 1390.3h0M596.9 1237.1h0M684.7 1339.1h0M572.1 1318.1h0M590.2 1171.5h0M547.4 1241.4h0M704.4 1378.9h0M602.6 1251.0h0M697.7 1227.7h0M617.0 1291.4h0M728.4 1408.6h0M742.8 1203.0h0M560.6 1232.9h0M653.6 1454.3h0M679.6 1243.9h0M585.5 1212.4h0M690.5 1350.1h0M740.5 1375.7h0M706.3 1307.9h0M568.4 1182.9h0M548.8 1187.1h0M594.0 1297.6h0M578.6 1394.0h0M587.8 1254.3h0M549.3 1366.0h0M748.8 1331.6h0M702.2 1257.6h0M556.4 1260.4h0M710.2 1244.9h0M580.5 1256.4h0M550.7 1200.5h0M669.6 1339.7h0M559.7 1394.0h0M578.1 1187.9h0M725.8 1379.2h0M542.3 1347.9h0M568.5 1408.5h0M663.2 1357.7h0M681.0 1316.0h0M695.0 1178.3h0M660.8 1334.3h0M751.9 1197.4h0M683.1 1296.8h0M598.7 1387.2h0M721.7 1295.4h0M747.7 1380.1h0M632.5 1357.9h0M705.5 1199.0h0M754.4 1313.8h0M619.8 1366.5h0M607.2 1289.2h0M753.8 1223.9h0M737.2 1323.7h0M732.3 1410.6h0M701.2 1286.8h0M548.0 1109.4h0M682.0 1319.6h0M715.0 1362.1h0M546.2 1204.1h0M704.5 1287.8h0M704.6 1287.6h0M705.8 1245.4h0M721.8 1196.6h0M717.1 1329.3h0M637.7 1408.4h0M710.8 1424.2h0M631.6 1421.8h0M561.6 1306.0h0M548.6 1328.1h0M640.3 1419.4h0M576.8 1159.2h0M700.1 1423.2h0M580.0 1396.5h0M680.5 1409.0h0M666.1 1309.9h0M616.2 1411.2h0M672.1 1440.3h0M682.2 1316.5h0M724.8 1266.3h0M715.7 1364.7h0M733.8 1093.8h0M568.7 1248.5h0M544.1 1301.1h0M562.7 1188.1h0M602.5 1337.7h0M665.9 1450.2h0M728.2 1368.5h0M544.6 1291.4h0M629.0 1438.5h0M728.9 1153.6h0M616.2 1403.5h0M573.1 1389.6h0M563.9 1108.9h0M568.9 1206.0h0M689.4 1289.7h0M745.1 1240.9h0M739.5 1295.3h0M567.1 1159.3h0M699.2 1296.7h0M733.0 1419.0h0M611.9 1370.3h0M684.6 1387.9h0M602.7 1427.2h0M708.3 1376.6h0M650.0 1454.0h0M728.5 1258.9h0M624.8 1318.9h0M743.8 1299.4h0M616.7 1212.0h0M706.6 1223.4h0M695.1 1270.8h0M548.9 1344.9h0M736.4 1401.8h0M548.3 1213.7h0M623.7 1439.7h0M554.8 1228.0h0M683.2 1329.4h0M627.8 1411.3h0M688.6 1240.0h0M600.7 1298.6h0M579.7 1305.8h0M558.8 1199.8h0M627.3 1411.7h0M673.1 1403.8h0M573.3 1312.5h0M550.2 1245.4h0M661.5 1349.9h0M724.0 1332.8h0M582.7 1391.0h0M673.0 1289.4h0M619.2 1347.1h0M619.1 1298.7h0M566.3 1243.2h0M613.8 1209.3h0M678.0 1361.7h0M705.4 1232.8h0M552.9 1104.1h0M732.3 1222.1h0M753.4 1327.0h0M571.6 1392.0h0M639.5 1406.9h0M615.2 1260.6h0M563.9 1353.7h0M708.1 1362.2h0M616.3 1344.0h0M600.8 1333.6h0M739.8 1300.3h0M712.2 1219.7h0M705.7 1387.8h0M593.4 1333.3h0M755.3 1301.7h0M588.0 1195.0h0M710.7 1335.9h0M702.3 1261.1h0M571.0 1191.5h0M637.3 1423.2h0M601.4 1409.5h0M699.2 1333.1h0M585.4 1376.1h0M584.8 1374.4h0M627.4 1313.2h0M584.6 1353.5h0M693.3 1401.2h0M660.9 1329.4h0M546.0 1154.7h0M551.6 1256.8h0M716.9 1193.1h0M633.6 1345.7h0M684.7 1431.4h0M749.6 1310.1h0M593.7 1219.0h0M633.3 1429.2h0M664.7 1352.0h0M689.2 1291.2h0M568.2 1169.6h0M686.0 1230.2h0M616.0 1436.1h0M739.9 1203.7h0M733.3 1232.8h0M578.5 1297.5h0M581.8 1311.0h0M559.4 1359.7h0M668.7 1313.0h0M745.5 1399.5h0M590.6 1285.2h0M550.5 1387.6h0M711.4 1361.3h0M550.6 1274.6h0M614.3 1213.4h0M755.2 1247.1h0M704.9 1303.9h0M586.1 1222.8h0M626.2 1221.7h0M737.8 1328.6h0M715.2 1329.6h0" stroke="#000000" stroke-width="9.4" stroke-linecap="round" fill="none"/>
<path d="M532.4 1280.6h0M503.9 1137.1h0M489.5 1034.7h0M490.4 1141.3h0M522.1 1212.6h0M477.6 1148.6h0M533.0 1160.3h0M511.6 1323.1h0M481.7 1156.0h0M490.3 1081.9h0M532.1 1168.4h0M443.8 1115.3h0M454.0 977.3h0M541.8 1218.1h0M512.2 1253.8h0M535.8 1236.0h0M484.7 1242.9h0M517.8 1237.6h0M360.8 867.0h0M534.1 1203.5h0M517.2 1285.2h0M508.1 1153.3h0M488.9 1133.1h0M534.9 1170.5h0M407.4 874.5h0M517.1 1140.3h0M524.4 1119.0h0" stroke="#00ff00" stroke-width="9.4" stroke-linecap="round" fill="none"/>
<path d="M803.2 1218.7h0M756.6 1251.1h0M829.3 1100.5h0M762.3 1228.0h0M786.9 1177.3h0" stroke="#ff0000" stroke-width="9.4" stroke-linecap="round" fill="none"/>
</g>
<line x1="285.5" x2="285.5" y1="837.9" y2="1488.0" stroke="#d0d0d0" stroke-width="2.8"/>
<path d="M284.6 837.9H892.6V1488.0H284.6" fill="none" stroke="#4d4d4d" stroke-width="1.4"/>
<line x1="328.5" x2="328.5" y1="1488.0" y2="1494.5" stroke="#333" stroke-width="1.8"/>
<line x1="435.4" x2="435.4" y1="1488.0" y2="1494.5" stroke="#333" stroke-width="1.8"/>
<line x1="542.3" x2="542.3" y1="1488.0" y2="1494.5" stroke="#333" stroke-width="1.8"/>
<line x1="649.2" x2="649.2" y1="1488.0" y2="1494.5" stroke="#333" stroke-width="1.8"/>
<line x1="756.1" x2="756.1" y1="1488.0" y2="1494.5" stroke="#333" stroke-width="1.8"/>
<line x1="863.0" x2="863.0" y1="1488.0" y2="1494.5" stroke="#333" stroke-width="1.8"/>
<line y1="1458.7" y2="1458.7" x1="278.8" x2="285.3" stroke="#333" stroke-width="1.8"/>
<line y1="1257.4" y2="1257.4" x1="278.8" x2="285.3" stroke="#333" stroke-width="1.8"/>
<line y1="1056.1" y2="1056.1" x1="278.8" x2="285.3" stroke="#333" stroke-width="1.8"/>
<line y1="854.8" y2="854.8" x1="278.8" x2="285.3" stroke="#333" stroke-width="1.8"/>
<text x="328.5" y="1512.6" text-anchor="middle" class="tk">−3</text>
<text x="435.4" y="1512.6" text-anchor="middle" class="tk">−2</text>
<text x="542.3" y="1512.6" text-anchor="middle" class="tk">−1</text>
<text x="649.2" y="1512.6" text-anchor="middle" class="tk">0</text>
<text x="756.1" y="1512.6" text-anchor="middle" class="tk">1</text>
<text x="863.0" y="1512.6" text-anchor="middle" class="tk">2</text>
<text x="274.3" y="1465.4" text-anchor="end" class="tk">0</text>
<text x="274.3" y="1264.1" text-anchor="end" class="tk">10</text>
<text x="274.3" y="1062.8" text-anchor="end" class="tk">20</text>
<text x="274.3" y="861.5" text-anchor="end" class="tk">30</text>
<text x="589.0" y="1540.0" text-anchor="middle" class="ti">logFC</text>
<text transform="translate(241.8 1163.0) rotate(-90)" text-anchor="middle" class="ti">−log10(adj.P.Val)</text>
<text x="928.0" y="1110.9" class="ti">Significant</text>
<circle cx="946.2" cy="1143.4" r="4.6" fill="#00ff00"/>
<text x="976.3" y="1150.0" class="lg">Down</text>
<circle cx="946.2" cy="1180.0" r="4.6" fill="#000"/>
<text x="976.3" y="1186.6" class="lg">Not</text>
<circle cx="946.2" cy="1216.6" r="4.6" fill="#ff0000"/>
<text x="976.3" y="1223.2" class="lg">Up</text>
<!-- Panel C -->
<text x="-0.5" y="1616" class="pl">C</text>
<defs><path id="e1" d="M159.9 1796.2L151.4 1804.1L143.8 1812.7L137.0 1822.0L131.1 1831.9L126.1 1842.3L122.0 1853.4L118.9 1865.0L116.6 1877.1L115.3 1889.6L114.9 1902.6L115.4 1916.0L116.9 1929.8L119.3 1943.9L122.7 1958.3L126.9 1973.0L132.1 1987.8L138.1 2002.9L145.1 2018.0L152.8 2033.3L161.4 2048.5L170.9 2063.8L181.1 2079.1L192.0 2094.3L203.7 2109.3L216.1 2124.2L229.1 2138.9L242.8 2153.3L257.0 2167.5L271.8 2181.3L287.1 2194.8L302.8 2207.9L319.0 2220.5L335.6 2232.7L352.5 2244.4L369.7 2255.5L387.1 2266.1L404.7 2276.1L422.4 2285.5L440.3 2294.2L458.2 2302.2L476.1 2309.6L493.9 2316.2L511.6 2322.1L529.2 2327.3L546.6 2331.7L563.7 2335.4L580.5 2338.2L597.0 2340.3L613.2 2341.5L628.8 2342.0L644.1 2341.7L658.8 2340.6L672.9 2338.6L686.5 2335.9L699.4 2332.4L711.6 2328.1L723.2 2323.1L734.0 2317.3L744.1 2310.8L753.4 2303.5L761.9 2295.6L769.5 2287.0L776.3 2277.7L782.2 2267.8L787.2 2257.4L791.3 2246.3L794.4 2234.7L796.7 2222.6L798.0 2210.1L798.4 2197.1L797.9 2183.7L796.4 2169.9L794.0 2155.8L790.6 2141.4L786.4 2126.7L781.2 2111.9L775.2 2096.8L768.2 2081.7L760.5 2066.4L751.9 2051.2L742.4 2035.9L732.2 2020.6L721.3 2005.4L709.6 1990.4L697.2 1975.5L684.2 1960.8L670.5 1946.4L656.3 1932.2L641.5 1918.4L626.2 1904.9L610.5 1891.8L594.3 1879.2L577.7 1867.0L560.8 1855.3L543.6 1844.2L526.2 1833.6L508.6 1823.6L490.9 1814.2L473.0 1805.5L455.1 1797.5L437.2 1790.1L419.4 1783.5L401.7 1777.6L384.1 1772.4L366.7 1768.0L349.6 1764.3L332.8 1761.5L316.3 1759.4L300.1 1758.2L284.5 1757.7L269.2 1758.0L254.5 1759.1L240.4 1761.1L226.8 1763.8L213.9 1767.3L201.7 1771.6L190.1 1776.6L179.3 1782.4L169.2 1788.9Z"/><clipPath id="ce1"><use href="#e1"/></clipPath><path id="e2" d="M339.8 1693.7L333.5 1699.7L328.1 1706.4L323.5 1713.8L319.8 1721.8L317.0 1730.5L315.0 1739.7L313.9 1749.5L313.7 1759.8L314.4 1770.7L315.9 1782.0L318.4 1793.8L321.7 1806.0L325.9 1818.6L330.9 1831.6L336.8 1844.8L343.4 1858.4L350.9 1872.2L359.2 1886.2L368.2 1900.4L378.0 1914.7L388.5 1929.1L399.6 1943.5L411.4 1957.9L423.9 1972.4L436.9 1986.7L450.4 2001.0L464.5 2015.0L479.0 2029.0L494.0 2042.6L509.3 2056.1L525.0 2069.2L541.0 2082.0L557.3 2094.4L573.8 2106.4L590.5 2118.0L607.2 2129.1L624.1 2139.8L641.0 2149.8L657.9 2159.4L674.7 2168.3L691.5 2176.7L708.0 2184.4L724.4 2191.5L740.5 2197.9L756.4 2203.6L771.9 2208.6L787.1 2212.9L801.8 2216.5L816.1 2219.3L829.9 2221.4L843.2 2222.7L855.9 2223.3L868.0 2223.1L879.4 2222.2L890.2 2220.5L900.3 2218.1L909.7 2214.9L918.3 2211.0L926.2 2206.4L933.2 2201.0L939.5 2195.0L944.9 2188.3L949.5 2180.9L953.2 2172.9L956.0 2164.2L958.0 2155.0L959.1 2145.2L959.3 2134.9L958.6 2124.0L957.1 2112.7L954.6 2100.9L951.3 2088.7L947.1 2076.1L942.1 2063.1L936.2 2049.8L929.6 2036.3L922.1 2022.5L913.8 2008.5L904.8 1994.3L895.0 1980.0L884.5 1965.6L873.4 1951.2L861.6 1936.8L849.1 1922.3L836.1 1908.0L822.6 1893.7L808.5 1879.7L794.0 1865.7L779.0 1852.1L763.7 1838.6L748.0 1825.5L732.0 1812.7L715.7 1800.3L699.2 1788.3L682.5 1776.7L665.8 1765.6L648.9 1754.9L632.0 1744.9L615.1 1735.3L598.3 1726.4L581.5 1718.0L565.0 1710.3L548.6 1703.2L532.5 1696.8L516.6 1691.1L501.1 1686.1L485.9 1681.8L471.2 1678.2L456.9 1675.4L443.1 1673.3L429.8 1672.0L417.1 1671.4L405.0 1671.6L393.6 1672.5L382.8 1674.2L372.7 1676.6L363.3 1679.8L354.7 1683.7L346.8 1688.3Z"/><clipPath id="ce2"><use href="#e2"/></clipPath><path id="e3" d="M916.3 1708.2L909.2 1702.8L901.5 1698.1L892.9 1694.1L883.7 1690.8L873.8 1688.2L863.3 1686.3L852.1 1685.1L840.4 1684.6L828.1 1684.9L815.2 1685.9L801.9 1687.5L788.1 1689.9L773.9 1693.1L759.3 1696.9L744.4 1701.3L729.2 1706.5L713.7 1712.3L698.1 1718.8L682.2 1725.9L666.3 1733.6L650.2 1741.9L634.1 1750.7L618.0 1760.1L602.0 1770.0L586.1 1780.4L570.3 1791.3L554.7 1802.6L539.3 1814.2L524.1 1826.3L509.3 1838.6L494.9 1851.3L480.8 1864.2L467.1 1877.4L453.9 1890.7L441.2 1904.2L429.1 1917.9L417.5 1931.6L406.5 1945.3L396.2 1959.1L386.5 1972.8L377.5 1986.4L369.2 2000.0L361.6 2013.4L354.8 2026.6L348.7 2039.6L343.5 2052.3L339.0 2064.8L335.4 2076.9L332.6 2088.7L330.6 2100.1L329.5 2111.1L329.2 2121.6L329.7 2131.7L331.1 2141.2L333.3 2150.2L336.4 2158.7L340.3 2166.6L345.0 2173.9L350.4 2180.5L356.7 2186.5L363.8 2191.9L371.5 2196.6L380.1 2200.6L389.3 2203.9L399.2 2206.5L409.7 2208.4L420.9 2209.6L432.6 2210.1L444.9 2209.8L457.8 2208.8L471.1 2207.2L484.9 2204.8L499.1 2201.6L513.7 2197.8L528.6 2193.3L543.8 2188.2L559.3 2182.4L574.9 2175.9L590.8 2168.8L606.7 2161.1L622.8 2152.8L638.9 2144.0L655.0 2134.6L671.0 2124.7L686.9 2114.3L702.7 2103.4L718.3 2092.1L733.7 2080.5L748.9 2068.4L763.7 2056.1L778.1 2043.4L792.2 2030.5L805.9 2017.3L819.1 2004.0L831.8 1990.5L843.9 1976.8L855.5 1963.1L866.5 1949.4L876.8 1935.6L886.5 1921.9L895.5 1908.3L903.8 1894.7L911.4 1881.3L918.2 1868.1L924.3 1855.1L929.5 1842.4L934.0 1829.9L937.6 1817.8L940.4 1806.0L942.4 1794.6L943.5 1783.6L943.8 1773.1L943.3 1763.0L941.9 1753.5L939.7 1744.5L936.6 1736.0L932.7 1728.1L928.0 1720.8L922.6 1714.2Z"/><clipPath id="ce3"><use href="#e3"/></clipPath><path id="e4" d="M1113.1 1796.2L1103.8 1788.9L1093.7 1782.4L1082.9 1776.6L1071.3 1771.6L1059.1 1767.3L1046.2 1763.8L1032.6 1761.1L1018.5 1759.1L1003.8 1758.0L988.5 1757.7L972.9 1758.2L956.7 1759.4L940.2 1761.5L923.4 1764.3L906.3 1768.0L888.9 1772.4L871.3 1777.6L853.6 1783.5L835.8 1790.1L817.9 1797.5L800.0 1805.5L782.1 1814.2L764.4 1823.6L746.8 1833.6L729.4 1844.2L712.2 1855.3L695.3 1867.0L678.7 1879.2L662.5 1891.8L646.8 1904.9L631.5 1918.4L616.7 1932.2L602.5 1946.4L588.8 1960.8L575.8 1975.5L563.4 1990.4L551.7 2005.4L540.8 2020.6L530.6 2035.9L521.1 2051.2L512.5 2066.4L504.8 2081.7L497.8 2096.8L491.8 2111.9L486.6 2126.7L482.4 2141.4L479.0 2155.8L476.6 2169.9L475.1 2183.7L474.6 2197.1L475.0 2210.1L476.3 2222.6L478.6 2234.7L481.7 2246.3L485.8 2257.4L490.8 2267.8L496.7 2277.7L503.5 2287.0L511.1 2295.6L519.6 2303.5L528.9 2310.8L539.0 2317.3L549.8 2323.1L561.4 2328.1L573.6 2332.4L586.5 2335.9L600.1 2338.6L614.2 2340.6L628.9 2341.7L644.2 2342.0L659.8 2341.5L676.0 2340.3L692.5 2338.2L709.3 2335.4L726.4 2331.7L743.8 2327.3L761.4 2322.1L779.1 2316.2L796.9 2309.6L814.8 2302.2L832.7 2294.2L850.6 2285.5L868.3 2276.1L885.9 2266.1L903.3 2255.5L920.5 2244.4L937.4 2232.7L954.0 2220.5L970.2 2207.9L985.9 2194.8L1001.2 2181.3L1016.0 2167.5L1030.2 2153.3L1043.9 2138.9L1056.9 2124.2L1069.3 2109.3L1081.0 2094.3L1091.9 2079.1L1102.1 2063.8L1111.6 2048.5L1120.2 2033.3L1127.9 2018.0L1134.9 2002.9L1140.9 1987.8L1146.1 1973.0L1150.3 1958.3L1153.7 1943.9L1156.1 1929.8L1157.6 1916.0L1158.1 1902.6L1157.7 1889.6L1156.4 1877.1L1154.1 1865.0L1151.0 1853.4L1146.9 1842.3L1141.9 1831.9L1136.0 1822.0L1129.2 1812.7L1121.6 1804.1Z"/><clipPath id="ce4"><use href="#e4"/></clipPath></defs>
<use href="#e1" fill="#ffbcbc"/>
<use href="#e2" fill="#bcffff"/>
<use href="#e3" fill="#cdbcff"/>
<use href="#e4" fill="#cdffbc"/>
<g clip-path="url(#ce2)"><use href="#e1" fill="#99c4c4"/></g>
<g clip-path="url(#ce3)"><use href="#e1" fill="#c489c4"/></g>
<g clip-path="url(#ce4)"><use href="#e1" fill="#e09989"/></g>
<g clip-path="url(#ce3)"><use href="#e2" fill="#8dc4ff"/></g>
<g clip-path="url(#ce4)"><use href="#e2" fill="#8dffc4"/></g>
<g clip-path="url(#ce4)"><use href="#e3" fill="#ac99c4"/></g>
<g clip-path="url(#ce3)"><g clip-path="url(#ce2)"><use href="#e1" fill="#77a5e0"/></g></g>
<g clip-path="url(#ce4)"><g clip-path="url(#ce2)"><use href="#e1" fill="#80c1a5"/></g></g>
<g clip-path="url(#ce4)"><g clip-path="url(#ce3)"><use href="#e1" fill="#b369a5"/></g></g>
<g clip-path="url(#ce4)"><g clip-path="url(#ce3)"><use href="#e2" fill="#6fc1e0"/></g></g>
<g clip-path="url(#ce4)"><g clip-path="url(#ce3)"><g clip-path="url(#ce2)"><use href="#e1" fill="#65a2d0"/></g></g></g>
<use href="#e1" fill="none" stroke="#000" stroke-width="2.9"/>
<use href="#e2" fill="none" stroke="#000" stroke-width="2.9"/>
<use href="#e3" fill="none" stroke="#000" stroke-width="2.9"/>
<use href="#e4" fill="none" stroke="#000" stroke-width="2.9"/>
<text x="456.6" y="1750.8" text-anchor="middle" class="vn">2655</text>
<text x="636.5" y="1832.8" text-anchor="middle" class="vn">131</text>
<text x="816.4" y="1750.8" text-anchor="middle" class="vn">77</text>
<text x="408.7" y="1853.3" text-anchor="middle" class="vn">230</text>
<text x="516.6" y="1945.6" text-anchor="middle" class="vn">115</text>
<text x="636.5" y="2058.3" text-anchor="middle" class="vn">40</text>
<text x="756.4" y="1945.6" text-anchor="middle" class="vn">0</text>
<text x="864.3" y="1853.3" text-anchor="middle" class="vn">0</text>
<text x="252.8" y="1945.6" text-anchor="middle" class="vn">810</text>
<text x="420.7" y="2109.6" text-anchor="middle" class="vn">27</text>
<text x="546.6" y="2150.6" text-anchor="middle" class="vn">0</text>
<text x="636.5" y="2253.1" text-anchor="middle" class="vn">14</text>
<text x="726.4" y="2150.6" text-anchor="middle" class="vn">15</text>
<text x="852.3" y="2109.6" text-anchor="middle" class="vn">275</text>
<text x="1020.2" y="1945.6" text-anchor="middle" class="vn">121</text>
<text x="456.7" y="1638.5" text-anchor="middle" class="vn">TCGA_diff</text>
<text x="184.4" y="1728.5" text-anchor="middle" class="vn">GEO_brown</text>
<text x="816.3" y="1638.5" text-anchor="middle" class="vn">TCGA_red</text>
<text x="1088.4" y="1728.3" text-anchor="middle" class="vn">GEO_diff</text>
</svg>
</body></html>
